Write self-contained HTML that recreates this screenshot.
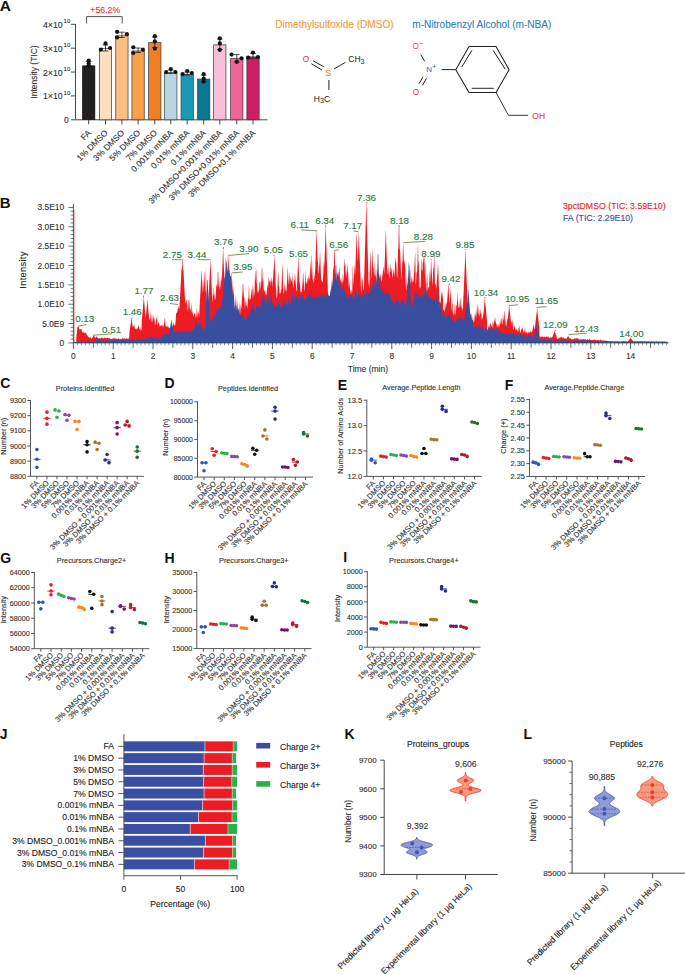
<!DOCTYPE html>
<html><head><meta charset="utf-8"><title>Figure</title>
<style>
html,body{margin:0;padding:0;background:#fff;}
svg{display:block;font-family:"Liberation Sans", sans-serif;}

</style></head><body>
<svg width="685" height="975" viewBox="0 0 685 975">
<rect x="0" y="0" width="685" height="975" fill="#fff"/>
<text x="-0.30" y="10.90" font-size="15.5" text-anchor="start" fill="#111" font-weight="bold">A</text>
<line x1="75.50" y1="24.00" x2="75.50" y2="119.80" stroke="#333" stroke-width="0.9"/>
<line x1="75.50" y1="119.80" x2="267.50" y2="119.80" stroke="#333" stroke-width="0.9"/>
<line x1="70.90" y1="119.80" x2="75.50" y2="119.80" stroke="#333" stroke-width="0.9"/>
<text x="68.90" y="122.90" font-size="8.6" text-anchor="end" fill="#333" stroke="#333" stroke-width="0.12">0</text>
<line x1="70.90" y1="95.92" x2="75.50" y2="95.92" stroke="#333" stroke-width="0.9"/>
<text x="70.3" y="99.42" font-size="8.8" text-anchor="end" fill="#333" stroke="#333" stroke-width="0.12">1×10<tspan font-size="6.0" dy="-4.9" dx="0.9">10</tspan></text>
<line x1="70.90" y1="72.05" x2="75.50" y2="72.05" stroke="#333" stroke-width="0.9"/>
<text x="70.3" y="75.55" font-size="8.8" text-anchor="end" fill="#333" stroke="#333" stroke-width="0.12">2×10<tspan font-size="6.0" dy="-4.9" dx="0.9">10</tspan></text>
<line x1="70.90" y1="48.17" x2="75.50" y2="48.17" stroke="#333" stroke-width="0.9"/>
<text x="70.3" y="51.67" font-size="8.8" text-anchor="end" fill="#333" stroke="#333" stroke-width="0.12">3×10<tspan font-size="6.0" dy="-4.9" dx="0.9">10</tspan></text>
<line x1="70.90" y1="24.30" x2="75.50" y2="24.30" stroke="#333" stroke-width="0.9"/>
<text x="70.3" y="27.80" font-size="8.8" text-anchor="end" fill="#333" stroke="#333" stroke-width="0.12">4×10<tspan font-size="6.0" dy="-4.9" dx="0.9">10</tspan></text>
<text x="37.40" y="72.00" font-size="8.5" text-anchor="middle" fill="#333" stroke="#333" stroke-width="0.12" transform="rotate(-90 37.40 72.00)">Intensity (TIC)</text>
<rect x="82.55" y="65.85" width="12.30" height="53.95" fill="#231f20"/>
<rect x="82.20" y="65.50" width="13.00" height="54.30" fill="#231f20"/>
<line x1="88.70" y1="61.50" x2="88.70" y2="65.50" stroke="#222" stroke-width="0.8"/>
<line x1="85.90" y1="61.50" x2="91.50" y2="61.50" stroke="#222" stroke-width="0.8"/>
<line x1="85.90" y1="65.50" x2="91.50" y2="65.50" stroke="#222" stroke-width="0.8"/>
<circle cx="88.70" cy="60.50" r="2.10" fill="#141414"/>
<circle cx="88.70" cy="63.50" r="2.10" fill="#141414"/>
<circle cx="88.70" cy="65.80" r="2.10" fill="#141414"/>
<line x1="88.70" y1="119.80" x2="88.70" y2="124.40" stroke="#333" stroke-width="0.9"/>
<text x="91.60" y="133.40" font-size="8.45" text-anchor="end" fill="#333" stroke="#333" stroke-width="0.12" transform="rotate(-45 91.60 133.40)">FA</text>
<rect x="99.35" y="48.55" width="12.30" height="71.25" fill="#fde0c2" stroke="#3a3a3a" stroke-width="0.7"/>
<line x1="105.50" y1="45.00" x2="105.50" y2="51.00" stroke="#222" stroke-width="0.8"/>
<line x1="102.70" y1="45.00" x2="108.30" y2="45.00" stroke="#222" stroke-width="0.8"/>
<line x1="102.70" y1="51.00" x2="108.30" y2="51.00" stroke="#222" stroke-width="0.8"/>
<circle cx="100.90" cy="49.70" r="2.10" fill="#141414"/>
<circle cx="105.50" cy="43.40" r="2.10" fill="#141414"/>
<circle cx="110.10" cy="48.00" r="2.10" fill="#141414"/>
<line x1="105.50" y1="119.80" x2="105.50" y2="124.40" stroke="#333" stroke-width="0.9"/>
<text x="108.40" y="133.40" font-size="8.45" text-anchor="end" fill="#333" stroke="#333" stroke-width="0.12" transform="rotate(-45 108.40 133.40)">1% DMSO</text>
<rect x="115.75" y="35.85" width="12.30" height="83.95" fill="#fdbe82" stroke="#3a3a3a" stroke-width="0.7"/>
<line x1="121.90" y1="32.20" x2="121.90" y2="37.50" stroke="#222" stroke-width="0.8"/>
<line x1="119.10" y1="32.20" x2="124.70" y2="32.20" stroke="#222" stroke-width="0.8"/>
<line x1="119.10" y1="37.50" x2="124.70" y2="37.50" stroke="#222" stroke-width="0.8"/>
<circle cx="117.10" cy="31.80" r="2.10" fill="#141414"/>
<circle cx="117.10" cy="37.50" r="2.10" fill="#141414"/>
<circle cx="126.90" cy="34.20" r="2.10" fill="#141414"/>
<line x1="121.90" y1="119.80" x2="121.90" y2="124.40" stroke="#333" stroke-width="0.9"/>
<text x="124.80" y="133.40" font-size="8.45" text-anchor="end" fill="#333" stroke="#333" stroke-width="0.12" transform="rotate(-45 124.80 133.40)">3% DMSO</text>
<rect x="131.95" y="50.95" width="12.30" height="68.85" fill="#f9a04a" stroke="#3a3a3a" stroke-width="0.7"/>
<line x1="138.10" y1="48.00" x2="138.10" y2="52.50" stroke="#222" stroke-width="0.8"/>
<line x1="135.30" y1="48.00" x2="140.90" y2="48.00" stroke="#222" stroke-width="0.8"/>
<line x1="135.30" y1="52.50" x2="140.90" y2="52.50" stroke="#222" stroke-width="0.8"/>
<circle cx="133.30" cy="47.30" r="2.10" fill="#141414"/>
<circle cx="133.30" cy="53.00" r="2.10" fill="#141414"/>
<circle cx="142.90" cy="49.70" r="2.10" fill="#141414"/>
<line x1="138.10" y1="119.80" x2="138.10" y2="124.40" stroke="#333" stroke-width="0.9"/>
<text x="141.00" y="133.40" font-size="8.45" text-anchor="end" fill="#333" stroke="#333" stroke-width="0.12" transform="rotate(-45 141.00 133.40)">5% DMSO</text>
<rect x="148.65" y="42.65" width="12.30" height="77.15" fill="#f07e22" stroke="#3a3a3a" stroke-width="0.7"/>
<line x1="154.80" y1="37.00" x2="154.80" y2="47.50" stroke="#222" stroke-width="0.8"/>
<line x1="152.00" y1="37.00" x2="157.60" y2="37.00" stroke="#222" stroke-width="0.8"/>
<line x1="152.00" y1="47.50" x2="157.60" y2="47.50" stroke="#222" stroke-width="0.8"/>
<circle cx="154.80" cy="36.20" r="2.10" fill="#141414"/>
<circle cx="154.80" cy="41.40" r="2.10" fill="#141414"/>
<circle cx="154.80" cy="48.60" r="2.10" fill="#141414"/>
<line x1="154.80" y1="119.80" x2="154.80" y2="124.40" stroke="#333" stroke-width="0.9"/>
<text x="157.70" y="133.40" font-size="8.45" text-anchor="end" fill="#333" stroke="#333" stroke-width="0.12" transform="rotate(-45 157.70 133.40)">7% DMSO</text>
<rect x="164.65" y="72.45" width="12.30" height="47.35" fill="#b9d5e0" stroke="#3a3a3a" stroke-width="0.7"/>
<line x1="170.80" y1="70.00" x2="170.80" y2="73.50" stroke="#222" stroke-width="0.8"/>
<line x1="168.00" y1="70.00" x2="173.60" y2="70.00" stroke="#222" stroke-width="0.8"/>
<line x1="168.00" y1="73.50" x2="173.60" y2="73.50" stroke="#222" stroke-width="0.8"/>
<circle cx="166.20" cy="72.20" r="2.10" fill="#141414"/>
<circle cx="170.80" cy="69.00" r="2.10" fill="#141414"/>
<circle cx="175.40" cy="72.10" r="2.10" fill="#141414"/>
<line x1="170.80" y1="119.80" x2="170.80" y2="124.40" stroke="#333" stroke-width="0.9"/>
<text x="173.70" y="133.40" font-size="8.45" text-anchor="end" fill="#333" stroke="#333" stroke-width="0.12" transform="rotate(-45 173.70 133.40)">0.001% mNBA</text>
<rect x="181.05" y="74.45" width="12.30" height="45.35" fill="#1b98b4" stroke="#3a3a3a" stroke-width="0.7"/>
<line x1="187.20" y1="72.00" x2="187.20" y2="75.00" stroke="#222" stroke-width="0.8"/>
<line x1="184.40" y1="72.00" x2="190.00" y2="72.00" stroke="#222" stroke-width="0.8"/>
<line x1="184.40" y1="75.00" x2="190.00" y2="75.00" stroke="#222" stroke-width="0.8"/>
<circle cx="182.60" cy="74.10" r="2.10" fill="#141414"/>
<circle cx="187.20" cy="71.00" r="2.10" fill="#141414"/>
<circle cx="191.80" cy="73.00" r="2.10" fill="#141414"/>
<line x1="187.20" y1="119.80" x2="187.20" y2="124.40" stroke="#333" stroke-width="0.9"/>
<text x="190.10" y="133.40" font-size="8.45" text-anchor="end" fill="#333" stroke="#333" stroke-width="0.12" transform="rotate(-45 190.10 133.40)">0.01% mNBA</text>
<rect x="197.55" y="79.05" width="12.30" height="40.75" fill="#0e7790" stroke="#3a3a3a" stroke-width="0.7"/>
<line x1="203.70" y1="75.00" x2="203.70" y2="81.50" stroke="#222" stroke-width="0.8"/>
<line x1="200.90" y1="75.00" x2="206.50" y2="75.00" stroke="#222" stroke-width="0.8"/>
<line x1="200.90" y1="81.50" x2="206.50" y2="81.50" stroke="#222" stroke-width="0.8"/>
<circle cx="203.70" cy="74.10" r="2.10" fill="#141414"/>
<circle cx="203.70" cy="78.70" r="2.10" fill="#141414"/>
<circle cx="203.70" cy="81.70" r="2.10" fill="#141414"/>
<line x1="203.70" y1="119.80" x2="203.70" y2="124.40" stroke="#333" stroke-width="0.9"/>
<text x="206.60" y="133.40" font-size="8.45" text-anchor="end" fill="#333" stroke="#333" stroke-width="0.12" transform="rotate(-45 206.60 133.40)">0.1% mNBA</text>
<rect x="213.65" y="44.85" width="12.30" height="74.95" fill="#f5bfd8" stroke="#3a3a3a" stroke-width="0.7"/>
<line x1="219.80" y1="39.00" x2="219.80" y2="49.50" stroke="#222" stroke-width="0.8"/>
<line x1="217.00" y1="39.00" x2="222.60" y2="39.00" stroke="#222" stroke-width="0.8"/>
<line x1="217.00" y1="49.50" x2="222.60" y2="49.50" stroke="#222" stroke-width="0.8"/>
<circle cx="219.80" cy="38.40" r="2.10" fill="#141414"/>
<circle cx="219.80" cy="43.40" r="2.10" fill="#141414"/>
<circle cx="219.80" cy="49.90" r="2.10" fill="#141414"/>
<line x1="219.80" y1="119.80" x2="219.80" y2="124.40" stroke="#333" stroke-width="0.9"/>
<text x="222.70" y="133.40" font-size="8.45" text-anchor="end" fill="#333" stroke="#333" stroke-width="0.12" transform="rotate(-45 222.70 133.40)">3% DMSO+0.001% mNBA</text>
<rect x="230.65" y="58.65" width="12.30" height="61.15" fill="#ee6497" stroke="#3a3a3a" stroke-width="0.7"/>
<line x1="236.80" y1="54.60" x2="236.80" y2="62.00" stroke="#222" stroke-width="0.8"/>
<line x1="234.00" y1="54.60" x2="239.60" y2="54.60" stroke="#222" stroke-width="0.8"/>
<line x1="234.00" y1="62.00" x2="239.60" y2="62.00" stroke="#222" stroke-width="0.8"/>
<circle cx="231.60" cy="54.60" r="2.10" fill="#141414"/>
<circle cx="241.50" cy="58.30" r="2.10" fill="#141414"/>
<circle cx="236.80" cy="61.80" r="2.10" fill="#141414"/>
<line x1="236.80" y1="119.80" x2="236.80" y2="124.40" stroke="#333" stroke-width="0.9"/>
<text x="239.70" y="133.40" font-size="8.45" text-anchor="end" fill="#333" stroke="#333" stroke-width="0.12" transform="rotate(-45 239.70 133.40)">3% DMSO+0.01% mNBA</text>
<rect x="246.85" y="56.85" width="12.30" height="62.95" fill="#cf1d63" stroke="#3a3a3a" stroke-width="0.7"/>
<line x1="253.00" y1="53.50" x2="253.00" y2="58.50" stroke="#222" stroke-width="0.8"/>
<line x1="250.20" y1="53.50" x2="255.80" y2="53.50" stroke="#222" stroke-width="0.8"/>
<line x1="250.20" y1="58.50" x2="255.80" y2="58.50" stroke="#222" stroke-width="0.8"/>
<circle cx="253.00" cy="52.60" r="2.10" fill="#141414"/>
<circle cx="248.10" cy="57.70" r="2.10" fill="#141414"/>
<circle cx="257.90" cy="57.20" r="2.10" fill="#141414"/>
<line x1="253.00" y1="119.80" x2="253.00" y2="124.40" stroke="#333" stroke-width="0.9"/>
<text x="255.90" y="133.40" font-size="8.45" text-anchor="end" fill="#333" stroke="#333" stroke-width="0.12" transform="rotate(-45 255.90 133.40)">3% DMSO+0.1% mNBA</text>
<path d="M86.6,23.5 L86.6,16.6 L122.2,16.6 L122.2,23.5" fill="none" stroke="#444" stroke-width="0.9"/>
<text x="105.30" y="13.10" font-size="8.8" text-anchor="middle" fill="#e8343c" stroke="#e8343c" stroke-width="0.12">+56.2%</text>
<text x="334.40" y="27.50" font-size="10.05" text-anchor="middle" fill="#f39a3c" stroke="#f39a3c" stroke-width="0.12">Dimethylsulfoxide (DMSO)</text>
<text x="481.80" y="27.70" font-size="10.05" text-anchor="middle" fill="#2f7fbf" stroke="#2f7fbf" stroke-width="0.12">m-Nitrobenzyl Alcohol (m-NBA)</text>
<text x="306.00" y="61.60" font-size="8.2" text-anchor="middle" fill="#ec3b43" stroke="#ec3b43" stroke-width="0.12">O</text>
<line x1="313.10" y1="60.80" x2="323.60" y2="66.60" stroke="#222" stroke-width="1.0"/>
<line x1="311.40" y1="63.70" x2="322.10" y2="70.10" stroke="#222" stroke-width="1.0"/>
<text x="328.30" y="75.60" font-size="9.0" text-anchor="middle" fill="#c9a227" stroke="#c9a227" stroke-width="0.12">S</text>
<line x1="334.10" y1="68.90" x2="345.50" y2="62.30" stroke="#222" stroke-width="1.0"/>
<text x="348.3" y="61.8" font-size="8.5" fill="#222">CH<tspan font-size="7.2" dy="1.9">3</tspan></text>
<line x1="328.90" y1="80.00" x2="328.90" y2="90.00" stroke="#222" stroke-width="1.0"/>
<text x="313.8" y="102.3" font-size="8.5" fill="#222">H<tspan font-size="7.2" dy="0.6">3</tspan><tspan dy="-0.6">C</tspan></text>
<text x="412.6" y="49.4" font-size="8.2" fill="#ec3b43">O<tspan font-size="8" dy="-3.4">−</tspan></text>
<line x1="420.80" y1="54.70" x2="424.70" y2="61.30" stroke="#222" stroke-width="1.0"/>
<text x="426.2" y="72.2" font-size="8.0" fill="#3f5fb8">N<tspan font-size="7.8" dy="-3.4">+</tspan></text>
<line x1="423.00" y1="76.90" x2="419.00" y2="83.60" stroke="#222" stroke-width="1.0"/>
<line x1="426.50" y1="78.30" x2="422.50" y2="85.30" stroke="#222" stroke-width="1.0"/>
<text x="416.00" y="95.40" font-size="8.2" text-anchor="middle" fill="#ec3b43" stroke="#ec3b43" stroke-width="0.12">O</text>
<line x1="441.80" y1="69.60" x2="455.80" y2="69.60" stroke="#222" stroke-width="1.0"/>
<polygon points="455.8,69.7 469.0,46.4 496.0,46.4 509.1,69.7 496.0,92.4 469.0,92.4" fill="none" stroke="#222" stroke-width="1.05" stroke-linejoin="miter"/>
<line x1="461.70" y1="67.10" x2="471.90" y2="50.30" stroke="#222" stroke-width="1.0"/>
<line x1="493.10" y1="50.30" x2="505.20" y2="69.20" stroke="#222" stroke-width="1.0"/>
<line x1="471.90" y1="88.30" x2="493.80" y2="88.30" stroke="#222" stroke-width="1.0"/>
<line x1="496.00" y1="92.40" x2="508.40" y2="115.30" stroke="#222" stroke-width="0.9"/>
<line x1="508.40" y1="115.30" x2="528.10" y2="115.30" stroke="#222" stroke-width="0.9"/>
<text x="532.30" y="118.90" font-size="8.5" text-anchor="start" fill="#ec3b43" stroke="#ec3b43" stroke-width="0.12">OH</text>
<text x="-0.20" y="207.60" font-size="15" text-anchor="start" fill="#111" font-weight="bold">B</text>
<path d="M74.0,342.9 L74.00,342.5 L74.25,342.5 L74.50,342.5 L74.75,342.5 L75.00,342.5 L75.25,342.5 L75.50,342.5 L75.75,342.5 L76.00,342.5 L76.25,342.2 L76.50,334.9 L76.75,333.8 L77.00,331.9 L77.25,327.6 L77.50,327.1 L77.75,327.1 L78.00,327.3 L78.25,326.7 L78.50,326.0 L78.75,326.0 L79.00,327.7 L79.25,328.7 L79.50,329.6 L79.75,329.5 L80.00,329.4 L80.25,329.3 L80.50,329.1 L80.75,329.0 L81.00,329.1 L81.25,329.0 L81.50,329.8 L81.75,330.4 L82.00,331.2 L82.25,331.7 L82.50,332.2 L82.75,332.6 L83.00,332.7 L83.25,332.8 L83.50,332.3 L83.75,331.8 L84.00,331.2 L84.25,332.3 L84.50,333.4 L84.75,333.4 L85.00,333.1 L85.25,333.0 L85.50,332.9 L85.75,332.5 L86.00,332.4 L86.25,333.5 L86.50,334.3 L86.75,335.2 L87.00,335.1 L87.25,335.1 L87.50,335.5 L87.75,336.2 L88.00,336.6 L88.25,336.9 L88.50,336.8 L88.75,337.3 L89.00,337.6 L89.25,337.9 L89.50,337.7 L89.75,337.5 L90.00,337.2 L90.25,337.0 L90.50,337.5 L90.75,338.0 L91.00,338.3 L91.25,338.5 L91.50,338.5 L91.75,338.4 L92.00,338.1 L92.25,337.7 L92.50,337.4 L92.75,336.9 L93.00,336.4 L93.25,335.9 L93.50,335.0 L93.75,335.0 L94.00,335.6 L94.25,336.1 L94.50,336.6 L94.75,337.1 L95.00,337.6 L95.25,337.7 L95.50,337.6 L95.75,338.1 L96.00,337.3 L96.25,336.5 L96.50,336.1 L96.75,336.8 L97.00,337.4 L97.25,337.9 L97.50,337.4 L97.75,338.0 L98.00,338.4 L98.25,338.6 L98.50,338.4 L98.75,338.2 L99.00,338.2 L99.25,338.1 L99.50,338.2 L99.75,338.4 L100.00,338.6 L100.25,338.3 L100.50,338.3 L100.75,338.4 L101.00,337.8 L101.25,337.4 L101.50,337.3 L101.75,337.9 L102.00,338.4 L102.25,338.3 L102.50,337.9 L102.75,337.6 L103.00,337.9 L103.25,338.4 L103.50,338.5 L103.75,338.1 L104.00,337.4 L104.25,337.2 L104.50,337.7 L104.75,338.0 L105.00,338.5 L105.25,338.1 L105.50,338.0 L105.75,337.8 L106.00,337.9 L106.25,338.1 L106.50,338.3 L106.75,338.3 L107.00,338.2 L107.25,338.0 L107.50,337.7 L107.75,337.8 L108.00,338.1 L108.25,338.4 L108.50,338.2 L108.75,337.8 L109.00,337.9 L109.25,338.3 L109.50,338.1 L109.75,338.3 L110.00,338.6 L110.25,338.8 L110.50,339.1 L110.75,339.0 L111.00,338.7 L111.25,338.9 L111.50,339.0 L111.75,338.9 L112.00,338.7 L112.25,338.4 L112.50,338.4 L112.75,338.6 L113.00,338.9 L113.25,339.1 L113.50,338.5 L113.75,337.8 L114.00,337.3 L114.25,337.6 L114.50,338.4 L114.75,338.7 L115.00,338.9 L115.25,338.7 L115.50,338.5 L115.75,338.5 L116.00,338.2 L116.25,338.4 L116.50,338.6 L116.75,339.0 L117.00,339.3 L117.25,339.2 L117.50,338.9 L117.75,338.7 L118.00,339.0 L118.25,338.6 L118.50,338.1 L118.75,338.3 L119.00,338.9 L119.25,339.2 L119.50,338.9 L119.75,339.4 L120.00,339.5 L120.25,339.2 L120.50,338.8 L120.75,338.7 L121.00,339.0 L121.25,339.2 L121.50,338.9 L121.75,338.9 L122.00,339.0 L122.25,338.5 L122.50,338.0 L122.75,338.0 L123.00,338.3 L123.25,338.7 L123.50,338.2 L123.75,338.6 L124.00,339.1 L124.25,338.8 L124.50,338.5 L124.75,338.1 L125.00,338.3 L125.25,338.7 L125.50,339.0 L125.75,338.5 L126.00,338.7 L126.25,338.9 L126.50,338.3 L126.75,337.9 L127.00,337.9 L127.25,338.4 L127.50,338.9 L127.75,339.2 L128.00,339.6 L128.25,339.1 L128.50,338.5 L128.75,338.2 L129.00,337.5 L129.25,336.9 L129.50,330.9 L129.75,329.5 L130.00,328.0 L130.25,326.5 L130.50,325.0 L130.75,323.5 L131.00,322.0 L131.25,319.0 L131.50,319.0 L131.75,319.0 L132.00,322.0 L132.25,323.5 L132.50,325.0 L132.75,326.5 L133.00,327.1 L133.25,326.3 L133.50,326.8 L133.75,325.4 L134.00,323.4 L134.25,325.0 L134.50,326.5 L134.75,327.9 L135.00,329.1 L135.25,328.7 L135.50,327.9 L135.75,328.8 L136.00,329.8 L136.25,329.2 L136.50,328.5 L136.75,328.6 L137.00,329.1 L137.25,329.3 L137.50,328.3 L137.75,327.5 L138.00,327.3 L138.25,325.8 L138.50,324.8 L138.75,326.5 L139.00,328.1 L139.25,329.7 L139.50,328.9 L139.75,328.2 L140.00,326.5 L140.25,327.5 L140.50,329.1 L140.75,330.4 L141.00,330.4 L141.25,329.9 L141.50,329.8 L141.75,320.8 L142.00,318.0 L142.25,315.2 L142.50,312.3 L142.75,309.5 L143.00,306.7 L143.25,303.8 L143.50,301.0 L143.75,297.6 L144.00,297.6 L144.25,302.7 L144.50,305.5 L144.75,308.4 L145.00,311.2 L145.25,314.0 L145.50,316.9 L145.75,317.8 L146.00,315.1 L146.25,312.4 L146.50,309.7 L146.75,307.1 L147.00,304.4 L147.25,300.1 L147.50,300.1 L147.75,303.8 L148.00,306.5 L148.25,309.2 L148.50,311.9 L148.75,314.5 L149.00,317.2 L149.25,319.9 L149.50,320.2 L149.75,318.6 L150.00,320.3 L150.25,318.0 L150.50,315.8 L150.75,311.5 L151.00,312.8 L151.25,316.3 L151.50,318.6 L151.75,320.9 L152.00,322.3 L152.25,321.6 L152.50,320.1 L152.75,317.0 L153.00,313.6 L153.25,315.6 L153.50,318.8 L153.75,318.7 L154.00,316.9 L154.25,317.9 L154.50,320.0 L154.75,321.6 L155.00,324.1 L155.25,325.7 L155.50,324.4 L155.75,322.6 L156.00,319.5 L156.25,318.0 L156.50,320.7 L156.75,317.4 L157.00,313.7 L157.25,319.1 L157.50,324.3 L157.75,325.7 L158.00,324.0 L158.25,322.0 L158.50,321.7 L158.75,323.6 L159.00,323.3 L159.25,324.1 L159.50,324.7 L159.75,326.5 L160.00,327.1 L160.25,325.5 L160.50,325.1 L160.75,326.0 L161.00,325.8 L161.25,325.3 L161.50,325.2 L161.75,325.3 L162.00,326.1 L162.25,326.9 L162.50,325.6 L162.75,324.4 L163.00,324.8 L163.25,325.8 L163.50,327.2 L163.75,326.0 L164.00,324.5 L164.25,323.1 L164.50,320.8 L164.75,318.0 L165.00,317.9 L165.25,321.0 L165.50,323.8 L165.75,325.8 L166.00,327.4 L166.25,326.6 L166.50,325.7 L166.75,326.0 L167.00,327.0 L167.25,327.6 L167.50,326.6 L167.75,325.2 L168.00,325.1 L168.25,326.3 L168.50,327.4 L168.75,327.4 L169.00,327.6 L169.25,328.1 L169.50,328.3 L169.75,328.2 L170.00,328.2 L170.25,328.4 L170.50,328.5 L170.75,328.7 L171.00,328.8 L171.25,328.9 L171.50,327.9 L171.75,326.5 L172.00,325.3 L172.25,326.2 L172.50,327.6 L172.75,326.2 L173.00,325.1 L173.25,323.7 L173.50,322.1 L173.75,323.1 L174.00,324.8 L174.25,326.4 L174.50,325.2 L174.75,324.4 L175.00,324.7 L175.25,324.8 L175.50,321.9 L175.75,319.4 L176.00,315.8 L176.25,312.6 L176.50,312.9 L176.75,312.6 L177.00,312.7 L177.25,311.6 L177.50,310.9 L177.75,308.6 L178.00,306.0 L178.25,306.0 L178.50,307.9 L178.75,308.5 L179.00,309.0 L179.25,308.5 L179.50,307.2 L179.75,302.6 L180.00,298.0 L180.25,293.3 L180.50,288.6 L180.75,283.9 L181.00,279.2 L181.25,274.6 L181.50,268.0 L181.75,268.0 L182.00,271.0 L182.25,260.7 L182.50,260.7 L182.75,260.7 L183.00,271.0 L183.25,270.0 L183.50,270.0 L183.75,276.4 L184.00,280.9 L184.25,285.5 L184.50,290.0 L184.75,294.6 L185.00,299.2 L185.25,303.7 L185.50,302.6 L185.75,302.0 L186.00,299.4 L186.25,299.2 L186.50,300.2 L186.75,302.0 L187.00,305.5 L187.25,307.4 L187.50,309.2 L187.75,309.8 L188.00,311.3 L188.25,306.7 L188.50,300.9 L188.75,299.3 L189.00,300.2 L189.25,298.4 L189.50,304.0 L189.75,307.9 L190.00,309.2 L190.25,310.7 L190.50,308.0 L190.75,308.8 L191.00,311.9 L191.25,312.7 L191.50,306.4 L191.75,301.2 L192.00,306.9 L192.25,314.5 L192.50,313.8 L192.75,311.3 L193.00,311.7 L193.25,315.8 L193.50,316.8 L193.75,316.0 L194.00,315.1 L194.25,312.7 L194.50,314.1 L194.75,314.0 L195.00,312.6 L195.25,315.7 L195.50,314.1 L195.75,317.3 L196.00,318.1 L196.25,316.2 L196.50,312.4 L196.75,309.4 L197.00,306.9 L197.25,311.6 L197.50,316.2 L197.75,317.7 L198.00,313.5 L198.25,313.1 L198.50,312.6 L198.75,311.1 L199.00,314.9 L199.25,316.0 L199.50,308.6 L199.75,304.1 L200.00,299.6 L200.25,295.1 L200.50,290.6 L200.75,286.0 L201.00,281.5 L201.25,277.0 L201.50,270.7 L201.75,270.7 L202.00,277.9 L202.25,282.4 L202.50,286.9 L202.75,291.5 L203.00,293.3 L203.25,288.8 L203.50,284.4 L203.75,280.0 L204.00,272.0 L204.25,272.0 L204.50,277.3 L204.75,281.7 L205.00,286.2 L205.25,290.6 L205.50,292.7 L205.75,276.4 L206.00,265.9 L206.25,282.1 L206.50,296.6 L206.75,310.1 L207.00,319.6 L207.25,322.1 L207.50,318.2 L207.75,314.7 L208.00,311.0 L208.25,305.0 L208.50,299.9 L208.75,294.8 L209.00,289.7 L209.25,284.5 L209.50,279.4 L209.75,274.3 L210.00,269.2 L210.25,261.0 L210.50,261.0 L210.75,268.2 L211.00,273.3 L211.25,278.4 L211.50,283.5 L211.75,288.6 L212.00,293.8 L212.25,298.9 L212.50,303.6 L212.75,296.3 L213.00,292.7 L213.25,296.3 L213.50,293.8 L213.75,287.7 L214.00,289.0 L214.25,293.6 L214.50,295.2 L214.75,299.2 L215.00,300.7 L215.25,299.1 L215.50,298.2 L215.75,294.4 L216.00,290.1 L216.25,286.4 L216.50,284.8 L216.75,283.7 L217.00,287.7 L217.25,285.3 L217.50,280.9 L217.75,272.0 L218.00,272.0 L218.25,272.0 L218.50,280.9 L218.75,285.3 L219.00,286.9 L219.25,289.8 L219.50,287.3 L219.75,282.2 L220.00,278.2 L220.25,281.5 L220.50,287.0 L220.75,288.9 L221.00,281.6 L221.25,273.4 L221.50,281.3 L221.75,281.0 L222.00,275.2 L222.25,269.3 L222.50,263.5 L222.75,257.7 L223.00,249.5 L223.25,249.5 L223.50,258.8 L223.75,264.7 L224.00,270.5 L224.25,276.4 L224.50,282.2 L224.75,282.6 L225.00,277.3 L225.25,272.0 L225.50,266.7 L225.75,258.2 L226.00,258.2 L226.25,265.6 L226.50,270.9 L226.75,267.2 L227.00,253.7 L227.25,267.5 L227.50,279.9 L227.75,274.5 L228.00,269.0 L228.25,263.6 L228.50,255.2 L228.75,256.0 L229.00,264.7 L229.25,270.1 L229.50,275.6 L229.75,278.8 L230.00,285.2 L230.25,289.2 L230.50,292.5 L230.75,289.6 L231.00,285.2 L231.25,280.9 L231.50,273.0 L231.75,273.0 L232.00,278.2 L232.25,282.6 L232.50,287.0 L232.75,291.3 L233.00,291.9 L233.25,285.8 L233.50,292.0 L233.75,299.2 L234.00,306.7 L234.25,314.3 L234.50,312.7 L234.75,309.4 L235.00,307.0 L235.25,305.0 L235.50,300.7 L235.75,294.9 L236.00,297.1 L236.25,301.4 L236.50,306.1 L236.75,310.6 L237.00,307.8 L237.25,310.6 L237.50,303.2 L237.75,299.2 L238.00,310.0 L238.25,319.0 L238.50,318.9 L238.75,319.2 L239.00,314.8 L239.25,308.0 L239.50,300.8 L239.75,308.6 L240.00,315.2 L240.25,311.4 L240.50,308.4 L240.75,303.1 L241.00,307.4 L241.25,309.1 L241.50,306.0 L241.75,302.3 L242.00,298.6 L242.25,295.0 L242.50,291.3 L242.75,283.9 L243.00,283.9 L243.25,283.9 L243.50,291.3 L243.75,295.0 L244.00,298.6 L244.25,295.7 L244.50,299.9 L244.75,304.5 L245.00,310.0 L245.25,303.9 L245.50,297.2 L245.75,300.9 L246.00,306.0 L246.25,305.9 L246.50,301.5 L246.75,304.3 L247.00,306.2 L247.25,309.2 L247.50,305.9 L247.75,301.4 L248.00,297.4 L248.25,299.0 L248.50,298.1 L248.75,288.7 L249.00,284.0 L249.25,292.9 L249.50,299.1 L249.75,300.7 L250.00,298.5 L250.25,297.9 L250.50,300.3 L250.75,298.4 L251.00,293.5 L251.25,288.2 L251.50,289.2 L251.75,295.4 L252.00,291.9 L252.25,282.4 L252.50,289.8 L252.75,295.8 L253.00,299.1 L253.25,295.9 L253.50,291.1 L253.75,285.6 L254.00,291.6 L254.25,295.7 L254.50,294.3 L254.75,285.2 L255.00,273.8 L255.25,267.1 L255.50,278.9 L255.75,281.2 L256.00,272.1 L256.25,267.8 L256.50,276.8 L256.75,283.8 L257.00,284.5 L257.25,293.5 L257.50,292.2 L257.75,291.0 L258.00,287.4 L258.25,290.2 L258.50,291.4 L258.75,293.9 L259.00,291.1 L259.25,286.7 L259.50,281.4 L259.75,282.0 L260.00,284.2 L260.25,280.3 L260.50,285.5 L260.75,291.1 L261.00,286.8 L261.25,282.1 L261.50,277.5 L261.75,268.1 L262.00,268.1 L262.25,268.1 L262.50,277.5 L262.75,282.1 L263.00,280.8 L263.25,278.8 L263.50,283.7 L263.75,289.0 L264.00,291.4 L264.25,291.7 L264.50,291.1 L264.75,289.7 L265.00,289.2 L265.25,291.6 L265.50,293.7 L265.75,294.5 L266.00,294.2 L266.25,294.8 L266.50,295.4 L266.75,292.4 L267.00,288.3 L267.25,283.5 L267.50,285.6 L267.75,288.1 L268.00,289.8 L268.25,284.9 L268.50,280.3 L268.75,277.0 L269.00,278.5 L269.25,280.9 L269.50,283.1 L269.75,280.7 L270.00,280.2 L270.25,279.4 L270.50,283.4 L270.75,286.0 L271.00,278.3 L271.25,277.2 L271.50,282.3 L271.75,281.9 L272.00,277.4 L272.25,281.9 L272.50,288.0 L272.75,282.9 L273.00,279.3 L273.25,275.6 L273.50,271.0 L273.75,270.1 L274.00,264.7 L274.25,256.0 L274.50,256.0 L274.75,263.6 L275.00,269.0 L275.25,274.5 L275.50,279.9 L275.75,285.3 L276.00,289.2 L276.25,291.8 L276.50,295.6 L276.75,298.8 L277.00,297.7 L277.25,295.0 L277.50,288.9 L277.75,281.5 L278.00,273.0 L278.25,271.8 L278.50,277.3 L278.75,285.2 L279.00,286.3 L279.25,289.5 L279.50,292.7 L279.75,293.4 L280.00,293.7 L280.25,293.3 L280.50,292.9 L280.75,292.0 L281.00,287.9 L281.25,291.4 L281.50,287.4 L281.75,281.9 L282.00,274.1 L282.25,266.4 L282.50,264.3 L282.75,273.1 L283.00,281.9 L283.25,289.2 L283.50,294.0 L283.75,293.8 L284.00,292.2 L284.25,289.1 L284.50,286.0 L284.75,283.2 L285.00,286.1 L285.25,288.0 L285.50,291.1 L285.75,291.7 L286.00,288.8 L286.25,290.8 L286.50,291.4 L286.75,286.5 L287.00,281.1 L287.25,277.5 L287.50,271.2 L287.75,266.0 L288.00,271.3 L288.25,276.9 L288.50,282.5 L288.75,285.8 L289.00,276.9 L289.25,270.7 L289.50,274.2 L289.75,280.2 L290.00,284.8 L290.25,281.0 L290.50,277.2 L290.75,275.3 L291.00,280.5 L291.25,281.5 L291.50,279.3 L291.75,278.9 L292.00,282.4 L292.25,285.0 L292.50,277.9 L292.75,271.1 L293.00,279.0 L293.25,287.4 L293.50,288.2 L293.75,286.2 L294.00,282.6 L294.25,280.1 L294.50,280.1 L294.75,275.6 L295.00,271.9 L295.25,276.5 L295.50,280.3 L295.75,283.3 L296.00,286.2 L296.25,290.8 L296.50,291.3 L296.75,291.2 L297.00,285.9 L297.25,280.7 L297.50,275.4 L297.75,270.1 L298.00,264.8 L298.25,258.5 L298.50,258.5 L298.75,268.0 L299.00,273.3 L299.25,278.5 L299.50,283.8 L299.75,281.2 L300.00,284.2 L300.25,287.2 L300.50,291.4 L300.75,292.1 L301.00,291.8 L301.25,292.0 L301.50,292.0 L301.75,292.9 L302.00,289.8 L302.25,286.3 L302.50,283.5 L302.75,278.3 L303.00,273.4 L303.25,272.3 L303.50,278.3 L303.75,282.2 L304.00,285.2 L304.25,289.8 L304.50,291.8 L304.75,288.7 L305.00,279.4 L305.25,270.6 L305.50,272.8 L305.75,281.2 L306.00,284.2 L306.25,280.9 L306.50,281.8 L306.75,284.1 L307.00,284.3 L307.25,282.9 L307.50,278.3 L307.75,276.7 L308.00,281.0 L308.25,278.5 L308.50,274.6 L308.75,277.4 L309.00,282.2 L309.25,277.5 L309.50,279.4 L309.75,276.7 L310.00,269.8 L310.25,260.4 L310.50,264.0 L310.75,270.1 L311.00,275.9 L311.25,270.0 L311.50,262.7 L311.75,253.4 L312.00,258.2 L312.25,268.2 L312.50,273.9 L312.75,279.7 L313.00,280.7 L313.25,283.8 L313.50,279.1 L313.75,278.9 L314.00,282.7 L314.25,278.6 L314.50,276.8 L314.75,273.4 L315.00,272.3 L315.25,268.8 L315.50,261.8 L315.75,254.8 L316.00,247.8 L316.25,240.8 L316.50,231.0 L316.75,231.0 L317.00,242.2 L317.25,249.2 L317.50,256.2 L317.75,261.0 L318.00,263.3 L318.25,267.5 L318.50,272.4 L318.75,274.2 L319.00,270.1 L319.25,264.8 L319.50,264.5 L319.75,257.4 L320.00,251.6 L320.25,256.0 L320.50,263.6 L320.75,270.0 L321.00,276.8 L321.25,280.6 L321.50,281.6 L321.75,279.9 L322.00,279.2 L322.25,282.0 L322.50,282.2 L322.75,282.8 L323.00,279.2 L323.25,273.4 L323.50,268.9 L323.75,263.9 L324.00,259.4 L324.25,268.1 L324.50,262.1 L324.75,254.9 L325.00,247.7 L325.25,240.5 L325.50,227.5 L325.75,227.5 L326.00,236.2 L326.25,243.4 L326.50,250.6 L326.75,257.8 L327.00,265.0 L327.25,272.2 L327.50,279.4 L327.75,286.6 L328.00,296.3 L328.25,299.2 L328.50,300.8 L328.75,302.5 L329.00,301.7 L329.25,305.0 L329.50,303.0 L329.75,299.4 L330.00,294.0 L330.25,288.4 L330.50,290.0 L330.75,293.7 L331.00,294.3 L331.25,294.6 L331.50,291.7 L331.75,287.5 L332.00,285.9 L332.25,288.4 L332.50,286.7 L332.75,280.0 L333.00,270.3 L333.25,265.4 L333.50,270.9 L333.75,267.8 L334.00,262.1 L334.25,250.5 L334.50,250.5 L334.75,250.5 L335.00,262.1 L335.25,267.8 L335.50,273.6 L335.75,273.0 L336.00,284.0 L336.25,282.3 L336.50,278.0 L336.75,273.6 L337.00,271.0 L337.25,274.3 L337.50,273.7 L337.75,277.0 L338.00,272.0 L338.25,271.5 L338.50,277.2 L338.75,274.7 L339.00,270.1 L339.25,266.4 L339.50,268.8 L339.75,273.4 L340.00,278.8 L340.25,281.8 L340.50,280.1 L340.75,279.2 L341.00,277.5 L341.25,278.5 L341.50,282.3 L341.75,282.2 L342.00,283.9 L342.25,283.0 L342.50,280.8 L342.75,275.1 L343.00,273.2 L343.25,280.6 L343.50,281.8 L343.75,278.3 L344.00,270.2 L344.25,260.2 L344.50,258.0 L344.75,264.3 L345.00,266.1 L345.25,261.9 L345.50,269.8 L345.75,275.6 L346.00,269.5 L346.25,270.5 L346.50,275.3 L346.75,278.0 L347.00,274.0 L347.25,271.4 L347.50,265.9 L347.75,262.9 L348.00,269.1 L348.25,274.0 L348.50,279.8 L348.75,285.8 L349.00,288.1 L349.25,284.8 L349.50,281.7 L349.75,284.5 L350.00,290.1 L350.25,290.3 L350.50,290.6 L350.75,293.1 L351.00,294.3 L351.25,292.2 L351.50,288.7 L351.75,290.8 L352.00,293.0 L352.25,290.5 L352.50,279.1 L352.75,267.0 L353.00,265.3 L353.25,275.9 L353.50,285.7 L353.75,281.5 L354.00,275.8 L354.25,269.2 L354.50,263.1 L354.75,269.0 L355.00,275.6 L355.25,270.8 L355.50,263.9 L355.75,257.1 L356.00,250.3 L356.25,243.5 L356.50,234.0 L356.75,234.0 L357.00,244.9 L357.25,251.7 L357.50,258.5 L357.75,261.8 L358.00,255.0 L358.25,248.1 L358.50,241.2 L358.75,233.0 L359.00,233.0 L359.25,245.4 L359.50,252.2 L359.75,259.1 L360.00,266.0 L360.25,272.8 L360.50,274.5 L360.75,282.3 L361.00,291.4 L361.25,294.0 L361.50,287.0 L361.75,276.9 L362.00,280.4 L362.25,278.6 L362.50,278.3 L362.75,282.8 L363.00,288.4 L363.25,291.2 L363.50,290.7 L363.75,289.1 L364.00,285.6 L364.25,274.9 L364.50,266.2 L364.75,257.5 L365.00,248.8 L365.25,240.1 L365.50,231.4 L365.75,222.7 L366.00,214.0 L366.25,203.5 L366.50,203.5 L366.75,219.2 L367.00,227.9 L367.25,236.6 L367.50,245.3 L367.75,254.0 L368.00,262.7 L368.25,271.5 L368.50,280.2 L368.75,283.7 L369.00,285.8 L369.25,288.6 L369.50,280.8 L369.75,272.9 L370.00,262.5 L370.25,251.3 L370.50,253.1 L370.75,262.8 L371.00,273.1 L371.25,279.7 L371.50,273.3 L371.75,264.7 L372.00,255.4 L372.25,248.3 L372.50,255.4 L372.75,261.8 L373.00,267.7 L373.25,268.8 L373.50,265.5 L373.75,271.0 L374.00,273.4 L374.25,276.3 L374.50,274.5 L374.75,261.8 L375.00,263.9 L375.25,276.0 L375.50,277.2 L375.75,272.9 L376.00,267.9 L376.25,271.4 L376.50,277.4 L376.75,280.8 L377.00,283.6 L377.25,285.0 L377.50,282.6 L377.75,280.1 L378.00,277.7 L378.25,273.8 L378.50,270.7 L378.75,273.6 L379.00,273.7 L379.25,276.2 L379.50,278.8 L379.75,277.1 L380.00,273.3 L380.25,273.5 L380.50,275.9 L380.75,276.4 L381.00,280.5 L381.25,281.8 L381.50,279.6 L381.75,281.4 L382.00,278.5 L382.25,276.0 L382.50,274.9 L382.75,272.7 L383.00,269.4 L383.25,266.0 L383.50,267.8 L383.75,270.4 L384.00,271.6 L384.25,274.4 L384.50,267.4 L384.75,260.4 L385.00,253.4 L385.25,246.4 L385.50,239.4 L385.75,231.0 L386.00,231.0 L386.25,243.6 L386.50,250.6 L386.75,257.6 L387.00,264.6 L387.25,271.6 L387.50,275.4 L387.75,271.0 L388.00,267.9 L388.25,267.0 L388.50,269.3 L388.75,273.1 L389.00,276.1 L389.25,279.2 L389.50,276.0 L389.75,271.2 L390.00,266.7 L390.25,262.4 L390.50,267.0 L390.75,272.1 L391.00,272.1 L391.25,268.2 L391.50,268.0 L391.75,270.0 L392.00,273.6 L392.25,277.6 L392.50,276.9 L392.75,275.4 L393.00,267.7 L393.25,269.6 L393.50,274.2 L393.75,271.9 L394.00,269.7 L394.25,274.3 L394.50,277.7 L394.75,272.1 L395.00,265.1 L395.25,258.7 L395.50,257.3 L395.75,261.2 L396.00,264.1 L396.25,260.1 L396.50,267.1 L396.75,272.5 L397.00,277.2 L397.25,278.0 L397.50,270.8 L397.75,263.6 L398.00,248.8 L398.25,249.1 L398.50,241.9 L398.75,227.5 L399.00,227.5 L399.25,227.5 L399.50,241.9 L399.75,249.1 L400.00,250.7 L400.25,252.4 L400.50,260.2 L400.75,265.4 L401.00,273.1 L401.25,278.5 L401.50,280.0 L401.75,274.3 L402.00,267.6 L402.25,262.3 L402.50,261.3 L402.75,255.1 L403.00,244.0 L403.25,244.0 L403.50,251.4 L403.75,257.6 L404.00,263.8 L404.25,263.8 L404.50,259.4 L404.75,260.4 L405.00,266.0 L405.25,269.8 L405.50,277.0 L405.75,285.1 L406.00,288.9 L406.25,291.1 L406.50,285.2 L406.75,278.4 L407.00,273.0 L407.25,280.0 L407.50,285.7 L407.75,283.2 L408.00,287.0 L408.25,282.3 L408.50,279.2 L408.75,274.9 L409.00,278.8 L409.25,279.3 L409.50,266.0 L409.75,264.1 L410.00,272.0 L410.25,268.5 L410.50,280.0 L410.75,284.1 L411.00,280.7 L411.25,276.8 L411.50,276.4 L411.75,280.9 L412.00,283.5 L412.25,282.4 L412.50,281.3 L412.75,278.4 L413.00,279.5 L413.25,281.4 L413.50,282.1 L413.75,278.9 L414.00,267.3 L414.25,254.5 L414.50,270.3 L414.75,273.4 L415.00,254.5 L415.25,251.7 L415.50,268.5 L415.75,284.6 L416.00,284.0 L416.25,277.6 L416.50,272.4 L416.75,271.7 L417.00,273.2 L417.25,268.0 L417.50,261.0 L417.75,250.7 L418.00,243.6 L418.25,253.8 L418.50,264.0 L418.75,261.0 L419.00,271.4 L419.25,278.9 L419.50,286.7 L419.75,288.7 L420.00,286.4 L420.25,287.8 L420.50,288.8 L420.75,283.5 L421.00,272.4 L421.25,259.7 L421.50,259.0 L421.75,269.6 L422.00,269.9 L422.25,270.9 L422.50,270.5 L422.75,262.1 L423.00,261.5 L423.25,256.0 L423.50,256.4 L423.75,263.1 L424.00,260.1 L424.25,251.8 L424.50,260.8 L424.75,268.2 L425.00,277.2 L425.25,284.1 L425.50,274.4 L425.75,259.3 L426.00,267.4 L426.25,282.5 L426.50,296.0 L426.75,286.7 L427.00,278.9 L427.25,272.0 L427.50,282.0 L427.75,292.1 L428.00,289.0 L428.25,287.6 L428.50,286.4 L428.75,287.2 L429.00,289.4 L429.25,280.3 L429.50,270.6 L429.75,272.0 L430.00,282.7 L430.25,280.1 L430.50,274.9 L430.75,269.8 L431.00,260.5 L431.25,260.5 L431.50,266.7 L431.75,271.8 L432.00,275.2 L432.25,281.5 L432.50,285.8 L432.75,280.3 L433.00,274.4 L433.25,268.2 L433.50,267.5 L433.75,267.9 L434.00,255.9 L434.25,253.5 L434.50,264.7 L434.75,275.5 L435.00,285.0 L435.25,285.5 L435.50,283.3 L435.75,283.2 L436.00,286.1 L436.25,289.2 L436.50,286.0 L436.75,283.4 L437.00,280.4 L437.25,274.5 L437.50,273.3 L437.75,268.8 L438.00,263.1 L438.25,266.6 L438.50,274.4 L438.75,282.8 L439.00,288.4 L439.25,296.2 L439.50,300.9 L439.75,302.2 L440.00,301.9 L440.25,302.8 L440.50,304.3 L440.75,301.0 L441.00,298.2 L441.25,293.8 L441.50,289.3 L441.75,296.0 L442.00,291.9 L442.25,298.2 L442.50,295.1 L442.75,291.0 L443.00,299.8 L443.25,310.8 L443.50,309.5 L443.75,309.1 L444.00,310.8 L444.25,312.4 L444.50,311.6 L444.75,306.5 L445.00,301.9 L445.25,302.9 L445.50,307.6 L445.75,309.6 L446.00,307.7 L446.25,304.7 L446.50,301.8 L446.75,304.1 L447.00,303.5 L447.25,299.9 L447.50,296.3 L447.75,292.6 L448.00,289.0 L448.25,284.6 L448.50,284.6 L448.75,291.2 L449.00,294.8 L449.25,298.4 L449.50,302.1 L449.75,303.4 L450.00,297.7 L450.25,291.4 L450.50,286.9 L450.75,293.2 L451.00,299.3 L451.25,304.6 L451.50,309.6 L451.75,311.2 L452.00,305.6 L452.25,299.0 L452.50,303.6 L452.75,310.4 L453.00,315.7 L453.25,312.9 L453.50,311.2 L453.75,313.6 L454.00,315.9 L454.25,314.1 L454.50,309.4 L454.75,305.2 L455.00,302.8 L455.25,307.3 L455.50,314.5 L455.75,314.4 L456.00,310.9 L456.25,306.0 L456.50,304.2 L456.75,307.3 L457.00,300.2 L457.25,291.6 L457.50,295.1 L457.75,301.4 L458.00,300.4 L458.25,305.0 L458.50,308.6 L458.75,306.8 L459.00,307.0 L459.25,308.0 L459.50,306.0 L459.75,301.7 L460.00,297.9 L460.25,297.7 L460.50,300.9 L460.75,304.3 L461.00,307.4 L461.25,303.7 L461.50,306.0 L461.75,308.5 L462.00,311.4 L462.25,309.0 L462.50,307.5 L462.75,308.9 L463.00,307.3 L463.25,300.6 L463.50,294.9 L463.75,289.2 L464.00,283.5 L464.25,277.8 L464.50,272.1 L464.75,266.4 L465.00,260.6 L465.25,251.5 L465.50,251.5 L465.75,259.5 L466.00,265.2 L466.25,270.9 L466.50,276.6 L466.75,282.3 L467.00,288.1 L467.25,293.8 L467.50,299.5 L467.75,324.7 L468.00,324.9 L468.25,322.7 L468.50,321.6 L468.75,323.3 L469.00,325.8 L469.25,326.6 L469.50,324.8 L469.75,325.0 L470.00,324.5 L470.25,322.2 L470.50,320.4 L470.75,317.4 L471.00,316.3 L471.25,319.6 L471.50,321.2 L471.75,319.1 L472.00,315.9 L472.25,317.4 L472.50,320.3 L472.75,319.9 L473.00,319.3 L473.25,322.5 L473.50,322.2 L473.75,319.2 L474.00,316.6 L474.25,313.6 L474.50,319.0 L474.75,322.6 L475.00,318.0 L475.25,311.1 L475.50,314.0 L475.75,317.6 L476.00,315.0 L476.25,307.4 L476.50,313.4 L476.75,318.2 L477.00,314.9 L477.25,310.7 L477.50,307.3 L477.75,304.1 L478.00,305.3 L478.25,307.9 L478.50,310.9 L478.75,314.7 L479.00,314.0 L479.25,317.0 L479.50,314.8 L479.75,311.9 L480.00,309.3 L480.25,308.5 L480.50,312.4 L480.75,314.5 L481.00,312.1 L481.25,312.2 L481.50,315.4 L481.75,319.9 L482.00,320.3 L482.25,314.0 L482.50,318.5 L482.75,319.2 L483.00,317.0 L483.25,315.1 L483.50,312.6 L483.75,310.7 L484.00,307.9 L484.25,305.0 L484.50,302.2 L484.75,297.7 L485.00,297.7 L485.25,301.7 L485.50,304.5 L485.75,307.3 L486.00,310.1 L486.25,313.0 L486.50,315.8 L486.75,318.6 L487.00,321.4 L487.25,332.2 L487.50,332.2 L487.75,331.9 L488.00,327.5 L488.25,324.7 L488.50,327.1 L488.75,330.9 L489.00,328.3 L489.25,322.8 L489.50,327.4 L489.75,327.4 L490.00,324.5 L490.25,323.1 L490.50,322.5 L490.75,325.1 L491.00,326.8 L491.25,326.5 L491.50,324.3 L491.75,326.2 L492.00,325.1 L492.25,320.7 L492.50,324.5 L492.75,327.7 L493.00,328.2 L493.25,324.2 L493.50,319.8 L493.75,324.2 L494.00,323.6 L494.25,320.0 L494.50,321.6 L494.75,318.7 L495.00,315.9 L495.25,318.4 L495.50,320.9 L495.75,322.0 L496.00,323.5 L496.25,323.3 L496.50,324.1 L496.75,326.2 L497.00,326.0 L497.25,324.5 L497.50,325.8 L497.75,327.3 L498.00,328.1 L498.25,326.0 L498.50,322.8 L498.75,325.2 L499.00,326.9 L499.25,326.4 L499.50,325.5 L499.75,322.4 L500.00,321.2 L500.25,324.4 L500.50,323.2 L500.75,320.4 L501.00,318.1 L501.25,317.9 L501.50,319.3 L501.75,322.2 L502.00,323.8 L502.25,324.7 L502.50,323.6 L502.75,317.6 L503.00,313.2 L503.25,319.7 L503.50,320.8 L503.75,319.1 L504.00,315.0 L504.25,310.2 L504.50,311.9 L504.75,317.1 L505.00,322.5 L505.25,326.2 L505.50,323.3 L505.75,320.1 L506.00,318.6 L506.25,322.1 L506.50,325.4 L506.75,327.1 L507.00,322.7 L507.25,319.2 L507.50,318.5 L507.75,319.2 L508.00,316.9 L508.25,314.5 L508.50,312.2 L508.75,309.9 L509.00,305.7 L509.25,305.7 L509.50,308.5 L509.75,310.8 L510.00,313.1 L510.25,315.5 L510.50,317.8 L510.75,320.1 L511.00,322.4 L511.25,320.9 L511.50,321.7 L511.75,323.1 L512.00,325.9 L512.25,321.7 L512.50,318.4 L512.75,322.9 L513.00,325.9 L513.25,329.3 L513.50,330.2 L513.75,328.7 L514.00,326.3 L514.25,327.0 L514.50,326.7 L514.75,324.3 L515.00,329.2 L515.25,325.9 L515.50,328.3 L515.75,330.1 L516.00,330.7 L516.25,329.7 L516.50,328.4 L516.75,328.3 L517.00,329.5 L517.25,331.2 L517.50,332.0 L517.75,330.1 L518.00,327.8 L518.25,327.2 L518.50,329.6 L518.75,331.8 L519.00,331.3 L519.25,327.9 L519.50,324.6 L519.75,327.6 L520.00,331.0 L520.25,333.0 L520.50,332.6 L520.75,331.9 L521.00,330.1 L521.25,329.6 L521.50,327.9 L521.75,328.6 L522.00,330.2 L522.25,328.4 L522.50,326.5 L522.75,328.2 L523.00,330.7 L523.25,333.1 L523.50,332.3 L523.75,330.5 L524.00,330.2 L524.25,332.3 L524.50,331.5 L524.75,329.7 L525.00,327.5 L525.25,329.2 L525.50,331.5 L525.75,333.5 L526.00,333.1 L526.25,332.4 L526.50,332.4 L526.75,330.5 L527.00,332.3 L527.25,333.7 L527.50,333.5 L527.75,332.4 L528.00,331.5 L528.25,332.8 L528.50,333.2 L528.75,331.8 L529.00,331.1 L529.25,331.4 L529.50,332.6 L529.75,333.2 L530.00,332.4 L530.25,331.8 L530.50,330.3 L530.75,331.4 L531.00,332.1 L531.25,331.7 L531.50,331.8 L531.75,332.9 L532.00,332.5 L532.25,331.2 L532.50,330.2 L532.75,328.7 L533.00,326.6 L533.25,324.6 L533.50,325.3 L533.75,326.9 L534.00,328.5 L534.25,329.6 L534.50,328.1 L534.75,326.5 L535.00,326.7 L535.25,324.6 L535.50,322.4 L535.75,320.3 L536.00,318.2 L536.25,316.0 L536.50,313.9 L536.75,311.8 L537.00,308.8 L537.25,308.8 L537.50,312.2 L537.75,314.3 L538.00,316.5 L538.25,318.6 L538.50,320.7 L538.75,322.9 L539.00,325.0 L539.25,327.1 L539.50,336.1 L539.75,336.8 L540.00,337.0 L540.25,336.8 L540.50,336.5 L540.75,336.4 L541.00,336.7 L541.25,337.0 L541.50,336.8 L541.75,336.4 L542.00,336.0 L542.25,336.2 L542.50,336.7 L542.75,336.9 L543.00,337.3 L543.25,337.5 L543.50,337.1 L543.75,336.8 L544.00,336.4 L544.25,336.7 L544.50,336.9 L544.75,336.6 L545.00,336.9 L545.25,337.0 L545.50,336.8 L545.75,337.1 L546.00,337.0 L546.25,336.7 L546.50,336.6 L546.75,336.2 L547.00,336.5 L547.25,336.9 L547.50,337.2 L547.75,336.7 L548.00,336.1 L548.25,336.2 L548.50,336.9 L548.75,337.5 L549.00,337.9 L549.25,337.5 L549.50,337.5 L549.75,337.8 L550.00,337.8 L550.25,337.1 L550.50,336.9 L550.75,337.7 L551.00,337.4 L551.25,336.9 L551.50,337.5 L551.75,338.0 L552.00,337.8 L552.25,337.3 L552.50,336.5 L552.75,335.9 L553.00,335.6 L553.25,334.9 L553.50,334.1 L553.75,333.4 L554.00,332.6 L554.25,331.9 L554.50,330.8 L554.75,330.8 L555.00,332.0 L555.25,332.8 L555.50,333.5 L555.75,334.3 L556.00,335.0 L556.25,335.8 L556.50,336.5 L556.75,337.3 L557.00,338.4 L557.25,338.7 L557.50,339.0 L557.75,338.8 L558.00,338.9 L558.25,338.8 L558.50,338.5 L558.75,338.3 L559.00,338.0 L559.25,338.1 L559.50,338.1 L559.75,337.5 L560.00,336.7 L560.25,336.7 L560.50,337.6 L560.75,337.8 L561.00,337.4 L561.25,337.2 L561.50,337.2 L561.75,336.3 L562.00,336.7 L562.25,337.6 L562.50,338.1 L562.75,337.8 L563.00,337.4 L563.25,337.4 L563.50,337.7 L563.75,337.8 L564.00,337.7 L564.25,338.2 L564.50,338.6 L564.75,338.9 L565.00,338.7 L565.25,338.6 L565.50,338.2 L565.75,338.3 L566.00,338.7 L566.25,339.2 L566.50,338.8 L566.75,338.3 L567.00,337.9 L567.25,337.5 L567.50,337.0 L567.75,336.6 L568.00,336.0 L568.25,336.0 L568.50,336.7 L568.75,337.1 L569.00,337.6 L569.25,338.0 L569.50,338.4 L569.75,338.3 L570.00,338.0 L570.25,337.9 L570.50,338.4 L570.75,338.7 L571.00,338.9 L571.25,339.1 L571.50,339.4 L571.75,339.3 L572.00,339.4 L572.25,339.4 L572.50,339.2 L572.75,338.9 L573.00,338.7 L573.25,338.9 L573.50,339.2 L573.75,339.2 L574.00,339.0 L574.25,338.6 L574.50,338.3 L574.75,338.2 L575.00,338.5 L575.25,338.7 L575.50,338.9 L575.75,338.3 L576.00,337.8 L576.25,337.7 L576.50,338.2 L576.75,338.6 L577.00,338.3 L577.25,338.0 L577.50,338.6 L577.75,339.0 L578.00,338.5 L578.25,337.9 L578.50,338.7 L578.75,339.3 L579.00,339.5 L579.25,339.4 L579.50,339.2 L579.75,339.5 L580.00,339.7 L580.25,339.7 L580.50,339.5 L580.75,339.3 L581.00,338.8 L581.25,339.0 L581.50,339.4 L581.75,339.6 L582.00,339.5 L582.25,339.3 L582.50,339.3 L582.75,339.4 L583.00,339.6 L583.25,339.5 L583.50,339.0 L583.75,338.5 L584.00,338.7 L584.25,339.2 L584.50,339.8 L584.75,339.4 L585.00,339.1 L585.25,339.1 L585.50,339.4 L585.75,339.6 L586.00,339.9 L586.25,339.7 L586.50,339.4 L586.75,339.8 L587.00,339.7 L587.25,339.2 L587.50,338.7 L587.75,339.3 L588.00,339.8 L588.25,340.0 L588.50,339.9 L588.75,339.8 L589.00,339.6 L589.25,339.3 L589.50,338.9 L589.75,339.0 L590.00,339.3 L590.25,339.7 L590.50,339.9 L590.75,340.1 L591.00,340.2 L591.25,340.1 L591.50,340.0 L591.75,340.0 L592.00,339.9 L592.25,340.0 L592.50,340.1 L592.75,340.1 L593.00,340.2 L593.25,340.2 L593.50,339.9 L593.75,339.7 L594.00,339.5 L594.25,339.3 L594.50,339.5 L594.75,339.7 L595.00,339.9 L595.25,339.8 L595.50,339.9 L595.75,340.1 L596.00,340.3 L596.25,340.3 L596.50,340.2 L596.75,340.3 L597.00,340.3 L597.25,340.3 L597.50,340.1 L597.75,340.0 L598.00,340.0 L598.25,340.1 L598.50,340.4 L598.75,340.3 L599.00,340.3 L599.25,340.5 L599.50,340.6 L599.75,340.3 L600.00,340.0 L600.25,339.8 L600.50,339.6 L600.75,339.8 L601.00,340.1 L601.25,340.2 L601.50,340.3 L601.75,340.5 L602.00,340.5 L602.25,340.4 L602.50,340.4 L602.75,340.6 L603.00,340.8 L603.25,340.6 L603.50,340.4 L603.75,340.5 L604.00,340.3 L604.25,340.2 L604.50,340.5 L604.75,340.8 L605.00,340.9 L605.25,340.8 L605.50,340.6 L605.75,340.5 L606.00,340.6 L606.25,340.8 L606.50,341.0 L606.75,341.2 L607.00,341.1 L607.25,341.1 L607.50,341.1 L607.75,341.1 L608.00,341.2 L608.25,341.3 L608.50,341.4 L608.75,341.3 L609.00,341.1 L609.25,341.0 L609.50,341.3 L609.75,341.3 L610.00,341.4 L610.25,341.6 L610.50,341.7 L610.75,341.4 L611.00,341.5 L611.25,341.5 L611.50,341.1 L611.75,341.3 L612.00,341.6 L612.25,341.5 L612.50,341.2 L612.75,341.0 L613.00,341.3 L613.25,341.6 L613.50,341.8 L613.75,341.8 L614.00,341.8 L614.25,341.7 L614.50,341.8 L614.75,341.7 L615.00,341.8 L615.25,341.6 L615.50,341.4 L615.75,341.6 L616.00,341.7 L616.25,341.9 L616.50,341.8 L616.75,341.7 L617.00,341.6 L617.25,341.7 L617.50,341.8 L617.75,341.8 L618.00,341.7 L618.25,341.7 L618.50,341.8 L618.75,341.9 L619.00,341.9 L619.25,342.1 L619.50,342.1 L619.75,342.2 L620.00,342.1 L620.25,342.0 L620.50,342.0 L620.75,342.1 L621.00,342.1 L621.25,341.8 L621.50,341.6 L621.75,341.6 L622.00,341.9 L622.25,341.8 L622.50,341.5 L622.75,341.6 L623.00,341.8 L623.25,341.5 L623.50,341.2 L623.75,341.4 L624.00,341.3 L624.25,341.4 L624.50,341.4 L624.75,341.0 L625.00,341.2 L625.25,341.4 L625.50,341.7 L625.75,341.8 L626.00,341.8 L626.25,341.8 L626.50,341.8 L626.75,341.8 L627.00,341.7 L627.25,341.7 L627.50,341.7 L627.75,341.7 L628.00,341.7 L628.25,341.7 L628.50,340.6 L628.75,340.3 L629.00,340.0 L629.25,339.7 L629.50,339.3 L629.75,339.0 L630.00,338.7 L630.25,338.4 L630.50,338.0 L630.75,338.0 L631.00,338.5 L631.25,338.8 L631.50,339.1 L631.75,339.4 L632.00,339.7 L632.25,340.0 L632.50,340.3 L632.75,340.6 L633.00,341.5 L633.25,341.6 L633.50,341.4 L633.75,341.4 L634.00,341.6 L634.25,341.6 L634.50,341.6 L634.75,341.8 L635.00,341.7 L635.25,341.4 L635.50,341.5 L635.75,341.7 L636.00,341.9 L636.25,341.7 L636.50,341.5 L636.75,341.6 L637.00,341.5 L637.25,341.4 L637.50,341.3 L637.75,341.3 L638.00,341.1 L638.25,341.3 L638.50,341.4 L638.75,341.6 L639.00,341.7 L639.25,341.7 L639.50,341.8 L639.75,341.6 L640.00,341.3 L640.25,341.2 L640.50,341.4 L640.75,341.2 L641.00,340.9 L641.25,340.9 L641.50,341.1 L641.75,341.3 L642.00,341.5 L642.25,341.7 L642.50,341.8 L642.75,341.8 L643.00,341.7 L643.25,341.7 L643.50,341.7 L643.75,341.6 L644.00,341.5 L644.25,341.6 L644.50,341.7 L644.75,341.8 L645.00,341.7 L645.25,341.7 L645.50,341.8 L645.75,341.7 L646.00,341.5 L646.25,341.4 L646.50,341.6 L646.75,341.7 L647.00,341.8 L647.25,341.8 L647.50,341.6 L647.75,341.3 L648.00,341.4 L648.25,341.6 L648.50,341.6 L648.75,341.6 L649.00,341.6 L649.25,341.5 L649.50,341.6 L649.75,341.6 L650.00,341.7 L650.25,341.7 L650.50,341.6 L650.75,341.6 L651.00,341.6 L651.25,341.5 L651.50,341.4 L651.75,341.3 L652.00,341.4 L652.25,341.6 L652.50,341.4 L652.75,341.3 L653.00,341.5 L653.25,341.7 L653.50,341.9 L653.75,342.0 L654.00,342.0 L654.25,342.0 L654.50,342.1 L654.75,342.1 L655.00,342.0 L655.25,342.0 L655.50,342.1 L655.75,341.9 L656.00,341.7 L656.25,341.6 L656.50,341.4 L656.75,341.6 L657.00,341.6 L657.25,341.6 L657.50,341.8 L657.75,341.9 L658.00,342.0 L658.25,341.8 L658.50,341.9 L658.75,341.9 L659.00,341.9 L659.25,341.8 L659.50,341.7 L659.75,341.9 L660.00,342.1 L660.25,342.1 L660.50,342.1 L660.75,342.0 L661.00,342.0 L661.25,342.1 L661.50,342.1 L661.75,342.0 L662.00,342.0 L662.25,342.0 L662.50,342.0 L662.75,341.8 L663.00,341.9 L663.25,342.1 L663.50,342.0 L663.75,341.9 L664.00,342.0 L664.25,341.7 L664.50,341.4 L664.75,341.7 L665.00,341.9 L665.25,341.9 L665.50,342.1 L665.75,342.2 L666.00,342.1 L666.25,342.0 L666.50,342.1 L666.75,342.2 L667.00,342.2 L667.25,342.1 L667.50,342.1 L667.75,342.0 L668.00,342.2 L668.0,342.9 Z" fill="#ed1c24" stroke="none"/>
<path d="M74.0,342.9 L74.00,341.6 L74.25,341.7 L74.50,341.8 L74.75,341.9 L75.00,341.9 L75.25,341.9 L75.50,341.9 L75.75,341.8 L76.00,341.9 L76.25,341.9 L76.50,341.8 L76.75,341.7 L77.00,341.6 L77.25,341.5 L77.50,341.6 L77.75,341.6 L78.00,341.6 L78.25,341.5 L78.50,341.6 L78.75,341.7 L79.00,341.8 L79.25,341.9 L79.50,341.8 L79.75,341.8 L80.00,341.8 L80.25,341.9 L80.50,341.8 L80.75,341.7 L81.00,341.6 L81.25,341.5 L81.50,341.5 L81.75,341.6 L82.00,341.7 L82.25,341.6 L82.50,341.4 L82.75,341.6 L83.00,341.7 L83.25,341.8 L83.50,341.9 L83.75,341.9 L84.00,341.9 L84.25,341.9 L84.50,341.8 L84.75,341.8 L85.00,341.7 L85.25,341.6 L85.50,341.8 L85.75,341.9 L86.00,342.0 L86.25,341.9 L86.50,341.7 L86.75,341.5 L87.00,341.5 L87.25,341.7 L87.50,341.6 L87.75,341.4 L88.00,341.4 L88.25,341.5 L88.50,341.3 L88.75,341.4 L89.00,341.7 L89.25,341.6 L89.50,341.6 L89.75,341.7 L90.00,341.7 L90.25,341.7 L90.50,341.7 L90.75,341.7 L91.00,341.5 L91.25,341.4 L91.50,341.5 L91.75,341.7 L92.00,341.7 L92.25,341.7 L92.50,341.7 L92.75,341.6 L93.00,341.7 L93.25,341.8 L93.50,341.9 L93.75,341.9 L94.00,341.8 L94.25,341.6 L94.50,341.5 L94.75,341.6 L95.00,341.4 L95.25,340.8 L95.50,340.5 L95.75,340.2 L96.00,340.0 L96.25,339.7 L96.50,339.1 L96.75,338.1 L97.00,337.3 L97.25,337.9 L97.50,338.4 L97.75,338.6 L98.00,338.7 L98.25,338.7 L98.50,338.8 L98.75,338.8 L99.00,338.8 L99.25,338.7 L99.50,338.8 L99.75,339.3 L100.00,339.6 L100.25,339.8 L100.50,339.8 L100.75,340.0 L101.00,340.3 L101.25,340.6 L101.50,340.8 L101.75,340.8 L102.00,340.8 L102.25,340.8 L102.50,340.9 L102.75,340.8 L103.00,340.7 L103.25,340.4 L103.50,340.1 L103.75,340.2 L104.00,340.5 L104.25,340.7 L104.50,340.6 L104.75,340.5 L105.00,340.5 L105.25,340.6 L105.50,340.6 L105.75,340.7 L106.00,340.6 L106.25,340.4 L106.50,340.2 L106.75,340.3 L107.00,340.4 L107.25,340.4 L107.50,340.3 L107.75,340.3 L108.00,340.3 L108.25,340.2 L108.50,340.1 L108.75,340.3 L109.00,340.5 L109.25,340.5 L109.50,340.5 L109.75,340.5 L110.00,340.6 L110.25,340.5 L110.50,340.3 L110.75,340.1 L111.00,340.0 L111.25,340.2 L111.50,340.3 L111.75,340.3 L112.00,340.2 L112.25,340.1 L112.50,340.2 L112.75,340.2 L113.00,339.9 L113.25,339.8 L113.50,340.1 L113.75,340.3 L114.00,340.3 L114.25,340.3 L114.50,340.2 L114.75,339.9 L115.00,339.6 L115.25,339.9 L115.50,340.1 L115.75,340.2 L116.00,340.0 L116.25,339.8 L116.50,339.9 L116.75,340.0 L117.00,340.2 L117.25,340.2 L117.50,340.1 L117.75,340.2 L118.00,340.2 L118.25,340.3 L118.50,340.1 L118.75,339.9 L119.00,339.6 L119.25,339.8 L119.50,340.0 L119.75,340.2 L120.00,340.3 L120.25,340.2 L120.50,340.1 L120.75,340.0 L121.00,340.0 L121.25,339.9 L121.50,339.9 L121.75,339.9 L122.00,339.9 L122.25,339.7 L122.50,339.5 L122.75,339.7 L123.00,339.5 L123.25,339.0 L123.50,339.3 L123.75,339.4 L124.00,339.2 L124.25,339.3 L124.50,339.4 L124.75,339.5 L125.00,339.7 L125.25,339.8 L125.50,339.8 L125.75,339.9 L126.00,339.9 L126.25,339.9 L126.50,339.9 L126.75,339.8 L127.00,339.6 L127.25,339.4 L127.50,339.5 L127.75,339.7 L128.00,339.9 L128.25,340.0 L128.50,340.1 L128.75,340.0 L129.00,340.0 L129.25,340.1 L129.50,340.0 L129.75,340.1 L130.00,340.2 L130.25,340.4 L130.50,340.3 L130.75,340.1 L131.00,340.0 L131.25,340.0 L131.50,339.8 L131.75,339.6 L132.00,339.4 L132.25,339.7 L132.50,339.7 L132.75,339.8 L133.00,339.7 L133.25,339.4 L133.50,339.1 L133.75,338.8 L134.00,339.2 L134.25,339.6 L134.50,339.9 L134.75,339.7 L135.00,339.4 L135.25,339.2 L135.50,339.2 L135.75,339.4 L136.00,339.7 L136.25,339.7 L136.50,339.9 L136.75,339.9 L137.00,339.7 L137.25,339.7 L137.50,339.7 L137.75,339.6 L138.00,339.8 L138.25,339.9 L138.50,340.1 L138.75,340.0 L139.00,339.1 L139.25,338.2 L139.50,337.9 L139.75,338.7 L140.00,339.5 L140.25,340.1 L140.50,340.0 L140.75,339.4 L141.00,338.6 L141.25,338.4 L141.50,338.8 L141.75,339.1 L142.00,339.1 L142.25,339.2 L142.50,339.0 L142.75,338.7 L143.00,339.0 L143.25,339.2 L143.50,339.5 L143.75,339.6 L144.00,339.5 L144.25,339.2 L144.50,338.7 L144.75,338.2 L145.00,337.9 L145.25,338.1 L145.50,338.5 L145.75,338.7 L146.00,338.7 L146.25,338.5 L146.50,338.2 L146.75,338.6 L147.00,338.5 L147.25,337.6 L147.50,336.9 L147.75,336.2 L148.00,337.0 L148.25,337.6 L148.50,338.1 L148.75,338.6 L149.00,338.1 L149.25,337.5 L149.50,336.8 L149.75,337.5 L150.00,337.0 L150.25,336.2 L150.50,337.1 L150.75,338.2 L151.00,338.7 L151.25,338.3 L151.50,337.5 L151.75,337.2 L152.00,337.2 L152.25,337.5 L152.50,337.8 L152.75,338.1 L153.00,338.3 L153.25,338.6 L153.50,338.3 L153.75,338.4 L154.00,338.3 L154.25,337.9 L154.50,337.8 L154.75,337.5 L155.00,337.5 L155.25,338.1 L155.50,338.4 L155.75,338.5 L156.00,338.4 L156.25,338.5 L156.50,338.6 L156.75,338.7 L157.00,338.6 L157.25,338.5 L157.50,338.5 L157.75,338.3 L158.00,338.1 L158.25,337.8 L158.50,337.4 L158.75,337.9 L159.00,338.2 L159.25,338.5 L159.50,337.9 L159.75,337.7 L160.00,338.1 L160.25,337.8 L160.50,337.3 L160.75,337.4 L161.00,337.8 L161.25,337.5 L161.50,337.3 L161.75,336.6 L162.00,335.8 L162.25,335.2 L162.50,335.5 L162.75,335.8 L163.00,335.9 L163.25,335.3 L163.50,334.0 L163.75,333.0 L164.00,332.6 L164.25,333.4 L164.50,334.6 L164.75,335.4 L165.00,335.2 L165.25,334.6 L165.50,334.2 L165.75,334.7 L166.00,334.7 L166.25,334.2 L166.50,333.9 L166.75,333.7 L167.00,333.9 L167.25,333.4 L167.50,332.5 L167.75,333.2 L168.00,333.9 L168.25,334.7 L168.50,334.3 L168.75,334.2 L169.00,333.9 L169.25,332.3 L169.50,330.9 L169.75,329.4 L170.00,328.0 L170.25,326.6 L170.50,325.2 L170.75,323.7 L171.00,322.3 L171.25,320.0 L171.50,320.0 L171.75,322.0 L172.00,323.4 L172.25,324.9 L172.50,326.3 L172.75,327.7 L173.00,329.2 L173.25,330.6 L173.50,332.0 L173.75,332.8 L174.00,332.5 L174.25,331.9 L174.50,331.6 L174.75,332.2 L175.00,332.6 L175.25,332.8 L175.50,332.8 L175.75,332.6 L176.00,332.3 L176.25,332.4 L176.50,332.0 L176.75,331.6 L177.00,330.9 L177.25,330.8 L177.50,331.6 L177.75,332.0 L178.00,332.5 L178.25,332.5 L178.50,332.4 L178.75,332.0 L179.00,331.6 L179.25,331.1 L179.50,331.2 L179.75,331.5 L180.00,331.5 L180.25,331.4 L180.50,331.1 L180.75,330.8 L181.00,330.8 L181.25,331.3 L181.50,331.8 L181.75,331.8 L182.00,331.7 L182.25,332.0 L182.50,332.2 L182.75,332.2 L183.00,331.8 L183.25,331.0 L183.50,330.7 L183.75,330.6 L184.00,331.3 L184.25,332.0 L184.50,331.8 L184.75,332.3 L185.00,332.8 L185.25,332.9 L185.50,333.2 L185.75,332.7 L186.00,331.9 L186.25,330.9 L186.50,331.1 L186.75,331.0 L187.00,330.3 L187.25,330.8 L187.50,331.5 L187.75,331.9 L188.00,331.6 L188.25,332.0 L188.50,332.2 L188.75,332.3 L189.00,332.1 L189.25,331.9 L189.50,332.1 L189.75,332.3 L190.00,332.2 L190.25,331.9 L190.50,331.2 L190.75,330.6 L191.00,330.8 L191.25,331.2 L191.50,331.2 L191.75,331.6 L192.00,331.0 L192.25,330.5 L192.50,330.1 L192.75,330.4 L193.00,330.0 L193.25,329.6 L193.50,328.9 L193.75,328.5 L194.00,327.7 L194.25,327.3 L194.50,327.6 L194.75,327.5 L195.00,326.2 L195.25,324.8 L195.50,323.5 L195.75,321.6 L196.00,321.0 L196.25,321.7 L196.50,320.6 L196.75,321.6 L197.00,322.6 L197.25,323.7 L197.50,324.1 L197.75,323.7 L198.00,323.3 L198.25,324.2 L198.50,325.3 L198.75,324.4 L199.00,324.1 L199.25,325.7 L199.50,325.2 L199.75,323.9 L200.00,321.4 L200.25,322.6 L200.50,324.4 L200.75,326.5 L201.00,324.3 L201.25,323.5 L201.50,325.9 L201.75,328.8 L202.00,329.2 L202.25,328.9 L202.50,327.3 L202.75,326.4 L203.00,326.0 L203.25,327.7 L203.50,330.0 L203.75,331.2 L204.00,330.5 L204.25,329.3 L204.50,327.7 L204.75,328.1 L205.00,329.5 L205.25,331.2 L205.50,311.4 L205.75,307.5 L206.00,303.6 L206.25,299.7 L206.50,295.7 L206.75,291.8 L207.00,287.9 L207.25,280.0 L207.50,280.0 L207.75,280.0 L208.00,287.9 L208.25,291.8 L208.50,295.7 L208.75,299.7 L209.00,303.6 L209.25,307.5 L209.50,311.4 L209.75,322.5 L210.00,323.4 L210.25,322.9 L210.50,319.2 L210.75,319.7 L211.00,320.8 L211.25,320.4 L211.50,319.3 L211.75,318.9 L212.00,319.6 L212.25,320.4 L212.50,320.2 L212.75,319.2 L213.00,318.2 L213.25,317.7 L213.50,316.6 L213.75,315.6 L214.00,314.8 L214.25,315.1 L214.50,315.9 L214.75,316.6 L215.00,316.3 L215.25,314.3 L215.50,312.3 L215.75,310.7 L216.00,311.8 L216.25,311.8 L216.50,309.8 L216.75,307.7 L217.00,307.9 L217.25,310.0 L217.50,311.6 L217.75,312.7 L218.00,313.2 L218.25,310.1 L218.50,308.2 L218.75,309.9 L219.00,309.7 L219.25,308.0 L219.50,307.2 L219.75,308.0 L220.00,308.7 L220.25,307.5 L220.50,306.9 L220.75,307.2 L221.00,306.6 L221.25,305.4 L221.50,303.3 L221.75,301.5 L222.00,300.5 L222.25,300.6 L222.50,299.3 L222.75,297.0 L223.00,295.9 L223.25,294.1 L223.50,291.9 L223.75,288.3 L224.00,282.9 L224.25,278.0 L224.50,277.0 L224.75,278.5 L225.00,271.7 L225.25,275.4 L225.50,278.0 L225.75,275.8 L226.00,271.7 L226.25,261.5 L226.50,261.5 L226.75,261.5 L227.00,265.6 L227.25,268.1 L227.50,270.7 L227.75,271.8 L228.00,271.4 L228.25,269.7 L228.50,270.4 L228.75,272.8 L229.00,271.8 L229.25,270.1 L229.50,270.5 L229.75,274.1 L230.00,275.9 L230.25,276.3 L230.50,275.9 L230.75,275.4 L231.00,277.6 L231.25,280.7 L231.50,284.1 L231.75,285.3 L232.00,286.3 L232.25,290.0 L232.50,293.5 L232.75,294.4 L233.00,294.1 L233.25,293.8 L233.50,294.0 L233.75,294.6 L234.00,297.7 L234.25,301.2 L234.50,304.3 L234.75,307.4 L235.00,309.3 L235.25,312.3 L235.50,313.9 L235.75,312.6 L236.00,311.5 L236.25,308.8 L236.50,306.8 L236.75,305.0 L237.00,306.1 L237.25,308.8 L237.50,309.6 L237.75,312.0 L238.00,311.0 L238.25,308.9 L238.50,307.4 L238.75,309.3 L239.00,311.4 L239.25,313.1 L239.50,314.4 L239.75,314.2 L240.00,314.9 L240.25,314.9 L240.50,316.0 L240.75,316.2 L241.00,315.3 L241.25,314.5 L241.50,313.0 L241.75,312.3 L242.00,313.2 L242.25,315.1 L242.50,316.6 L242.75,316.6 L243.00,315.8 L243.25,314.2 L243.50,314.7 L243.75,316.5 L244.00,318.1 L244.25,318.8 L244.50,318.2 L244.75,318.6 L245.00,318.4 L245.25,319.0 L245.50,319.5 L245.75,318.9 L246.00,318.4 L246.25,317.5 L246.50,316.3 L246.75,317.4 L247.00,316.8 L247.25,314.9 L247.50,314.4 L247.75,315.6 L248.00,316.7 L248.25,318.0 L248.50,317.1 L248.75,314.6 L249.00,312.2 L249.25,312.4 L249.50,312.5 L249.75,310.8 L250.00,310.8 L250.25,312.2 L250.50,313.0 L250.75,310.8 L251.00,310.0 L251.25,311.6 L251.50,310.4 L251.75,309.7 L252.00,308.8 L252.25,305.8 L252.50,303.1 L252.75,304.2 L253.00,306.4 L253.25,308.8 L253.50,310.2 L253.75,308.1 L254.00,307.3 L254.25,309.4 L254.50,311.4 L254.75,313.2 L255.00,313.0 L255.25,312.9 L255.50,313.3 L255.75,311.2 L256.00,309.3 L256.25,307.3 L256.50,304.9 L256.75,305.8 L257.00,306.4 L257.25,307.2 L257.50,306.5 L257.75,304.8 L258.00,303.5 L258.25,304.6 L258.50,307.5 L258.75,307.5 L259.00,308.1 L259.25,307.8 L259.50,306.8 L259.75,307.5 L260.00,307.6 L260.25,307.0 L260.50,306.4 L260.75,304.4 L261.00,304.0 L261.25,303.0 L261.50,299.8 L261.75,296.3 L262.00,298.5 L262.25,300.7 L262.50,299.0 L262.75,295.8 L263.00,293.1 L263.25,295.5 L263.50,297.3 L263.75,299.6 L264.00,298.3 L264.25,295.1 L264.50,295.4 L264.75,299.3 L265.00,302.0 L265.25,302.9 L265.50,300.9 L265.75,299.2 L266.00,301.7 L266.25,302.1 L266.50,301.0 L266.75,302.1 L267.00,303.3 L267.25,301.6 L267.50,299.3 L267.75,297.1 L268.00,294.3 L268.25,294.0 L268.50,296.8 L268.75,298.5 L269.00,301.8 L269.25,301.2 L269.50,299.9 L269.75,301.5 L270.00,303.2 L270.25,300.4 L270.50,298.0 L270.75,295.6 L271.00,292.7 L271.25,293.8 L271.50,296.7 L271.75,298.2 L272.00,300.2 L272.25,302.8 L272.50,303.4 L272.75,303.0 L273.00,303.2 L273.25,303.0 L273.50,303.0 L273.75,303.4 L274.00,304.5 L274.25,305.8 L274.50,306.8 L274.75,306.8 L275.00,306.6 L275.25,306.4 L275.50,306.0 L275.75,306.4 L276.00,306.4 L276.25,307.3 L276.50,306.7 L276.75,305.0 L277.00,304.4 L277.25,305.0 L277.50,305.2 L277.75,303.6 L278.00,302.4 L278.25,302.6 L278.50,301.0 L278.75,300.5 L279.00,302.8 L279.25,304.6 L279.50,305.2 L279.75,304.8 L280.00,304.1 L280.25,304.4 L280.50,305.6 L280.75,306.0 L281.00,306.9 L281.25,307.6 L281.50,306.9 L281.75,307.1 L282.00,307.3 L282.25,306.5 L282.50,305.7 L282.75,303.9 L283.00,303.0 L283.25,304.1 L283.50,303.5 L283.75,302.2 L284.00,303.1 L284.25,303.0 L284.50,301.4 L284.75,298.5 L285.00,300.0 L285.25,302.4 L285.50,305.5 L285.75,306.4 L286.00,306.2 L286.25,305.5 L286.50,303.4 L286.75,303.7 L287.00,304.2 L287.25,306.0 L287.50,304.7 L287.75,302.8 L288.00,300.4 L288.25,301.4 L288.50,297.7 L288.75,296.6 L289.00,299.3 L289.25,302.5 L289.50,305.0 L289.75,303.8 L290.00,303.8 L290.25,303.3 L290.50,303.4 L290.75,302.9 L291.00,302.0 L291.25,300.5 L291.50,299.1 L291.75,298.3 L292.00,299.6 L292.25,296.7 L292.50,293.5 L292.75,292.3 L293.00,295.5 L293.25,298.8 L293.50,301.6 L293.75,300.9 L294.00,298.5 L294.25,295.9 L294.50,297.9 L294.75,296.1 L295.00,294.8 L295.25,296.4 L295.50,298.2 L295.75,300.1 L296.00,300.2 L296.25,296.9 L296.50,296.5 L296.75,296.0 L297.00,294.3 L297.25,294.9 L297.50,296.6 L297.75,293.4 L298.00,295.4 L298.25,297.7 L298.50,298.9 L298.75,300.1 L299.00,299.7 L299.25,299.8 L299.50,299.1 L299.75,298.3 L300.00,296.8 L300.25,295.6 L300.50,294.4 L300.75,294.8 L301.00,296.2 L301.25,298.6 L301.50,298.4 L301.75,297.0 L302.00,296.3 L302.25,297.3 L302.50,296.1 L302.75,294.3 L303.00,296.1 L303.25,297.3 L303.50,297.4 L303.75,298.6 L304.00,299.4 L304.25,300.5 L304.50,300.5 L304.75,299.7 L305.00,299.6 L305.25,300.1 L305.50,300.7 L305.75,299.1 L306.00,297.8 L306.25,296.8 L306.50,296.9 L306.75,297.2 L307.00,297.7 L307.25,297.3 L307.50,296.4 L307.75,297.0 L308.00,297.6 L308.25,297.5 L308.50,295.1 L308.75,293.3 L309.00,292.1 L309.25,294.7 L309.50,291.1 L309.75,293.0 L310.00,295.8 L310.25,295.4 L310.50,297.1 L310.75,296.9 L311.00,294.8 L311.25,293.0 L311.50,293.3 L311.75,295.4 L312.00,296.4 L312.25,297.4 L312.50,297.1 L312.75,297.9 L313.00,297.7 L313.25,296.9 L313.50,295.6 L313.75,294.1 L314.00,295.6 L314.25,296.6 L314.50,297.6 L314.75,297.2 L315.00,296.0 L315.25,296.3 L315.50,297.7 L315.75,298.3 L316.00,298.4 L316.25,299.2 L316.50,299.5 L316.75,298.9 L317.00,296.7 L317.25,294.0 L317.50,292.4 L317.75,294.9 L318.00,296.5 L318.25,296.7 L318.50,295.8 L318.75,294.8 L319.00,294.9 L319.25,296.9 L319.50,299.0 L319.75,297.4 L320.00,295.7 L320.25,293.6 L320.50,294.8 L320.75,297.0 L321.00,298.2 L321.25,296.4 L321.50,294.9 L321.75,292.9 L322.00,292.0 L322.25,293.2 L322.50,295.1 L322.75,297.2 L323.00,297.9 L323.25,297.7 L323.50,296.7 L323.75,295.9 L324.00,297.6 L324.25,297.8 L324.50,297.2 L324.75,296.8 L325.00,295.4 L325.25,294.5 L325.50,294.3 L325.75,296.6 L326.00,297.1 L326.25,295.9 L326.50,294.5 L326.75,292.0 L327.00,294.0 L327.25,295.5 L327.50,293.5 L327.75,291.7 L328.00,292.6 L328.25,293.7 L328.50,295.0 L328.75,295.6 L329.00,296.1 L329.25,295.2 L329.50,295.7 L329.75,295.4 L330.00,296.5 L330.25,294.3 L330.50,291.8 L330.75,290.4 L331.00,290.8 L331.25,288.5 L331.50,284.7 L331.75,281.0 L332.00,279.7 L332.25,283.8 L332.50,286.8 L332.75,283.4 L333.00,278.9 L333.25,275.6 L333.50,277.3 L333.75,281.5 L334.00,282.8 L334.25,279.0 L334.50,275.9 L334.75,275.1 L335.00,278.3 L335.25,279.6 L335.50,274.7 L335.75,265.0 L336.00,265.0 L336.25,265.0 L336.50,274.7 L336.75,279.6 L337.00,282.0 L337.25,280.4 L337.50,277.4 L337.75,274.1 L338.00,271.7 L338.25,276.2 L338.50,280.7 L338.75,284.0 L339.00,283.4 L339.25,281.4 L339.50,280.4 L339.75,280.7 L340.00,283.2 L340.25,284.6 L340.50,287.2 L340.75,286.9 L341.00,286.0 L341.25,286.9 L341.50,287.9 L341.75,289.1 L342.00,289.3 L342.25,289.1 L342.50,289.1 L342.75,288.0 L343.00,286.3 L343.25,284.1 L343.50,283.4 L343.75,286.4 L344.00,290.1 L344.25,291.8 L344.50,292.4 L344.75,289.9 L345.00,287.2 L345.25,288.4 L345.50,292.2 L345.75,295.5 L346.00,294.6 L346.25,294.0 L346.50,295.8 L346.75,296.9 L347.00,297.7 L347.25,297.6 L347.50,297.7 L347.75,297.3 L348.00,297.6 L348.25,298.5 L348.50,298.7 L348.75,296.5 L349.00,294.7 L349.25,294.7 L349.50,297.0 L349.75,296.4 L350.00,297.1 L350.25,296.5 L350.50,294.9 L350.75,293.6 L351.00,295.1 L351.25,296.1 L351.50,297.8 L351.75,296.4 L352.00,294.6 L352.25,295.2 L352.50,296.5 L352.75,297.7 L353.00,299.3 L353.25,299.5 L353.50,297.4 L353.75,297.7 L354.00,299.7 L354.25,296.6 L354.50,292.1 L354.75,294.9 L355.00,296.8 L355.25,295.0 L355.50,292.7 L355.75,291.2 L356.00,288.7 L356.25,290.9 L356.50,293.0 L356.75,295.9 L357.00,296.5 L357.25,295.8 L357.50,294.9 L357.75,297.9 L358.00,297.6 L358.25,295.2 L358.50,292.3 L358.75,288.7 L359.00,290.0 L359.25,292.5 L359.50,294.9 L359.75,295.1 L360.00,295.3 L360.25,295.8 L360.50,294.4 L360.75,296.9 L361.00,294.6 L361.25,293.3 L361.50,294.0 L361.75,296.0 L362.00,295.7 L362.25,293.1 L362.50,296.3 L362.75,299.1 L363.00,298.4 L363.25,295.3 L363.50,292.5 L363.75,289.3 L364.00,287.5 L364.25,291.7 L364.50,293.5 L364.75,296.7 L365.00,298.5 L365.25,295.7 L365.50,293.6 L365.75,290.7 L366.00,289.9 L366.25,291.6 L366.50,293.1 L366.75,294.5 L367.00,294.0 L367.25,292.6 L367.50,292.9 L367.75,294.8 L368.00,294.0 L368.25,293.7 L368.50,294.0 L368.75,293.9 L369.00,294.3 L369.25,293.9 L369.50,290.4 L369.75,291.2 L370.00,293.4 L370.25,293.8 L370.50,291.6 L370.75,288.4 L371.00,287.3 L371.25,290.1 L371.50,290.0 L371.75,288.5 L372.00,289.0 L372.25,287.0 L372.50,282.4 L372.75,285.2 L373.00,289.1 L373.25,289.6 L373.50,286.4 L373.75,282.4 L374.00,278.1 L374.25,279.0 L374.50,282.5 L374.75,285.6 L375.00,288.3 L375.25,288.7 L375.50,287.6 L375.75,287.6 L376.00,285.7 L376.25,284.6 L376.50,283.0 L376.75,281.0 L377.00,276.2 L377.25,270.7 L377.50,265.1 L377.75,254.0 L378.00,254.0 L378.25,254.0 L378.50,265.1 L378.75,270.7 L379.00,276.2 L379.25,281.8 L379.50,280.9 L379.75,283.0 L380.00,284.1 L380.25,286.3 L380.50,288.2 L380.75,290.2 L381.00,290.2 L381.25,289.9 L381.50,288.5 L381.75,286.9 L382.00,288.7 L382.25,290.4 L382.50,292.8 L382.75,292.4 L383.00,291.0 L383.25,290.1 L383.50,286.8 L383.75,289.6 L384.00,292.2 L384.25,294.3 L384.50,294.8 L384.75,292.8 L385.00,290.0 L385.25,288.5 L385.50,290.4 L385.75,292.1 L386.00,292.6 L386.25,293.1 L386.50,293.8 L386.75,295.2 L387.00,294.5 L387.25,294.0 L387.50,292.0 L387.75,291.0 L388.00,291.8 L388.25,293.0 L388.50,291.4 L388.75,293.3 L389.00,295.8 L389.25,294.1 L389.50,296.3 L389.75,298.4 L390.00,296.6 L390.25,294.3 L390.50,295.0 L390.75,297.6 L391.00,300.5 L391.25,301.7 L391.50,301.0 L391.75,300.6 L392.00,301.0 L392.25,301.3 L392.50,301.9 L392.75,299.4 L393.00,299.6 L393.25,300.3 L393.50,301.9 L393.75,302.2 L394.00,302.0 L394.25,303.5 L394.50,304.5 L394.75,305.7 L395.00,304.7 L395.25,301.6 L395.50,298.4 L395.75,299.3 L396.00,300.8 L396.25,301.5 L396.50,300.7 L396.75,299.2 L397.00,301.4 L397.25,303.3 L397.50,300.9 L397.75,298.2 L398.00,297.5 L398.25,299.6 L398.50,300.1 L398.75,302.1 L399.00,302.2 L399.25,303.6 L399.50,303.8 L399.75,303.0 L400.00,303.2 L400.25,302.4 L400.50,302.7 L400.75,302.7 L401.00,301.6 L401.25,299.8 L401.50,299.1 L401.75,301.0 L402.00,301.2 L402.25,300.1 L402.50,300.2 L402.75,300.6 L403.00,301.6 L403.25,301.4 L403.50,298.0 L403.75,296.6 L404.00,300.9 L404.25,303.6 L404.50,305.7 L404.75,305.0 L405.00,303.9 L405.25,305.1 L405.50,305.3 L405.75,306.2 L406.00,304.2 L406.25,302.9 L406.50,301.0 L406.75,298.2 L407.00,300.5 L407.25,295.7 L407.50,290.6 L407.75,285.6 L408.00,280.6 L408.25,275.6 L408.50,270.5 L408.75,262.5 L409.00,262.5 L409.25,269.5 L409.50,274.6 L409.75,279.6 L410.00,284.6 L410.25,289.6 L410.50,294.7 L410.75,299.7 L411.00,304.7 L411.25,303.5 L411.50,302.4 L411.75,301.6 L412.00,303.8 L412.25,305.8 L412.50,307.6 L412.75,306.5 L413.00,303.0 L413.25,300.3 L413.50,297.9 L413.75,299.9 L414.00,300.5 L414.25,298.7 L414.50,297.4 L414.75,293.8 L415.00,292.1 L415.25,293.8 L415.50,295.6 L415.75,292.8 L416.00,291.2 L416.25,291.7 L416.50,293.5 L416.75,296.2 L417.00,292.9 L417.25,291.0 L417.50,290.3 L417.75,292.2 L418.00,294.5 L418.25,294.8 L418.50,295.9 L418.75,296.4 L419.00,297.6 L419.25,298.3 L419.50,297.9 L419.75,296.9 L420.00,297.5 L420.25,296.5 L420.50,296.0 L420.75,293.1 L421.00,292.9 L421.25,294.3 L421.50,295.6 L421.75,296.0 L422.00,297.1 L422.25,296.0 L422.50,295.5 L422.75,297.1 L423.00,297.1 L423.25,295.1 L423.50,295.1 L423.75,295.4 L424.00,297.1 L424.25,293.9 L424.50,291.5 L424.75,288.3 L425.00,284.4 L425.25,287.9 L425.50,291.8 L425.75,294.0 L426.00,294.4 L426.25,292.8 L426.50,290.3 L426.75,291.1 L427.00,293.1 L427.25,295.2 L427.50,293.2 L427.75,290.6 L428.00,292.9 L428.25,295.5 L428.50,295.9 L428.75,297.3 L429.00,298.0 L429.25,297.5 L429.50,297.1 L429.75,298.4 L430.00,299.1 L430.25,298.2 L430.50,298.4 L430.75,297.5 L431.00,297.7 L431.25,297.2 L431.50,299.0 L431.75,300.0 L432.00,299.2 L432.25,298.6 L432.50,299.6 L432.75,299.2 L433.00,300.6 L433.25,301.2 L433.50,300.9 L433.75,300.1 L434.00,298.7 L434.25,298.2 L434.50,299.5 L434.75,301.0 L435.00,302.9 L435.25,303.4 L435.50,300.8 L435.75,297.1 L436.00,295.0 L436.25,298.3 L436.50,301.2 L436.75,298.8 L437.00,296.8 L437.25,293.1 L437.50,295.3 L437.75,297.8 L438.00,300.3 L438.25,302.1 L438.50,302.3 L438.75,303.1 L439.00,305.1 L439.25,306.8 L439.50,307.5 L439.75,307.8 L440.00,307.3 L440.25,305.9 L440.50,304.4 L440.75,302.7 L441.00,300.7 L441.25,304.9 L441.50,308.2 L441.75,311.0 L442.00,313.8 L442.25,315.7 L442.50,315.4 L442.75,315.6 L443.00,317.4 L443.25,315.7 L443.50,314.0 L443.75,312.1 L444.00,309.8 L444.25,311.5 L444.50,313.4 L444.75,315.2 L445.00,316.4 L445.25,317.9 L445.50,318.1 L445.75,317.1 L446.00,316.9 L446.25,317.7 L446.50,317.2 L446.75,316.2 L447.00,314.9 L447.25,315.6 L447.50,315.0 L447.75,314.6 L448.00,313.7 L448.25,315.2 L448.50,317.6 L448.75,317.5 L449.00,315.5 L449.25,312.9 L449.50,313.2 L449.75,314.9 L450.00,317.1 L450.25,317.4 L450.50,315.4 L450.75,313.9 L451.00,312.4 L451.25,313.7 L451.50,316.1 L451.75,318.0 L452.00,317.9 L452.25,319.8 L452.50,320.5 L452.75,320.7 L453.00,321.3 L453.25,320.2 L453.50,320.1 L453.75,319.5 L454.00,320.8 L454.25,321.7 L454.50,321.3 L454.75,320.4 L455.00,322.0 L455.25,323.1 L455.50,323.1 L455.75,322.1 L456.00,321.5 L456.25,320.2 L456.50,319.2 L456.75,319.6 L457.00,320.3 L457.25,319.3 L457.50,318.4 L457.75,318.3 L458.00,319.0 L458.25,319.4 L458.50,320.9 L458.75,319.5 L459.00,318.6 L459.25,318.3 L459.50,318.5 L459.75,318.0 L460.00,316.0 L460.25,315.6 L460.50,315.8 L460.75,316.9 L461.00,318.1 L461.25,317.5 L461.50,318.0 L461.75,319.4 L462.00,320.7 L462.25,319.6 L462.50,319.2 L462.75,318.7 L463.00,318.2 L463.25,319.3 L463.50,319.2 L463.75,318.2 L464.00,318.9 L464.25,319.4 L464.50,320.5 L464.75,318.7 L465.00,317.0 L465.25,313.5 L465.50,310.7 L465.75,308.7 L466.00,310.2 L466.25,308.0 L466.50,307.5 L466.75,306.9 L467.00,303.5 L467.25,302.6 L467.50,301.6 L467.75,298.3 L468.00,294.9 L468.25,289.6 L468.50,289.6 L468.75,294.3 L469.00,297.6 L469.25,300.9 L469.50,304.3 L469.75,307.6 L470.00,310.9 L470.25,313.5 L470.50,315.4 L470.75,314.1 L471.00,314.6 L471.25,313.6 L471.50,315.9 L471.75,317.9 L472.00,320.0 L472.25,320.2 L472.50,320.6 L472.75,322.7 L473.00,325.0 L473.25,325.9 L473.50,326.8 L473.75,328.2 L474.00,328.6 L474.25,327.5 L474.50,326.6 L474.75,325.1 L475.00,323.5 L475.25,324.2 L475.50,325.4 L475.75,326.4 L476.00,327.7 L476.25,327.8 L476.50,328.5 L476.75,327.7 L477.00,326.5 L477.25,324.9 L477.50,325.0 L477.75,326.4 L478.00,327.6 L478.25,327.3 L478.50,325.6 L478.75,323.9 L479.00,322.3 L479.25,324.5 L479.50,326.3 L479.75,328.0 L480.00,327.7 L480.25,327.7 L480.50,327.3 L480.75,326.6 L481.00,327.8 L481.25,329.0 L481.50,329.1 L481.75,327.6 L482.00,326.7 L482.25,325.2 L482.50,326.6 L482.75,328.3 L483.00,330.4 L483.25,329.8 L483.50,328.7 L483.75,327.6 L484.00,327.6 L484.25,328.8 L484.50,330.0 L484.75,330.4 L485.00,329.9 L485.25,328.5 L485.50,327.3 L485.75,328.4 L486.00,329.6 L486.25,328.8 L486.50,328.1 L486.75,328.6 L487.00,329.5 L487.25,330.8 L487.50,329.7 L487.75,328.7 L488.00,329.1 L488.25,328.3 L488.50,326.9 L488.75,327.5 L489.00,328.7 L489.25,329.3 L489.50,329.2 L489.75,329.8 L490.00,329.9 L490.25,330.7 L490.50,330.7 L490.75,328.8 L491.00,327.0 L491.25,328.3 L491.50,329.4 L491.75,328.9 L492.00,327.9 L492.25,327.2 L492.50,328.1 L492.75,328.8 L493.00,329.2 L493.25,329.5 L493.50,328.7 L493.75,327.5 L494.00,328.3 L494.25,329.7 L494.50,330.6 L494.75,330.3 L495.00,329.6 L495.25,328.7 L495.50,327.9 L495.75,328.9 L496.00,329.9 L496.25,329.4 L496.50,328.4 L496.75,327.8 L497.00,328.1 L497.25,329.3 L497.50,330.0 L497.75,329.9 L498.00,330.7 L498.25,331.1 L498.50,330.8 L498.75,330.4 L499.00,330.0 L499.25,329.6 L499.50,329.5 L499.75,330.1 L500.00,330.8 L500.25,332.1 L500.50,331.8 L500.75,331.1 L501.00,331.7 L501.25,332.0 L501.50,332.0 L501.75,332.9 L502.00,333.2 L502.25,333.7 L502.50,333.8 L502.75,333.6 L503.00,333.1 L503.25,333.2 L503.50,333.2 L503.75,332.7 L504.00,332.0 L504.25,332.6 L504.50,333.3 L504.75,333.9 L505.00,334.2 L505.25,333.6 L505.50,333.3 L505.75,332.7 L506.00,333.3 L506.25,334.0 L506.50,334.7 L506.75,334.4 L507.00,334.4 L507.25,334.0 L507.50,333.9 L507.75,334.1 L508.00,334.1 L508.25,333.6 L508.50,333.2 L508.75,333.7 L509.00,333.9 L509.25,334.0 L509.50,333.8 L509.75,333.5 L510.00,333.1 L510.25,332.6 L510.50,333.0 L510.75,333.7 L511.00,334.1 L511.25,333.7 L511.50,333.3 L511.75,333.4 L512.00,334.0 L512.25,334.2 L512.50,333.5 L512.75,333.1 L513.00,332.3 L513.25,332.2 L513.50,332.9 L513.75,333.5 L514.00,334.1 L514.25,333.7 L514.50,333.3 L514.75,332.9 L515.00,333.3 L515.25,333.9 L515.50,334.1 L515.75,333.9 L516.00,334.4 L516.25,335.0 L516.50,334.8 L516.75,334.7 L517.00,334.9 L517.25,334.7 L517.50,334.5 L517.75,334.4 L518.00,334.0 L518.25,333.6 L518.50,333.9 L518.75,334.6 L519.00,335.0 L519.25,334.8 L519.50,335.1 L519.75,335.0 L520.00,334.9 L520.25,334.4 L520.50,334.0 L520.75,334.7 L521.00,335.2 L521.25,335.7 L521.50,335.0 L521.75,334.2 L522.00,335.0 L522.25,335.6 L522.50,335.6 L522.75,335.5 L523.00,335.8 L523.25,336.0 L523.50,335.7 L523.75,335.3 L524.00,334.8 L524.25,334.5 L524.50,335.2 L524.75,335.8 L525.00,335.5 L525.25,335.0 L525.50,335.6 L525.75,336.3 L526.00,336.9 L526.25,336.9 L526.50,336.5 L526.75,336.4 L527.00,336.5 L527.25,336.6 L527.50,335.8 L527.75,335.2 L528.00,334.4 L528.25,335.2 L528.50,335.4 L528.75,334.8 L529.00,335.0 L529.25,335.4 L529.50,336.0 L529.75,335.8 L530.00,335.6 L530.25,335.5 L530.50,336.0 L530.75,336.4 L531.00,336.2 L531.25,336.0 L531.50,336.2 L531.75,336.7 L532.00,336.2 L532.25,335.7 L532.50,335.5 L532.75,336.6 L533.00,337.4 L533.25,338.0 L533.50,338.1 L533.75,338.4 L534.00,338.7 L534.25,338.3 L534.50,334.4 L534.75,333.4 L535.00,332.3 L535.25,331.3 L535.50,330.2 L535.75,329.2 L536.00,328.1 L536.25,326.0 L536.50,326.0 L536.75,326.0 L537.00,328.1 L537.25,329.2 L537.50,330.2 L537.75,331.3 L538.00,332.3 L538.25,333.4 L538.50,334.4 L538.75,339.3 L539.00,339.6 L539.25,339.6 L539.50,339.4 L539.75,339.1 L540.00,339.2 L540.25,339.4 L540.50,339.5 L540.75,339.7 L541.00,339.7 L541.25,339.4 L541.50,339.0 L541.75,339.2 L542.00,339.5 L542.25,339.8 L542.50,339.7 L542.75,339.6 L543.00,339.4 L543.25,339.6 L543.50,339.8 L543.75,339.8 L544.00,339.8 L544.25,339.7 L544.50,339.7 L544.75,339.6 L545.00,339.7 L545.25,339.7 L545.50,339.7 L545.75,339.8 L546.00,339.9 L546.25,339.9 L546.50,340.1 L546.75,340.0 L547.00,340.0 L547.25,340.2 L547.50,340.2 L547.75,340.2 L548.00,340.3 L548.25,340.2 L548.50,340.2 L548.75,340.1 L549.00,340.0 L549.25,340.1 L549.50,340.4 L549.75,340.5 L550.00,340.2 L550.25,339.9 L550.50,340.0 L550.75,340.3 L551.00,340.3 L551.25,339.9 L551.50,339.4 L551.75,339.2 L552.00,339.8 L552.25,340.1 L552.50,340.0 L552.75,339.8 L553.00,339.9 L553.25,340.1 L553.50,340.4 L553.75,340.5 L554.00,340.5 L554.25,340.5 L554.50,340.6 L554.75,340.6 L555.00,340.4 L555.25,340.4 L555.50,340.4 L555.75,340.6 L556.00,340.8 L556.25,340.9 L556.50,340.8 L556.75,340.8 L557.00,340.7 L557.25,340.5 L557.50,340.2 L557.75,340.2 L558.00,340.3 L558.25,340.1 L558.50,340.2 L558.75,340.4 L559.00,340.5 L559.25,340.4 L559.50,340.3 L559.75,340.3 L560.00,340.5 L560.25,340.7 L560.50,340.8 L560.75,340.6 L561.00,340.3 L561.25,340.5 L561.50,340.3 L561.75,340.0 L562.00,340.5 L562.25,340.4 L562.50,340.1 L562.75,339.9 L563.00,340.2 L563.25,340.2 L563.50,340.0 L563.75,340.2 L564.00,340.3 L564.25,340.5 L564.50,340.5 L564.75,340.3 L565.00,340.4 L565.25,340.5 L565.50,340.6 L565.75,340.7 L566.00,340.6 L566.25,340.4 L566.50,340.3 L566.75,340.4 L567.00,340.7 L567.25,340.9 L567.50,340.9 L567.75,340.9 L568.00,340.8 L568.25,340.6 L568.50,340.6 L568.75,340.8 L569.00,341.1 L569.25,341.1 L569.50,341.1 L569.75,341.0 L570.00,341.0 L570.25,341.2 L570.50,341.1 L570.75,341.0 L571.00,341.1 L571.25,341.2 L571.50,341.1 L571.75,341.0 L572.00,340.9 L572.25,340.7 L572.50,340.8 L572.75,340.9 L573.00,340.8 L573.25,340.9 L573.50,341.0 L573.75,340.8 L574.00,340.6 L574.25,340.4 L574.50,340.4 L574.75,340.6 L575.00,340.7 L575.25,340.8 L575.50,340.7 L575.75,340.7 L576.00,340.6 L576.25,340.6 L576.50,340.7 L576.75,340.5 L577.00,340.5 L577.25,340.5 L577.50,340.6 L577.75,340.7 L578.00,340.8 L578.25,340.7 L578.50,340.6 L578.75,340.6 L579.00,340.4 L579.25,340.2 L579.50,340.0 L579.75,340.1 L580.00,340.2 L580.25,340.3 L580.50,340.4 L580.75,340.4 L581.00,340.3 L581.25,340.4 L581.50,340.6 L581.75,340.7 L582.00,340.7 L582.25,340.7 L582.50,340.6 L582.75,340.7 L583.00,340.6 L583.25,340.5 L583.50,340.6 L583.75,340.6 L584.00,340.4 L584.25,340.1 L584.50,340.3 L584.75,340.6 L585.00,340.6 L585.25,340.5 L585.50,340.7 L585.75,340.8 L586.00,340.7 L586.25,340.5 L586.50,340.4 L586.75,340.6 L587.00,340.8 L587.25,340.9 L587.50,340.7 L587.75,340.6 L588.00,340.5 L588.25,340.6 L588.50,340.8 L588.75,341.0 L589.00,341.0 L589.25,340.8 L589.50,340.7 L589.75,340.6 L590.00,340.7 L590.25,340.8 L590.50,340.9 L590.75,341.0 L591.00,340.9 L591.25,340.9 L591.50,340.8 L591.75,340.8 L592.00,340.9 L592.25,341.0 L592.50,341.0 L592.75,341.0 L593.00,341.0 L593.25,341.1 L593.50,341.1 L593.75,341.1 L594.00,341.0 L594.25,341.1 L594.50,341.2 L594.75,341.1 L595.00,341.1 L595.25,341.0 L595.50,340.9 L595.75,341.0 L596.00,341.1 L596.25,341.2 L596.50,341.1 L596.75,341.0 L597.00,340.9 L597.25,340.9 L597.50,341.1 L597.75,340.9 L598.00,341.0 L598.25,341.1 L598.50,341.0 L598.75,341.1 L599.00,341.2 L599.25,341.3 L599.50,341.4 L599.75,341.4 L600.00,341.4 L600.25,341.3 L600.50,341.4 L600.75,341.4 L601.00,341.3 L601.25,341.2 L601.50,341.1 L601.75,341.0 L602.00,341.2 L602.25,341.3 L602.50,341.3 L602.75,341.3 L603.00,341.3 L603.25,341.3 L603.50,341.3 L603.75,341.2 L604.00,341.1 L604.25,341.1 L604.50,341.2 L604.75,341.1 L605.00,340.9 L605.25,341.0 L605.50,341.2 L605.75,341.4 L606.00,341.4 L606.25,341.3 L606.50,341.2 L606.75,341.2 L607.00,341.2 L607.25,341.3 L607.50,341.2 L607.75,341.1 L608.00,341.1 L608.25,341.3 L608.50,341.3 L608.75,341.3 L609.00,341.3 L609.25,341.4 L609.50,341.4 L609.75,341.3 L610.00,341.2 L610.25,341.2 L610.50,341.2 L610.75,341.3 L611.00,341.2 L611.25,341.4 L611.50,341.5 L611.75,341.4 L612.00,341.4 L612.25,341.5 L612.50,341.6 L612.75,341.6 L613.00,341.5 L613.25,341.5 L613.50,341.5 L613.75,341.4 L614.00,341.4 L614.25,341.3 L614.50,341.4 L614.75,341.5 L615.00,341.5 L615.25,341.5 L615.50,341.5 L615.75,341.4 L616.00,341.3 L616.25,341.4 L616.50,341.4 L616.75,341.3 L617.00,341.1 L617.25,341.2 L617.50,341.3 L617.75,341.4 L618.00,341.3 L618.25,341.3 L618.50,341.3 L618.75,341.4 L619.00,341.4 L619.25,341.3 L619.50,341.3 L619.75,341.5 L620.00,341.6 L620.25,341.6 L620.50,341.6 L620.75,341.6 L621.00,341.6 L621.25,341.5 L621.50,341.4 L621.75,341.3 L622.00,341.5 L622.25,341.5 L622.50,341.5 L622.75,341.5 L623.00,341.4 L623.25,341.3 L623.50,341.2 L623.75,341.3 L624.00,341.5 L624.25,341.5 L624.50,341.5 L624.75,341.5 L625.00,341.4 L625.25,341.4 L625.50,341.5 L625.75,341.6 L626.00,341.5 L626.25,341.5 L626.50,341.6 L626.75,341.6 L627.00,341.7 L627.25,341.7 L627.50,341.7 L627.75,341.6 L628.00,341.6 L628.25,341.6 L628.50,341.5 L628.75,341.5 L629.00,341.6 L629.25,341.7 L629.50,341.8 L629.75,341.8 L630.00,341.7 L630.25,341.7 L630.50,341.6 L630.75,341.6 L631.00,341.5 L631.25,341.6 L631.50,341.7 L631.75,341.7 L632.00,341.7 L632.25,341.7 L632.50,341.6 L632.75,341.7 L633.00,341.7 L633.25,341.6 L633.50,341.5 L633.75,341.3 L634.00,341.3 L634.25,341.4 L634.50,341.3 L634.75,341.3 L635.00,341.4 L635.25,341.5 L635.50,341.5 L635.75,341.5 L636.00,341.6 L636.25,341.6 L636.50,341.6 L636.75,341.7 L637.00,341.7 L637.25,341.6 L637.50,341.7 L637.75,341.6 L638.00,341.6 L638.25,341.6 L638.50,341.6 L638.75,341.6 L639.00,341.6 L639.25,341.4 L639.50,341.3 L639.75,341.2 L640.00,341.3 L640.25,341.5 L640.50,341.5 L640.75,341.4 L641.00,341.3 L641.25,341.4 L641.50,341.5 L641.75,341.5 L642.00,341.4 L642.25,341.3 L642.50,341.5 L642.75,341.6 L643.00,341.7 L643.25,341.6 L643.50,341.6 L643.75,341.5 L644.00,341.4 L644.25,341.3 L644.50,341.2 L644.75,341.2 L645.00,341.4 L645.25,341.5 L645.50,341.5 L645.75,341.4 L646.00,341.4 L646.25,341.4 L646.50,341.5 L646.75,341.6 L647.00,341.7 L647.25,341.6 L647.50,341.6 L647.75,341.6 L648.00,341.7 L648.25,341.6 L648.50,341.5 L648.75,341.3 L649.00,341.5 L649.25,341.6 L649.50,341.8 L649.75,341.7 L650.00,341.7 L650.25,341.8 L650.50,341.7 L650.75,341.7 L651.00,341.6 L651.25,341.5 L651.50,341.4 L651.75,341.5 L652.00,341.6 L652.25,341.7 L652.50,341.7 L652.75,341.7 L653.00,341.6 L653.25,341.6 L653.50,341.6 L653.75,341.6 L654.00,341.4 L654.25,341.3 L654.50,341.4 L654.75,341.6 L655.00,341.7 L655.25,341.6 L655.50,341.6 L655.75,341.5 L656.00,341.5 L656.25,341.6 L656.50,341.6 L656.75,341.7 L657.00,341.7 L657.25,341.7 L657.50,341.8 L657.75,341.7 L658.00,341.7 L658.25,341.6 L658.50,341.5 L658.75,341.6 L659.00,341.7 L659.25,341.6 L659.50,341.6 L659.75,341.7 L660.00,341.8 L660.25,341.7 L660.50,341.6 L660.75,341.6 L661.00,341.5 L661.25,341.4 L661.50,341.5 L661.75,341.6 L662.00,341.6 L662.25,341.5 L662.50,341.4 L662.75,341.3 L663.00,341.5 L663.25,341.6 L663.50,341.5 L663.75,341.6 L664.00,341.8 L664.25,341.8 L664.50,341.8 L664.75,341.7 L665.00,341.6 L665.25,341.6 L665.50,341.8 L665.75,341.8 L666.00,341.7 L666.25,341.6 L666.50,341.7 L666.75,341.8 L667.00,341.8 L667.25,341.8 L667.50,341.9 L667.75,341.9 L668.00,342.0 L668.0,342.9 Z" fill="#3a4ea0" stroke="none"/>
<line x1="73.40" y1="204.00" x2="73.40" y2="342.90" stroke="#2f4f4f" stroke-width="0.9"/>
<line x1="73.40" y1="342.90" x2="668.50" y2="342.90" stroke="#2f4f4f" stroke-width="0.9"/>
<line x1="73.80" y1="209.60" x2="73.80" y2="342.40" stroke="#ed1c24" stroke-width="1.0"/>
<line x1="68.40" y1="342.90" x2="73.40" y2="342.90" stroke="#2f4f4f" stroke-width="0.8"/>
<text x="64.10" y="345.90" font-size="8.4" text-anchor="end" fill="#333" stroke="#333" stroke-width="0.12">0</text>
<line x1="70.60" y1="339.03" x2="73.40" y2="339.03" stroke="#2f4f4f" stroke-width="0.7"/>
<line x1="70.60" y1="335.16" x2="73.40" y2="335.16" stroke="#2f4f4f" stroke-width="0.7"/>
<line x1="70.60" y1="331.29" x2="73.40" y2="331.29" stroke="#2f4f4f" stroke-width="0.7"/>
<line x1="70.60" y1="327.42" x2="73.40" y2="327.42" stroke="#2f4f4f" stroke-width="0.7"/>
<line x1="68.40" y1="323.55" x2="73.40" y2="323.55" stroke="#2f4f4f" stroke-width="0.8"/>
<text x="64.10" y="326.55" font-size="8.4" text-anchor="end" fill="#333" stroke="#333" stroke-width="0.12">5.0E9</text>
<line x1="70.60" y1="319.68" x2="73.40" y2="319.68" stroke="#2f4f4f" stroke-width="0.7"/>
<line x1="70.60" y1="315.81" x2="73.40" y2="315.81" stroke="#2f4f4f" stroke-width="0.7"/>
<line x1="70.60" y1="311.94" x2="73.40" y2="311.94" stroke="#2f4f4f" stroke-width="0.7"/>
<line x1="70.60" y1="308.07" x2="73.40" y2="308.07" stroke="#2f4f4f" stroke-width="0.7"/>
<line x1="68.40" y1="304.20" x2="73.40" y2="304.20" stroke="#2f4f4f" stroke-width="0.8"/>
<text x="64.10" y="307.20" font-size="8.4" text-anchor="end" fill="#333" stroke="#333" stroke-width="0.12">1.0E10</text>
<line x1="70.60" y1="300.33" x2="73.40" y2="300.33" stroke="#2f4f4f" stroke-width="0.7"/>
<line x1="70.60" y1="296.46" x2="73.40" y2="296.46" stroke="#2f4f4f" stroke-width="0.7"/>
<line x1="70.60" y1="292.59" x2="73.40" y2="292.59" stroke="#2f4f4f" stroke-width="0.7"/>
<line x1="70.60" y1="288.72" x2="73.40" y2="288.72" stroke="#2f4f4f" stroke-width="0.7"/>
<line x1="68.40" y1="284.85" x2="73.40" y2="284.85" stroke="#2f4f4f" stroke-width="0.8"/>
<text x="64.10" y="287.85" font-size="8.4" text-anchor="end" fill="#333" stroke="#333" stroke-width="0.12">1.5E10</text>
<line x1="70.60" y1="280.98" x2="73.40" y2="280.98" stroke="#2f4f4f" stroke-width="0.7"/>
<line x1="70.60" y1="277.11" x2="73.40" y2="277.11" stroke="#2f4f4f" stroke-width="0.7"/>
<line x1="70.60" y1="273.24" x2="73.40" y2="273.24" stroke="#2f4f4f" stroke-width="0.7"/>
<line x1="70.60" y1="269.37" x2="73.40" y2="269.37" stroke="#2f4f4f" stroke-width="0.7"/>
<line x1="68.40" y1="265.50" x2="73.40" y2="265.50" stroke="#2f4f4f" stroke-width="0.8"/>
<text x="64.10" y="268.50" font-size="8.4" text-anchor="end" fill="#333" stroke="#333" stroke-width="0.12">2.0E10</text>
<line x1="70.60" y1="261.63" x2="73.40" y2="261.63" stroke="#2f4f4f" stroke-width="0.7"/>
<line x1="70.60" y1="257.76" x2="73.40" y2="257.76" stroke="#2f4f4f" stroke-width="0.7"/>
<line x1="70.60" y1="253.89" x2="73.40" y2="253.89" stroke="#2f4f4f" stroke-width="0.7"/>
<line x1="70.60" y1="250.02" x2="73.40" y2="250.02" stroke="#2f4f4f" stroke-width="0.7"/>
<line x1="68.40" y1="246.15" x2="73.40" y2="246.15" stroke="#2f4f4f" stroke-width="0.8"/>
<text x="64.10" y="249.15" font-size="8.4" text-anchor="end" fill="#333" stroke="#333" stroke-width="0.12">2.5E10</text>
<line x1="70.60" y1="242.28" x2="73.40" y2="242.28" stroke="#2f4f4f" stroke-width="0.7"/>
<line x1="70.60" y1="238.41" x2="73.40" y2="238.41" stroke="#2f4f4f" stroke-width="0.7"/>
<line x1="70.60" y1="234.54" x2="73.40" y2="234.54" stroke="#2f4f4f" stroke-width="0.7"/>
<line x1="70.60" y1="230.67" x2="73.40" y2="230.67" stroke="#2f4f4f" stroke-width="0.7"/>
<line x1="68.40" y1="226.80" x2="73.40" y2="226.80" stroke="#2f4f4f" stroke-width="0.8"/>
<text x="64.10" y="229.80" font-size="8.4" text-anchor="end" fill="#333" stroke="#333" stroke-width="0.12">3.0E10</text>
<line x1="70.60" y1="222.93" x2="73.40" y2="222.93" stroke="#2f4f4f" stroke-width="0.7"/>
<line x1="70.60" y1="219.06" x2="73.40" y2="219.06" stroke="#2f4f4f" stroke-width="0.7"/>
<line x1="70.60" y1="215.19" x2="73.40" y2="215.19" stroke="#2f4f4f" stroke-width="0.7"/>
<line x1="70.60" y1="211.32" x2="73.40" y2="211.32" stroke="#2f4f4f" stroke-width="0.7"/>
<line x1="68.40" y1="207.45" x2="73.40" y2="207.45" stroke="#2f4f4f" stroke-width="0.8"/>
<text x="64.10" y="210.45" font-size="8.4" text-anchor="end" fill="#333" stroke="#333" stroke-width="0.12">3.5E10</text>
<text x="25.90" y="270.00" font-size="9.2" text-anchor="middle" fill="#222" stroke="#222" stroke-width="0.12" transform="rotate(-90 25.90 270.00)" letter-spacing="0.35">Intensity</text>
<line x1="73.40" y1="342.90" x2="73.40" y2="349.10" stroke="#2f4f4f" stroke-width="0.9"/>
<text x="73.40" y="358.50" font-size="8.3" text-anchor="middle" fill="#333" stroke="#333" stroke-width="0.12">0</text>
<line x1="77.38" y1="342.90" x2="77.38" y2="345.30" stroke="#2f4f4f" stroke-width="0.6"/>
<line x1="81.36" y1="342.90" x2="81.36" y2="345.30" stroke="#2f4f4f" stroke-width="0.6"/>
<line x1="85.34" y1="342.90" x2="85.34" y2="345.30" stroke="#2f4f4f" stroke-width="0.6"/>
<line x1="89.32" y1="342.90" x2="89.32" y2="345.30" stroke="#2f4f4f" stroke-width="0.6"/>
<line x1="93.30" y1="342.90" x2="93.30" y2="347.90" stroke="#2f4f4f" stroke-width="0.8"/>
<line x1="97.28" y1="342.90" x2="97.28" y2="345.30" stroke="#2f4f4f" stroke-width="0.6"/>
<line x1="101.26" y1="342.90" x2="101.26" y2="345.30" stroke="#2f4f4f" stroke-width="0.6"/>
<line x1="105.24" y1="342.90" x2="105.24" y2="345.30" stroke="#2f4f4f" stroke-width="0.6"/>
<line x1="109.22" y1="342.90" x2="109.22" y2="345.30" stroke="#2f4f4f" stroke-width="0.6"/>
<line x1="113.20" y1="342.90" x2="113.20" y2="349.10" stroke="#2f4f4f" stroke-width="0.9"/>
<text x="113.20" y="358.50" font-size="8.3" text-anchor="middle" fill="#333" stroke="#333" stroke-width="0.12">1</text>
<line x1="117.18" y1="342.90" x2="117.18" y2="345.30" stroke="#2f4f4f" stroke-width="0.6"/>
<line x1="121.16" y1="342.90" x2="121.16" y2="345.30" stroke="#2f4f4f" stroke-width="0.6"/>
<line x1="125.14" y1="342.90" x2="125.14" y2="345.30" stroke="#2f4f4f" stroke-width="0.6"/>
<line x1="129.12" y1="342.90" x2="129.12" y2="345.30" stroke="#2f4f4f" stroke-width="0.6"/>
<line x1="133.10" y1="342.90" x2="133.10" y2="347.90" stroke="#2f4f4f" stroke-width="0.8"/>
<line x1="137.08" y1="342.90" x2="137.08" y2="345.30" stroke="#2f4f4f" stroke-width="0.6"/>
<line x1="141.06" y1="342.90" x2="141.06" y2="345.30" stroke="#2f4f4f" stroke-width="0.6"/>
<line x1="145.04" y1="342.90" x2="145.04" y2="345.30" stroke="#2f4f4f" stroke-width="0.6"/>
<line x1="149.02" y1="342.90" x2="149.02" y2="345.30" stroke="#2f4f4f" stroke-width="0.6"/>
<line x1="153.00" y1="342.90" x2="153.00" y2="349.10" stroke="#2f4f4f" stroke-width="0.9"/>
<text x="153.00" y="358.50" font-size="8.3" text-anchor="middle" fill="#333" stroke="#333" stroke-width="0.12">2</text>
<line x1="156.98" y1="342.90" x2="156.98" y2="345.30" stroke="#2f4f4f" stroke-width="0.6"/>
<line x1="160.96" y1="342.90" x2="160.96" y2="345.30" stroke="#2f4f4f" stroke-width="0.6"/>
<line x1="164.94" y1="342.90" x2="164.94" y2="345.30" stroke="#2f4f4f" stroke-width="0.6"/>
<line x1="168.92" y1="342.90" x2="168.92" y2="345.30" stroke="#2f4f4f" stroke-width="0.6"/>
<line x1="172.90" y1="342.90" x2="172.90" y2="347.90" stroke="#2f4f4f" stroke-width="0.8"/>
<line x1="176.88" y1="342.90" x2="176.88" y2="345.30" stroke="#2f4f4f" stroke-width="0.6"/>
<line x1="180.86" y1="342.90" x2="180.86" y2="345.30" stroke="#2f4f4f" stroke-width="0.6"/>
<line x1="184.84" y1="342.90" x2="184.84" y2="345.30" stroke="#2f4f4f" stroke-width="0.6"/>
<line x1="188.82" y1="342.90" x2="188.82" y2="345.30" stroke="#2f4f4f" stroke-width="0.6"/>
<line x1="192.80" y1="342.90" x2="192.80" y2="349.10" stroke="#2f4f4f" stroke-width="0.9"/>
<text x="192.80" y="358.50" font-size="8.3" text-anchor="middle" fill="#333" stroke="#333" stroke-width="0.12">3</text>
<line x1="196.78" y1="342.90" x2="196.78" y2="345.30" stroke="#2f4f4f" stroke-width="0.6"/>
<line x1="200.76" y1="342.90" x2="200.76" y2="345.30" stroke="#2f4f4f" stroke-width="0.6"/>
<line x1="204.74" y1="342.90" x2="204.74" y2="345.30" stroke="#2f4f4f" stroke-width="0.6"/>
<line x1="208.72" y1="342.90" x2="208.72" y2="345.30" stroke="#2f4f4f" stroke-width="0.6"/>
<line x1="212.70" y1="342.90" x2="212.70" y2="347.90" stroke="#2f4f4f" stroke-width="0.8"/>
<line x1="216.68" y1="342.90" x2="216.68" y2="345.30" stroke="#2f4f4f" stroke-width="0.6"/>
<line x1="220.66" y1="342.90" x2="220.66" y2="345.30" stroke="#2f4f4f" stroke-width="0.6"/>
<line x1="224.64" y1="342.90" x2="224.64" y2="345.30" stroke="#2f4f4f" stroke-width="0.6"/>
<line x1="228.62" y1="342.90" x2="228.62" y2="345.30" stroke="#2f4f4f" stroke-width="0.6"/>
<line x1="232.60" y1="342.90" x2="232.60" y2="349.10" stroke="#2f4f4f" stroke-width="0.9"/>
<text x="232.60" y="358.50" font-size="8.3" text-anchor="middle" fill="#333" stroke="#333" stroke-width="0.12">4</text>
<line x1="236.58" y1="342.90" x2="236.58" y2="345.30" stroke="#2f4f4f" stroke-width="0.6"/>
<line x1="240.56" y1="342.90" x2="240.56" y2="345.30" stroke="#2f4f4f" stroke-width="0.6"/>
<line x1="244.54" y1="342.90" x2="244.54" y2="345.30" stroke="#2f4f4f" stroke-width="0.6"/>
<line x1="248.52" y1="342.90" x2="248.52" y2="345.30" stroke="#2f4f4f" stroke-width="0.6"/>
<line x1="252.50" y1="342.90" x2="252.50" y2="347.90" stroke="#2f4f4f" stroke-width="0.8"/>
<line x1="256.48" y1="342.90" x2="256.48" y2="345.30" stroke="#2f4f4f" stroke-width="0.6"/>
<line x1="260.46" y1="342.90" x2="260.46" y2="345.30" stroke="#2f4f4f" stroke-width="0.6"/>
<line x1="264.44" y1="342.90" x2="264.44" y2="345.30" stroke="#2f4f4f" stroke-width="0.6"/>
<line x1="268.42" y1="342.90" x2="268.42" y2="345.30" stroke="#2f4f4f" stroke-width="0.6"/>
<line x1="272.40" y1="342.90" x2="272.40" y2="349.10" stroke="#2f4f4f" stroke-width="0.9"/>
<text x="272.40" y="358.50" font-size="8.3" text-anchor="middle" fill="#333" stroke="#333" stroke-width="0.12">5</text>
<line x1="276.38" y1="342.90" x2="276.38" y2="345.30" stroke="#2f4f4f" stroke-width="0.6"/>
<line x1="280.36" y1="342.90" x2="280.36" y2="345.30" stroke="#2f4f4f" stroke-width="0.6"/>
<line x1="284.34" y1="342.90" x2="284.34" y2="345.30" stroke="#2f4f4f" stroke-width="0.6"/>
<line x1="288.32" y1="342.90" x2="288.32" y2="345.30" stroke="#2f4f4f" stroke-width="0.6"/>
<line x1="292.30" y1="342.90" x2="292.30" y2="347.90" stroke="#2f4f4f" stroke-width="0.8"/>
<line x1="296.28" y1="342.90" x2="296.28" y2="345.30" stroke="#2f4f4f" stroke-width="0.6"/>
<line x1="300.26" y1="342.90" x2="300.26" y2="345.30" stroke="#2f4f4f" stroke-width="0.6"/>
<line x1="304.24" y1="342.90" x2="304.24" y2="345.30" stroke="#2f4f4f" stroke-width="0.6"/>
<line x1="308.22" y1="342.90" x2="308.22" y2="345.30" stroke="#2f4f4f" stroke-width="0.6"/>
<line x1="312.20" y1="342.90" x2="312.20" y2="349.10" stroke="#2f4f4f" stroke-width="0.9"/>
<text x="312.20" y="358.50" font-size="8.3" text-anchor="middle" fill="#333" stroke="#333" stroke-width="0.12">6</text>
<line x1="316.18" y1="342.90" x2="316.18" y2="345.30" stroke="#2f4f4f" stroke-width="0.6"/>
<line x1="320.16" y1="342.90" x2="320.16" y2="345.30" stroke="#2f4f4f" stroke-width="0.6"/>
<line x1="324.14" y1="342.90" x2="324.14" y2="345.30" stroke="#2f4f4f" stroke-width="0.6"/>
<line x1="328.12" y1="342.90" x2="328.12" y2="345.30" stroke="#2f4f4f" stroke-width="0.6"/>
<line x1="332.10" y1="342.90" x2="332.10" y2="347.90" stroke="#2f4f4f" stroke-width="0.8"/>
<line x1="336.08" y1="342.90" x2="336.08" y2="345.30" stroke="#2f4f4f" stroke-width="0.6"/>
<line x1="340.06" y1="342.90" x2="340.06" y2="345.30" stroke="#2f4f4f" stroke-width="0.6"/>
<line x1="344.04" y1="342.90" x2="344.04" y2="345.30" stroke="#2f4f4f" stroke-width="0.6"/>
<line x1="348.02" y1="342.90" x2="348.02" y2="345.30" stroke="#2f4f4f" stroke-width="0.6"/>
<line x1="352.00" y1="342.90" x2="352.00" y2="349.10" stroke="#2f4f4f" stroke-width="0.9"/>
<text x="352.00" y="358.50" font-size="8.3" text-anchor="middle" fill="#333" stroke="#333" stroke-width="0.12">7</text>
<line x1="355.98" y1="342.90" x2="355.98" y2="345.30" stroke="#2f4f4f" stroke-width="0.6"/>
<line x1="359.96" y1="342.90" x2="359.96" y2="345.30" stroke="#2f4f4f" stroke-width="0.6"/>
<line x1="363.94" y1="342.90" x2="363.94" y2="345.30" stroke="#2f4f4f" stroke-width="0.6"/>
<line x1="367.92" y1="342.90" x2="367.92" y2="345.30" stroke="#2f4f4f" stroke-width="0.6"/>
<line x1="371.90" y1="342.90" x2="371.90" y2="347.90" stroke="#2f4f4f" stroke-width="0.8"/>
<line x1="375.88" y1="342.90" x2="375.88" y2="345.30" stroke="#2f4f4f" stroke-width="0.6"/>
<line x1="379.86" y1="342.90" x2="379.86" y2="345.30" stroke="#2f4f4f" stroke-width="0.6"/>
<line x1="383.84" y1="342.90" x2="383.84" y2="345.30" stroke="#2f4f4f" stroke-width="0.6"/>
<line x1="387.82" y1="342.90" x2="387.82" y2="345.30" stroke="#2f4f4f" stroke-width="0.6"/>
<line x1="391.80" y1="342.90" x2="391.80" y2="349.10" stroke="#2f4f4f" stroke-width="0.9"/>
<text x="391.80" y="358.50" font-size="8.3" text-anchor="middle" fill="#333" stroke="#333" stroke-width="0.12">8</text>
<line x1="395.78" y1="342.90" x2="395.78" y2="345.30" stroke="#2f4f4f" stroke-width="0.6"/>
<line x1="399.76" y1="342.90" x2="399.76" y2="345.30" stroke="#2f4f4f" stroke-width="0.6"/>
<line x1="403.74" y1="342.90" x2="403.74" y2="345.30" stroke="#2f4f4f" stroke-width="0.6"/>
<line x1="407.72" y1="342.90" x2="407.72" y2="345.30" stroke="#2f4f4f" stroke-width="0.6"/>
<line x1="411.70" y1="342.90" x2="411.70" y2="347.90" stroke="#2f4f4f" stroke-width="0.8"/>
<line x1="415.68" y1="342.90" x2="415.68" y2="345.30" stroke="#2f4f4f" stroke-width="0.6"/>
<line x1="419.66" y1="342.90" x2="419.66" y2="345.30" stroke="#2f4f4f" stroke-width="0.6"/>
<line x1="423.64" y1="342.90" x2="423.64" y2="345.30" stroke="#2f4f4f" stroke-width="0.6"/>
<line x1="427.62" y1="342.90" x2="427.62" y2="345.30" stroke="#2f4f4f" stroke-width="0.6"/>
<line x1="431.60" y1="342.90" x2="431.60" y2="349.10" stroke="#2f4f4f" stroke-width="0.9"/>
<text x="431.60" y="358.50" font-size="8.3" text-anchor="middle" fill="#333" stroke="#333" stroke-width="0.12">9</text>
<line x1="435.58" y1="342.90" x2="435.58" y2="345.30" stroke="#2f4f4f" stroke-width="0.6"/>
<line x1="439.56" y1="342.90" x2="439.56" y2="345.30" stroke="#2f4f4f" stroke-width="0.6"/>
<line x1="443.54" y1="342.90" x2="443.54" y2="345.30" stroke="#2f4f4f" stroke-width="0.6"/>
<line x1="447.52" y1="342.90" x2="447.52" y2="345.30" stroke="#2f4f4f" stroke-width="0.6"/>
<line x1="451.50" y1="342.90" x2="451.50" y2="347.90" stroke="#2f4f4f" stroke-width="0.8"/>
<line x1="455.48" y1="342.90" x2="455.48" y2="345.30" stroke="#2f4f4f" stroke-width="0.6"/>
<line x1="459.46" y1="342.90" x2="459.46" y2="345.30" stroke="#2f4f4f" stroke-width="0.6"/>
<line x1="463.44" y1="342.90" x2="463.44" y2="345.30" stroke="#2f4f4f" stroke-width="0.6"/>
<line x1="467.42" y1="342.90" x2="467.42" y2="345.30" stroke="#2f4f4f" stroke-width="0.6"/>
<line x1="471.40" y1="342.90" x2="471.40" y2="349.10" stroke="#2f4f4f" stroke-width="0.9"/>
<text x="471.40" y="358.50" font-size="8.3" text-anchor="middle" fill="#333" stroke="#333" stroke-width="0.12">10</text>
<line x1="475.38" y1="342.90" x2="475.38" y2="345.30" stroke="#2f4f4f" stroke-width="0.6"/>
<line x1="479.36" y1="342.90" x2="479.36" y2="345.30" stroke="#2f4f4f" stroke-width="0.6"/>
<line x1="483.34" y1="342.90" x2="483.34" y2="345.30" stroke="#2f4f4f" stroke-width="0.6"/>
<line x1="487.32" y1="342.90" x2="487.32" y2="345.30" stroke="#2f4f4f" stroke-width="0.6"/>
<line x1="491.30" y1="342.90" x2="491.30" y2="347.90" stroke="#2f4f4f" stroke-width="0.8"/>
<line x1="495.28" y1="342.90" x2="495.28" y2="345.30" stroke="#2f4f4f" stroke-width="0.6"/>
<line x1="499.26" y1="342.90" x2="499.26" y2="345.30" stroke="#2f4f4f" stroke-width="0.6"/>
<line x1="503.24" y1="342.90" x2="503.24" y2="345.30" stroke="#2f4f4f" stroke-width="0.6"/>
<line x1="507.22" y1="342.90" x2="507.22" y2="345.30" stroke="#2f4f4f" stroke-width="0.6"/>
<line x1="511.20" y1="342.90" x2="511.20" y2="349.10" stroke="#2f4f4f" stroke-width="0.9"/>
<text x="511.20" y="358.50" font-size="8.3" text-anchor="middle" fill="#333" stroke="#333" stroke-width="0.12">11</text>
<line x1="515.18" y1="342.90" x2="515.18" y2="345.30" stroke="#2f4f4f" stroke-width="0.6"/>
<line x1="519.16" y1="342.90" x2="519.16" y2="345.30" stroke="#2f4f4f" stroke-width="0.6"/>
<line x1="523.14" y1="342.90" x2="523.14" y2="345.30" stroke="#2f4f4f" stroke-width="0.6"/>
<line x1="527.12" y1="342.90" x2="527.12" y2="345.30" stroke="#2f4f4f" stroke-width="0.6"/>
<line x1="531.10" y1="342.90" x2="531.10" y2="347.90" stroke="#2f4f4f" stroke-width="0.8"/>
<line x1="535.08" y1="342.90" x2="535.08" y2="345.30" stroke="#2f4f4f" stroke-width="0.6"/>
<line x1="539.06" y1="342.90" x2="539.06" y2="345.30" stroke="#2f4f4f" stroke-width="0.6"/>
<line x1="543.04" y1="342.90" x2="543.04" y2="345.30" stroke="#2f4f4f" stroke-width="0.6"/>
<line x1="547.02" y1="342.90" x2="547.02" y2="345.30" stroke="#2f4f4f" stroke-width="0.6"/>
<line x1="551.00" y1="342.90" x2="551.00" y2="349.10" stroke="#2f4f4f" stroke-width="0.9"/>
<text x="551.00" y="358.50" font-size="8.3" text-anchor="middle" fill="#333" stroke="#333" stroke-width="0.12">12</text>
<line x1="554.98" y1="342.90" x2="554.98" y2="345.30" stroke="#2f4f4f" stroke-width="0.6"/>
<line x1="558.96" y1="342.90" x2="558.96" y2="345.30" stroke="#2f4f4f" stroke-width="0.6"/>
<line x1="562.94" y1="342.90" x2="562.94" y2="345.30" stroke="#2f4f4f" stroke-width="0.6"/>
<line x1="566.92" y1="342.90" x2="566.92" y2="345.30" stroke="#2f4f4f" stroke-width="0.6"/>
<line x1="570.90" y1="342.90" x2="570.90" y2="347.90" stroke="#2f4f4f" stroke-width="0.8"/>
<line x1="574.88" y1="342.90" x2="574.88" y2="345.30" stroke="#2f4f4f" stroke-width="0.6"/>
<line x1="578.86" y1="342.90" x2="578.86" y2="345.30" stroke="#2f4f4f" stroke-width="0.6"/>
<line x1="582.84" y1="342.90" x2="582.84" y2="345.30" stroke="#2f4f4f" stroke-width="0.6"/>
<line x1="586.82" y1="342.90" x2="586.82" y2="345.30" stroke="#2f4f4f" stroke-width="0.6"/>
<line x1="590.80" y1="342.90" x2="590.80" y2="349.10" stroke="#2f4f4f" stroke-width="0.9"/>
<text x="590.80" y="358.50" font-size="8.3" text-anchor="middle" fill="#333" stroke="#333" stroke-width="0.12">13</text>
<line x1="594.78" y1="342.90" x2="594.78" y2="345.30" stroke="#2f4f4f" stroke-width="0.6"/>
<line x1="598.76" y1="342.90" x2="598.76" y2="345.30" stroke="#2f4f4f" stroke-width="0.6"/>
<line x1="602.74" y1="342.90" x2="602.74" y2="345.30" stroke="#2f4f4f" stroke-width="0.6"/>
<line x1="606.72" y1="342.90" x2="606.72" y2="345.30" stroke="#2f4f4f" stroke-width="0.6"/>
<line x1="610.70" y1="342.90" x2="610.70" y2="347.90" stroke="#2f4f4f" stroke-width="0.8"/>
<line x1="614.68" y1="342.90" x2="614.68" y2="345.30" stroke="#2f4f4f" stroke-width="0.6"/>
<line x1="618.66" y1="342.90" x2="618.66" y2="345.30" stroke="#2f4f4f" stroke-width="0.6"/>
<line x1="622.64" y1="342.90" x2="622.64" y2="345.30" stroke="#2f4f4f" stroke-width="0.6"/>
<line x1="626.62" y1="342.90" x2="626.62" y2="345.30" stroke="#2f4f4f" stroke-width="0.6"/>
<line x1="630.60" y1="342.90" x2="630.60" y2="349.10" stroke="#2f4f4f" stroke-width="0.9"/>
<text x="630.60" y="358.50" font-size="8.3" text-anchor="middle" fill="#333" stroke="#333" stroke-width="0.12">14</text>
<line x1="634.58" y1="342.90" x2="634.58" y2="345.30" stroke="#2f4f4f" stroke-width="0.6"/>
<line x1="638.56" y1="342.90" x2="638.56" y2="345.30" stroke="#2f4f4f" stroke-width="0.6"/>
<line x1="642.54" y1="342.90" x2="642.54" y2="345.30" stroke="#2f4f4f" stroke-width="0.6"/>
<line x1="646.52" y1="342.90" x2="646.52" y2="345.30" stroke="#2f4f4f" stroke-width="0.6"/>
<line x1="650.50" y1="342.90" x2="650.50" y2="347.90" stroke="#2f4f4f" stroke-width="0.8"/>
<line x1="654.48" y1="342.90" x2="654.48" y2="345.30" stroke="#2f4f4f" stroke-width="0.6"/>
<line x1="658.46" y1="342.90" x2="658.46" y2="345.30" stroke="#2f4f4f" stroke-width="0.6"/>
<line x1="662.44" y1="342.90" x2="662.44" y2="345.30" stroke="#2f4f4f" stroke-width="0.6"/>
<line x1="666.42" y1="342.90" x2="666.42" y2="345.30" stroke="#2f4f4f" stroke-width="0.6"/>
<text x="367.90" y="371.60" font-size="8.5" text-anchor="middle" fill="#333" stroke="#333" stroke-width="0.12">Time (min)</text>
<text x="563.00" y="208.60" font-size="8.75" text-anchor="start" fill="#ed1c24" stroke="#ed1c24" stroke-width="0.12">3pctDMSO (TIC: 3.59E10)</text>
<text x="563.00" y="220.90" font-size="8.75" text-anchor="start" fill="#3a4ea0" stroke="#3a4ea0" stroke-width="0.12">FA (TIC: 2.29E10)</text>
<text x="75.20" y="321.90" font-size="9.8" text-anchor="start" fill="#257a3a" stroke="#257a3a" stroke-width="0.12">0.13</text>
<line x1="78.20" y1="326.10" x2="86.40" y2="324.50" stroke="#5d7a35" stroke-width="0.8"/>
<text x="102.10" y="332.50" font-size="9.8" text-anchor="start" fill="#257a3a" stroke="#257a3a" stroke-width="0.12">0.51</text>
<line x1="93.40" y1="335.20" x2="112.00" y2="333.80" stroke="#5d7a35" stroke-width="0.8"/>
<text x="122.70" y="315.20" font-size="9.8" text-anchor="start" fill="#257a3a" stroke="#257a3a" stroke-width="0.12">1.46</text>
<line x1="131.90" y1="317.50" x2="131.90" y2="319.00" stroke="#5d7a35" stroke-width="0.8"/>
<text x="134.40" y="293.50" font-size="9.8" text-anchor="start" fill="#257a3a" stroke="#257a3a" stroke-width="0.12">1.77</text>
<line x1="143.50" y1="295.50" x2="143.50" y2="297.60" stroke="#5d7a35" stroke-width="0.8"/>
<text x="160.00" y="301.20" font-size="9.8" text-anchor="start" fill="#257a3a" stroke="#257a3a" stroke-width="0.12">2.63</text>
<line x1="170.00" y1="303.50" x2="178.00" y2="304.50" stroke="#5d7a35" stroke-width="0.8"/>
<text x="162.80" y="257.80" font-size="9.8" text-anchor="start" fill="#257a3a" stroke="#257a3a" stroke-width="0.12">2.75</text>
<line x1="172.00" y1="259.60" x2="183.30" y2="259.90" stroke="#5d7a35" stroke-width="0.8"/>
<text x="187.40" y="257.80" font-size="9.8" text-anchor="start" fill="#257a3a" stroke="#257a3a" stroke-width="0.12">3.44</text>
<line x1="197.50" y1="259.60" x2="210.50" y2="259.80" stroke="#5d7a35" stroke-width="0.8"/>
<text x="213.90" y="245.10" font-size="9.8" text-anchor="start" fill="#257a3a" stroke="#257a3a" stroke-width="0.12">3.76</text>
<line x1="223.50" y1="247.00" x2="223.50" y2="249.00" stroke="#5d7a35" stroke-width="0.8"/>
<text x="239.30" y="252.20" font-size="9.8" text-anchor="start" fill="#257a3a" stroke="#257a3a" stroke-width="0.12">3.90</text>
<line x1="228.20" y1="255.40" x2="249.20" y2="253.70" stroke="#5d7a35" stroke-width="0.8"/>
<text x="233.40" y="270.10" font-size="9.8" text-anchor="start" fill="#257a3a" stroke="#257a3a" stroke-width="0.12">3.95</text>
<line x1="231.70" y1="272.90" x2="242.90" y2="272.00" stroke="#5d7a35" stroke-width="0.8"/>
<text x="263.80" y="253.30" font-size="9.8" text-anchor="start" fill="#257a3a" stroke="#257a3a" stroke-width="0.12">5.05</text>
<line x1="274.00" y1="255.00" x2="274.00" y2="256.00" stroke="#5d7a35" stroke-width="0.8"/>
<text x="289.00" y="256.90" font-size="9.8" text-anchor="start" fill="#257a3a" stroke="#257a3a" stroke-width="0.12">5.65</text>
<line x1="299.00" y1="258.50" x2="299.00" y2="259.60" stroke="#5d7a35" stroke-width="0.8"/>
<text x="290.60" y="228.10" font-size="9.8" text-anchor="start" fill="#257a3a" stroke="#257a3a" stroke-width="0.12">6.11</text>
<line x1="300.60" y1="229.90" x2="317.40" y2="230.80" stroke="#5d7a35" stroke-width="0.8"/>
<text x="315.20" y="223.90" font-size="9.8" text-anchor="start" fill="#257a3a" stroke="#257a3a" stroke-width="0.12">6.34</text>
<line x1="325.60" y1="225.50" x2="325.60" y2="227.00" stroke="#5d7a35" stroke-width="0.8"/>
<text x="329.20" y="247.50" font-size="9.8" text-anchor="start" fill="#257a3a" stroke="#257a3a" stroke-width="0.12">6.56</text>
<line x1="334.50" y1="250.50" x2="339.00" y2="249.80" stroke="#5d7a35" stroke-width="0.8"/>
<text x="343.20" y="228.60" font-size="9.8" text-anchor="start" fill="#257a3a" stroke="#257a3a" stroke-width="0.12">7.17</text>
<line x1="353.50" y1="231.00" x2="358.50" y2="231.80" stroke="#5d7a35" stroke-width="0.8"/>
<text x="357.00" y="200.50" font-size="9.8" text-anchor="start" fill="#257a3a" stroke="#257a3a" stroke-width="0.12">7.36</text>
<line x1="367.00" y1="202.00" x2="367.00" y2="203.50" stroke="#5d7a35" stroke-width="0.8"/>
<text x="390.00" y="223.50" font-size="9.8" text-anchor="start" fill="#257a3a" stroke="#257a3a" stroke-width="0.12">8.18</text>
<line x1="399.20" y1="225.20" x2="399.20" y2="227.40" stroke="#5d7a35" stroke-width="0.8"/>
<text x="413.80" y="240.30" font-size="9.8" text-anchor="start" fill="#257a3a" stroke="#257a3a" stroke-width="0.12">8.28</text>
<line x1="403.40" y1="242.60" x2="424.90" y2="241.40" stroke="#5d7a35" stroke-width="0.8"/>
<text x="421.30" y="257.30" font-size="9.8" text-anchor="start" fill="#257a3a" stroke="#257a3a" stroke-width="0.12">8.99</text>
<line x1="431.20" y1="259.00" x2="431.20" y2="260.00" stroke="#5d7a35" stroke-width="0.8"/>
<text x="441.40" y="281.90" font-size="9.8" text-anchor="start" fill="#257a3a" stroke="#257a3a" stroke-width="0.12">9.42</text>
<line x1="449.40" y1="283.50" x2="449.40" y2="285.00" stroke="#5d7a35" stroke-width="0.8"/>
<text x="455.40" y="247.80" font-size="9.8" text-anchor="start" fill="#257a3a" stroke="#257a3a" stroke-width="0.12">9.85</text>
<line x1="465.30" y1="249.00" x2="465.30" y2="250.00" stroke="#5d7a35" stroke-width="0.8"/>
<text x="473.80" y="295.60" font-size="9.8" text-anchor="start" fill="#257a3a" stroke="#257a3a" stroke-width="0.12">10.34</text>
<line x1="485.00" y1="297.00" x2="485.00" y2="298.00" stroke="#5d7a35" stroke-width="0.8"/>
<text x="504.90" y="302.20" font-size="9.8" text-anchor="start" fill="#257a3a" stroke="#257a3a" stroke-width="0.12">10.95</text>
<line x1="509.00" y1="305.50" x2="518.00" y2="304.80" stroke="#5d7a35" stroke-width="0.8"/>
<text x="534.40" y="304.40" font-size="9.8" text-anchor="start" fill="#257a3a" stroke="#257a3a" stroke-width="0.12">11.65</text>
<line x1="536.70" y1="307.40" x2="546.70" y2="306.70" stroke="#5d7a35" stroke-width="0.8"/>
<text x="543.10" y="328.30" font-size="9.8" text-anchor="start" fill="#257a3a" stroke="#257a3a" stroke-width="0.12">12.09</text>
<line x1="555.40" y1="330.00" x2="555.40" y2="331.00" stroke="#5d7a35" stroke-width="0.8"/>
<text x="574.10" y="331.80" font-size="9.8" text-anchor="start" fill="#257a3a" stroke="#257a3a" stroke-width="0.12">12.43</text>
<line x1="568.40" y1="334.70" x2="586.90" y2="333.10" stroke="#5d7a35" stroke-width="0.8"/>
<text x="619.20" y="336.70" font-size="9.8" text-anchor="start" fill="#257a3a" stroke="#257a3a" stroke-width="0.12">14.00</text>
<line x1="630.80" y1="337.50" x2="630.80" y2="338.50" stroke="#5d7a35" stroke-width="0.8"/>
<text x="0.30" y="387.80" font-size="14" text-anchor="start" fill="#111" font-weight="bold">C</text>
<text x="85.00" y="391.00" font-size="7.3" text-anchor="middle" fill="#333" stroke="#333" stroke-width="0.12">Proteins.Identified</text>
<line x1="30.50" y1="400.00" x2="30.50" y2="476.30" stroke="#444" stroke-width="0.9"/>
<line x1="30.50" y1="476.30" x2="144.00" y2="476.30" stroke="#444" stroke-width="0.9"/>
<line x1="27.30" y1="476.30" x2="30.50" y2="476.30" stroke="#444" stroke-width="0.9"/>
<text x="25.90" y="478.90" font-size="7.2" text-anchor="end" fill="#333" stroke="#333" stroke-width="0.12">8800</text>
<line x1="27.30" y1="461.14" x2="30.50" y2="461.14" stroke="#444" stroke-width="0.9"/>
<text x="25.90" y="463.74" font-size="7.2" text-anchor="end" fill="#333" stroke="#333" stroke-width="0.12">8900</text>
<line x1="27.30" y1="445.98" x2="30.50" y2="445.98" stroke="#444" stroke-width="0.9"/>
<text x="25.90" y="448.58" font-size="7.2" text-anchor="end" fill="#333" stroke="#333" stroke-width="0.12">9000</text>
<line x1="27.30" y1="430.82" x2="30.50" y2="430.82" stroke="#444" stroke-width="0.9"/>
<text x="25.90" y="433.42" font-size="7.2" text-anchor="end" fill="#333" stroke="#333" stroke-width="0.12">9100</text>
<line x1="27.30" y1="415.66" x2="30.50" y2="415.66" stroke="#444" stroke-width="0.9"/>
<text x="25.90" y="418.26" font-size="7.2" text-anchor="end" fill="#333" stroke="#333" stroke-width="0.12">9200</text>
<line x1="27.30" y1="400.50" x2="30.50" y2="400.50" stroke="#444" stroke-width="0.9"/>
<text x="25.90" y="403.10" font-size="7.2" text-anchor="end" fill="#333" stroke="#333" stroke-width="0.12">9300</text>
<text x="6.40" y="436.20" font-size="7.3" text-anchor="middle" fill="#333" stroke="#333" stroke-width="0.12" transform="rotate(-90 6.40 436.20)">Number (n)</text>
<line x1="36.90" y1="476.30" x2="36.90" y2="479.30" stroke="#444" stroke-width="0.9"/>
<text x="39.50" y="483.50" font-size="7.6" text-anchor="end" fill="#333" stroke="#333" stroke-width="0.12" transform="rotate(-45 39.50 483.50)">FA</text>
<line x1="33.30" y1="459.32" x2="40.50" y2="459.32" stroke="#2f55b4" stroke-width="0.9"/>
<circle cx="36.90" cy="449.47" r="1.80" fill="#2f55b4"/>
<circle cx="36.90" cy="459.32" r="1.80" fill="#2f55b4"/>
<circle cx="36.90" cy="467.36" r="1.80" fill="#2f55b4"/>
<line x1="46.93" y1="476.30" x2="46.93" y2="479.30" stroke="#444" stroke-width="0.9"/>
<text x="49.53" y="483.50" font-size="7.6" text-anchor="end" fill="#333" stroke="#333" stroke-width="0.12" transform="rotate(-45 49.53 483.50)">1% DMSO</text>
<line x1="43.33" y1="418.39" x2="50.53" y2="418.39" stroke="#ee1c25" stroke-width="0.9"/>
<circle cx="46.93" cy="412.17" r="1.80" fill="#ee1c25"/>
<circle cx="46.93" cy="418.39" r="1.80" fill="#ee1c25"/>
<circle cx="46.93" cy="424.15" r="1.80" fill="#ee1c25"/>
<line x1="56.96" y1="476.30" x2="56.96" y2="479.30" stroke="#444" stroke-width="0.9"/>
<text x="59.56" y="483.50" font-size="7.6" text-anchor="end" fill="#333" stroke="#333" stroke-width="0.12" transform="rotate(-45 59.56 483.50)">3% DMSO</text>
<line x1="53.36" y1="410.96" x2="60.56" y2="410.96" stroke="#2bb34b" stroke-width="0.9"/>
<circle cx="55.06" cy="409.75" r="1.80" fill="#2bb34b"/>
<circle cx="58.86" cy="410.96" r="1.80" fill="#2bb34b"/>
<circle cx="56.96" cy="417.18" r="1.80" fill="#2bb34b"/>
<line x1="66.99" y1="476.30" x2="66.99" y2="479.30" stroke="#444" stroke-width="0.9"/>
<text x="69.59" y="483.50" font-size="7.6" text-anchor="end" fill="#333" stroke="#333" stroke-width="0.12" transform="rotate(-45 69.59 483.50)">5% DMSO</text>
<line x1="63.39" y1="415.36" x2="70.59" y2="415.36" stroke="#8e44ad" stroke-width="0.9"/>
<circle cx="65.09" cy="414.60" r="1.80" fill="#8e44ad"/>
<circle cx="68.89" cy="415.36" r="1.80" fill="#8e44ad"/>
<circle cx="66.99" cy="420.21" r="1.80" fill="#8e44ad"/>
<line x1="77.02" y1="476.30" x2="77.02" y2="479.30" stroke="#444" stroke-width="0.9"/>
<text x="79.62" y="483.50" font-size="7.6" text-anchor="end" fill="#333" stroke="#333" stroke-width="0.12" transform="rotate(-45 79.62 483.50)">7% DMSO</text>
<line x1="73.42" y1="421.42" x2="80.62" y2="421.42" stroke="#f7871f" stroke-width="0.9"/>
<circle cx="75.12" cy="421.42" r="1.80" fill="#f7871f"/>
<circle cx="78.92" cy="421.42" r="1.80" fill="#f7871f"/>
<circle cx="77.02" cy="429.61" r="1.80" fill="#f7871f"/>
<line x1="87.05" y1="476.30" x2="87.05" y2="479.30" stroke="#444" stroke-width="0.9"/>
<text x="89.65" y="483.50" font-size="7.6" text-anchor="end" fill="#333" stroke="#333" stroke-width="0.12" transform="rotate(-45 89.65 483.50)">0.001% mNBA</text>
<line x1="83.45" y1="444.77" x2="90.65" y2="444.77" stroke="#111111" stroke-width="0.9"/>
<circle cx="87.05" cy="441.43" r="1.80" fill="#111111"/>
<circle cx="87.05" cy="444.77" r="1.80" fill="#111111"/>
<circle cx="87.05" cy="451.89" r="1.80" fill="#111111"/>
<line x1="97.08" y1="476.30" x2="97.08" y2="479.30" stroke="#444" stroke-width="0.9"/>
<text x="99.68" y="483.50" font-size="7.6" text-anchor="end" fill="#333" stroke="#333" stroke-width="0.12" transform="rotate(-45 99.68 483.50)">0.01% mNBA</text>
<line x1="93.48" y1="443.25" x2="100.68" y2="443.25" stroke="#a8742a" stroke-width="0.9"/>
<circle cx="95.18" cy="442.04" r="1.80" fill="#a8742a"/>
<circle cx="98.98" cy="443.25" r="1.80" fill="#a8742a"/>
<circle cx="97.08" cy="449.47" r="1.80" fill="#a8742a"/>
<line x1="107.11" y1="476.30" x2="107.11" y2="479.30" stroke="#444" stroke-width="0.9"/>
<text x="109.71" y="483.50" font-size="7.6" text-anchor="end" fill="#333" stroke="#333" stroke-width="0.12" transform="rotate(-45 109.71 483.50)">0.1% mNBA</text>
<line x1="103.51" y1="459.93" x2="110.71" y2="459.93" stroke="#262c8c" stroke-width="0.9"/>
<circle cx="107.11" cy="454.47" r="1.80" fill="#262c8c"/>
<circle cx="105.21" cy="459.93" r="1.80" fill="#262c8c"/>
<circle cx="109.01" cy="462.66" r="1.80" fill="#262c8c"/>
<line x1="117.14" y1="476.30" x2="117.14" y2="479.30" stroke="#444" stroke-width="0.9"/>
<text x="119.74" y="483.50" font-size="7.6" text-anchor="end" fill="#333" stroke="#333" stroke-width="0.12" transform="rotate(-45 119.74 483.50)">3% DMSO + 0.001% mNBA</text>
<line x1="113.54" y1="427.64" x2="120.74" y2="427.64" stroke="#6e1a62" stroke-width="0.9"/>
<circle cx="117.14" cy="422.63" r="1.80" fill="#6e1a62"/>
<circle cx="117.14" cy="427.64" r="1.80" fill="#6e1a62"/>
<circle cx="117.14" cy="434.00" r="1.80" fill="#6e1a62"/>
<line x1="127.17" y1="476.30" x2="127.17" y2="479.30" stroke="#444" stroke-width="0.9"/>
<text x="129.77" y="483.50" font-size="7.6" text-anchor="end" fill="#333" stroke="#333" stroke-width="0.12" transform="rotate(-45 129.77 483.50)">3% DMSO + 0.01% mNBA</text>
<line x1="123.57" y1="425.06" x2="130.77" y2="425.06" stroke="#b01c2e" stroke-width="0.9"/>
<circle cx="127.17" cy="421.42" r="1.80" fill="#b01c2e"/>
<circle cx="125.27" cy="425.06" r="1.80" fill="#b01c2e"/>
<circle cx="129.07" cy="426.12" r="1.80" fill="#b01c2e"/>
<line x1="137.20" y1="476.30" x2="137.20" y2="479.30" stroke="#444" stroke-width="0.9"/>
<text x="139.80" y="483.50" font-size="7.6" text-anchor="end" fill="#333" stroke="#333" stroke-width="0.12" transform="rotate(-45 139.80 483.50)">3% DMSO + 0.1% mNBA</text>
<line x1="133.60" y1="451.13" x2="140.80" y2="451.13" stroke="#1e6e35" stroke-width="0.9"/>
<circle cx="137.20" cy="447.04" r="1.80" fill="#1e6e35"/>
<circle cx="137.20" cy="451.13" r="1.80" fill="#1e6e35"/>
<circle cx="137.20" cy="457.35" r="1.80" fill="#1e6e35"/>
<text x="164.60" y="388.40" font-size="14" text-anchor="start" fill="#111" font-weight="bold">D</text>
<text x="248.00" y="391.00" font-size="7.3" text-anchor="middle" fill="#333" stroke="#333" stroke-width="0.12">Peptides.Identified</text>
<line x1="197.50" y1="401.30" x2="197.50" y2="477.10" stroke="#444" stroke-width="0.9"/>
<line x1="197.50" y1="477.10" x2="313.00" y2="477.10" stroke="#444" stroke-width="0.9"/>
<line x1="194.30" y1="477.10" x2="197.50" y2="477.10" stroke="#444" stroke-width="0.9"/>
<text x="192.90" y="479.70" font-size="6.9" text-anchor="end" fill="#333" stroke="#333" stroke-width="0.12">80000</text>
<line x1="194.30" y1="458.28" x2="197.50" y2="458.28" stroke="#444" stroke-width="0.9"/>
<text x="192.90" y="460.88" font-size="6.9" text-anchor="end" fill="#333" stroke="#333" stroke-width="0.12">85000</text>
<line x1="194.30" y1="439.45" x2="197.50" y2="439.45" stroke="#444" stroke-width="0.9"/>
<text x="192.90" y="442.05" font-size="6.9" text-anchor="end" fill="#333" stroke="#333" stroke-width="0.12">90000</text>
<line x1="194.30" y1="420.62" x2="197.50" y2="420.62" stroke="#444" stroke-width="0.9"/>
<text x="192.90" y="423.23" font-size="6.9" text-anchor="end" fill="#333" stroke="#333" stroke-width="0.12">95000</text>
<line x1="194.30" y1="401.80" x2="197.50" y2="401.80" stroke="#444" stroke-width="0.9"/>
<text x="192.90" y="404.40" font-size="6.9" text-anchor="end" fill="#333" stroke="#333" stroke-width="0.12">100000</text>
<text x="168.00" y="437.20" font-size="7.3" text-anchor="middle" fill="#333" stroke="#333" stroke-width="0.12" transform="rotate(-90 168.00 437.20)">Number (n)</text>
<line x1="204.00" y1="477.10" x2="204.00" y2="480.10" stroke="#444" stroke-width="0.9"/>
<text x="206.60" y="484.30" font-size="7.6" text-anchor="end" fill="#333" stroke="#333" stroke-width="0.12" transform="rotate(-45 206.60 484.30)">FA</text>
<line x1="200.40" y1="462.79" x2="207.60" y2="462.79" stroke="#2f55b4" stroke-width="0.9"/>
<circle cx="202.10" cy="462.79" r="1.80" fill="#2f55b4"/>
<circle cx="205.90" cy="462.79" r="1.80" fill="#2f55b4"/>
<circle cx="204.00" cy="470.82" r="1.80" fill="#2f55b4"/>
<line x1="214.15" y1="477.10" x2="214.15" y2="480.10" stroke="#444" stroke-width="0.9"/>
<text x="216.75" y="484.30" font-size="7.6" text-anchor="end" fill="#333" stroke="#333" stroke-width="0.12" transform="rotate(-45 216.75 484.30)">1% DMSO</text>
<line x1="210.55" y1="451.50" x2="217.75" y2="451.50" stroke="#ee1c25" stroke-width="0.9"/>
<circle cx="212.25" cy="448.74" r="1.80" fill="#ee1c25"/>
<circle cx="216.05" cy="451.50" r="1.80" fill="#ee1c25"/>
<circle cx="214.15" cy="455.26" r="1.80" fill="#ee1c25"/>
<line x1="224.30" y1="477.10" x2="224.30" y2="480.10" stroke="#444" stroke-width="0.9"/>
<text x="226.90" y="484.30" font-size="7.6" text-anchor="end" fill="#333" stroke="#333" stroke-width="0.12" transform="rotate(-45 226.90 484.30)">3% DMSO</text>
<line x1="220.70" y1="453.26" x2="227.90" y2="453.26" stroke="#2bb34b" stroke-width="0.9"/>
<circle cx="221.60" cy="453.00" r="1.80" fill="#2bb34b"/>
<circle cx="224.30" cy="453.26" r="1.80" fill="#2bb34b"/>
<circle cx="227.00" cy="453.57" r="1.80" fill="#2bb34b"/>
<line x1="234.45" y1="477.10" x2="234.45" y2="480.10" stroke="#444" stroke-width="0.9"/>
<text x="237.05" y="484.30" font-size="7.6" text-anchor="end" fill="#333" stroke="#333" stroke-width="0.12" transform="rotate(-45 237.05 484.30)">5% DMSO</text>
<line x1="230.85" y1="456.52" x2="238.05" y2="456.52" stroke="#8e44ad" stroke-width="0.9"/>
<circle cx="231.75" cy="456.39" r="1.80" fill="#8e44ad"/>
<circle cx="234.45" cy="456.52" r="1.80" fill="#8e44ad"/>
<circle cx="237.15" cy="456.77" r="1.80" fill="#8e44ad"/>
<line x1="244.60" y1="477.10" x2="244.60" y2="480.10" stroke="#444" stroke-width="0.9"/>
<text x="247.20" y="484.30" font-size="7.6" text-anchor="end" fill="#333" stroke="#333" stroke-width="0.12" transform="rotate(-45 247.20 484.30)">7% DMSO</text>
<line x1="241.00" y1="464.55" x2="248.20" y2="464.55" stroke="#f7871f" stroke-width="0.9"/>
<circle cx="241.90" cy="463.80" r="1.80" fill="#f7871f"/>
<circle cx="244.60" cy="464.55" r="1.80" fill="#f7871f"/>
<circle cx="247.30" cy="466.31" r="1.80" fill="#f7871f"/>
<line x1="254.75" y1="477.10" x2="254.75" y2="480.10" stroke="#444" stroke-width="0.9"/>
<text x="257.35" y="484.30" font-size="7.6" text-anchor="end" fill="#333" stroke="#333" stroke-width="0.12" transform="rotate(-45 257.35 484.30)">0.001% mNBA</text>
<line x1="251.15" y1="450.24" x2="258.35" y2="450.24" stroke="#111111" stroke-width="0.9"/>
<circle cx="252.85" cy="448.23" r="1.80" fill="#111111"/>
<circle cx="256.65" cy="450.24" r="1.80" fill="#111111"/>
<circle cx="254.75" cy="454.26" r="1.80" fill="#111111"/>
<line x1="264.90" y1="477.10" x2="264.90" y2="480.10" stroke="#444" stroke-width="0.9"/>
<text x="267.50" y="484.30" font-size="7.6" text-anchor="end" fill="#333" stroke="#333" stroke-width="0.12" transform="rotate(-45 267.50 484.30)">0.01% mNBA</text>
<line x1="261.30" y1="435.94" x2="268.50" y2="435.94" stroke="#a8742a" stroke-width="0.9"/>
<circle cx="264.90" cy="429.91" r="1.80" fill="#a8742a"/>
<circle cx="263.00" cy="435.94" r="1.80" fill="#a8742a"/>
<circle cx="266.80" cy="438.95" r="1.80" fill="#a8742a"/>
<line x1="275.05" y1="477.10" x2="275.05" y2="480.10" stroke="#444" stroke-width="0.9"/>
<text x="277.65" y="484.30" font-size="7.6" text-anchor="end" fill="#333" stroke="#333" stroke-width="0.12" transform="rotate(-45 277.65 484.30)">0.1% mNBA</text>
<line x1="271.45" y1="411.09" x2="278.65" y2="411.09" stroke="#262c8c" stroke-width="0.9"/>
<circle cx="275.05" cy="407.32" r="1.80" fill="#262c8c"/>
<circle cx="275.05" cy="411.09" r="1.80" fill="#262c8c"/>
<circle cx="275.05" cy="419.12" r="1.80" fill="#262c8c"/>
<line x1="285.20" y1="477.10" x2="285.20" y2="480.10" stroke="#444" stroke-width="0.9"/>
<text x="287.80" y="484.30" font-size="7.6" text-anchor="end" fill="#333" stroke="#333" stroke-width="0.12" transform="rotate(-45 287.80 484.30)">3% DMSO + 0.001% mNBA</text>
<line x1="281.60" y1="467.06" x2="288.80" y2="467.06" stroke="#6e1a62" stroke-width="0.9"/>
<circle cx="282.50" cy="466.93" r="1.80" fill="#6e1a62"/>
<circle cx="285.20" cy="467.06" r="1.80" fill="#6e1a62"/>
<circle cx="287.90" cy="467.56" r="1.80" fill="#6e1a62"/>
<line x1="295.35" y1="477.10" x2="295.35" y2="480.10" stroke="#444" stroke-width="0.9"/>
<text x="297.95" y="484.30" font-size="7.6" text-anchor="end" fill="#333" stroke="#333" stroke-width="0.12" transform="rotate(-45 297.95 484.30)">3% DMSO + 0.01% mNBA</text>
<line x1="291.75" y1="462.04" x2="298.95" y2="462.04" stroke="#b01c2e" stroke-width="0.9"/>
<circle cx="293.45" cy="459.53" r="1.80" fill="#b01c2e"/>
<circle cx="297.25" cy="462.04" r="1.80" fill="#b01c2e"/>
<circle cx="295.35" cy="465.30" r="1.80" fill="#b01c2e"/>
<line x1="305.50" y1="477.10" x2="305.50" y2="480.10" stroke="#444" stroke-width="0.9"/>
<text x="308.10" y="484.30" font-size="7.6" text-anchor="end" fill="#333" stroke="#333" stroke-width="0.12" transform="rotate(-45 308.10 484.30)">3% DMSO + 0.1% mNBA</text>
<line x1="301.90" y1="433.93" x2="309.10" y2="433.93" stroke="#1e6e35" stroke-width="0.9"/>
<circle cx="303.60" cy="432.67" r="1.80" fill="#1e6e35"/>
<circle cx="303.60" cy="433.93" r="1.80" fill="#1e6e35"/>
<circle cx="307.40" cy="435.94" r="1.80" fill="#1e6e35"/>
<text x="337.80" y="390.00" font-size="14" text-anchor="start" fill="#111" font-weight="bold">E</text>
<text x="421.40" y="390.00" font-size="7.3" text-anchor="middle" fill="#333" stroke="#333" stroke-width="0.12">Average.Peptide.Length</text>
<line x1="366.80" y1="399.70" x2="366.80" y2="476.40" stroke="#444" stroke-width="0.9"/>
<line x1="366.80" y1="476.40" x2="481.90" y2="476.40" stroke="#444" stroke-width="0.9"/>
<line x1="363.60" y1="476.40" x2="366.80" y2="476.40" stroke="#444" stroke-width="0.9"/>
<text x="362.20" y="479.00" font-size="7.6" text-anchor="end" fill="#333" stroke="#333" stroke-width="0.12">12.0</text>
<line x1="363.60" y1="451.00" x2="366.80" y2="451.00" stroke="#444" stroke-width="0.9"/>
<text x="362.20" y="453.60" font-size="7.6" text-anchor="end" fill="#333" stroke="#333" stroke-width="0.12">12.5</text>
<line x1="363.60" y1="425.60" x2="366.80" y2="425.60" stroke="#444" stroke-width="0.9"/>
<text x="362.20" y="428.20" font-size="7.6" text-anchor="end" fill="#333" stroke="#333" stroke-width="0.12">13.0</text>
<line x1="363.60" y1="400.20" x2="366.80" y2="400.20" stroke="#444" stroke-width="0.9"/>
<text x="362.20" y="402.80" font-size="7.6" text-anchor="end" fill="#333" stroke="#333" stroke-width="0.12">13.5</text>
<text x="342.70" y="435.80" font-size="7.3" text-anchor="middle" fill="#333" stroke="#333" stroke-width="0.12" transform="rotate(-90 342.70 435.80)">Number of Amino Acids</text>
<line x1="373.30" y1="476.40" x2="373.30" y2="479.40" stroke="#444" stroke-width="0.9"/>
<text x="375.90" y="483.60" font-size="7.6" text-anchor="end" fill="#333" stroke="#333" stroke-width="0.12" transform="rotate(-45 375.90 483.60)">FA</text>
<line x1="369.70" y1="460.14" x2="376.90" y2="460.14" stroke="#2f55b4" stroke-width="0.9"/>
<circle cx="371.40" cy="459.13" r="1.80" fill="#2f55b4"/>
<circle cx="371.40" cy="460.14" r="1.80" fill="#2f55b4"/>
<circle cx="375.20" cy="462.68" r="1.80" fill="#2f55b4"/>
<line x1="383.43" y1="476.40" x2="383.43" y2="479.40" stroke="#444" stroke-width="0.9"/>
<text x="386.03" y="483.60" font-size="7.6" text-anchor="end" fill="#333" stroke="#333" stroke-width="0.12" transform="rotate(-45 386.03 483.60)">1% DMSO</text>
<line x1="379.83" y1="456.59" x2="387.03" y2="456.59" stroke="#ee1c25" stroke-width="0.9"/>
<circle cx="380.73" cy="456.08" r="1.80" fill="#ee1c25"/>
<circle cx="383.43" cy="456.59" r="1.80" fill="#ee1c25"/>
<circle cx="386.13" cy="457.10" r="1.80" fill="#ee1c25"/>
<line x1="393.56" y1="476.40" x2="393.56" y2="479.40" stroke="#444" stroke-width="0.9"/>
<text x="396.16" y="483.60" font-size="7.6" text-anchor="end" fill="#333" stroke="#333" stroke-width="0.12" transform="rotate(-45 396.16 483.60)">3% DMSO</text>
<line x1="389.96" y1="455.06" x2="397.16" y2="455.06" stroke="#2bb34b" stroke-width="0.9"/>
<circle cx="390.86" cy="454.56" r="1.80" fill="#2bb34b"/>
<circle cx="393.56" cy="455.06" r="1.80" fill="#2bb34b"/>
<circle cx="396.26" cy="455.57" r="1.80" fill="#2bb34b"/>
<line x1="403.69" y1="476.40" x2="403.69" y2="479.40" stroke="#444" stroke-width="0.9"/>
<text x="406.29" y="483.60" font-size="7.6" text-anchor="end" fill="#333" stroke="#333" stroke-width="0.12" transform="rotate(-45 406.29 483.60)">5% DMSO</text>
<line x1="400.09" y1="455.57" x2="407.29" y2="455.57" stroke="#8e44ad" stroke-width="0.9"/>
<circle cx="400.99" cy="455.06" r="1.80" fill="#8e44ad"/>
<circle cx="403.69" cy="455.57" r="1.80" fill="#8e44ad"/>
<circle cx="406.39" cy="456.08" r="1.80" fill="#8e44ad"/>
<line x1="413.82" y1="476.40" x2="413.82" y2="479.40" stroke="#444" stroke-width="0.9"/>
<text x="416.42" y="483.60" font-size="7.6" text-anchor="end" fill="#333" stroke="#333" stroke-width="0.12" transform="rotate(-45 416.42 483.60)">7% DMSO</text>
<line x1="410.22" y1="456.59" x2="417.42" y2="456.59" stroke="#f7871f" stroke-width="0.9"/>
<circle cx="411.12" cy="455.57" r="1.80" fill="#f7871f"/>
<circle cx="413.82" cy="456.59" r="1.80" fill="#f7871f"/>
<circle cx="416.52" cy="457.10" r="1.80" fill="#f7871f"/>
<line x1="423.95" y1="476.40" x2="423.95" y2="479.40" stroke="#444" stroke-width="0.9"/>
<text x="426.55" y="483.60" font-size="7.6" text-anchor="end" fill="#333" stroke="#333" stroke-width="0.12" transform="rotate(-45 426.55 483.60)">0.001% mNBA</text>
<line x1="420.35" y1="453.54" x2="427.55" y2="453.54" stroke="#111111" stroke-width="0.9"/>
<circle cx="423.95" cy="448.46" r="1.80" fill="#111111"/>
<circle cx="422.05" cy="453.54" r="1.80" fill="#111111"/>
<circle cx="425.85" cy="453.54" r="1.80" fill="#111111"/>
<line x1="434.08" y1="476.40" x2="434.08" y2="479.40" stroke="#444" stroke-width="0.9"/>
<text x="436.68" y="483.60" font-size="7.6" text-anchor="end" fill="#333" stroke="#333" stroke-width="0.12" transform="rotate(-45 436.68 483.60)">0.01% mNBA</text>
<line x1="430.48" y1="439.82" x2="437.68" y2="439.82" stroke="#a8742a" stroke-width="0.9"/>
<circle cx="431.38" cy="439.32" r="1.80" fill="#a8742a"/>
<circle cx="434.08" cy="439.82" r="1.80" fill="#a8742a"/>
<circle cx="436.78" cy="439.82" r="1.80" fill="#a8742a"/>
<line x1="444.21" y1="476.40" x2="444.21" y2="479.40" stroke="#444" stroke-width="0.9"/>
<text x="446.81" y="483.60" font-size="7.6" text-anchor="end" fill="#333" stroke="#333" stroke-width="0.12" transform="rotate(-45 446.81 483.60)">0.1% mNBA</text>
<line x1="440.61" y1="409.34" x2="447.81" y2="409.34" stroke="#262c8c" stroke-width="0.9"/>
<circle cx="442.31" cy="406.30" r="1.80" fill="#262c8c"/>
<circle cx="442.31" cy="409.34" r="1.80" fill="#262c8c"/>
<circle cx="446.11" cy="411.38" r="1.80" fill="#262c8c"/>
<line x1="454.34" y1="476.40" x2="454.34" y2="479.40" stroke="#444" stroke-width="0.9"/>
<text x="456.94" y="483.60" font-size="7.6" text-anchor="end" fill="#333" stroke="#333" stroke-width="0.12" transform="rotate(-45 456.94 483.60)">3% DMSO + 0.001% mNBA</text>
<line x1="450.74" y1="459.13" x2="457.94" y2="459.13" stroke="#6e1a62" stroke-width="0.9"/>
<circle cx="451.64" cy="458.87" r="1.80" fill="#6e1a62"/>
<circle cx="454.34" cy="459.13" r="1.80" fill="#6e1a62"/>
<circle cx="457.04" cy="459.38" r="1.80" fill="#6e1a62"/>
<line x1="464.47" y1="476.40" x2="464.47" y2="479.40" stroke="#444" stroke-width="0.9"/>
<text x="467.07" y="483.60" font-size="7.6" text-anchor="end" fill="#333" stroke="#333" stroke-width="0.12" transform="rotate(-45 467.07 483.60)">3% DMSO + 0.01% mNBA</text>
<line x1="460.87" y1="455.06" x2="468.07" y2="455.06" stroke="#b01c2e" stroke-width="0.9"/>
<circle cx="461.77" cy="454.56" r="1.80" fill="#b01c2e"/>
<circle cx="464.47" cy="455.06" r="1.80" fill="#b01c2e"/>
<circle cx="467.17" cy="456.59" r="1.80" fill="#b01c2e"/>
<line x1="474.60" y1="476.40" x2="474.60" y2="479.40" stroke="#444" stroke-width="0.9"/>
<text x="477.20" y="483.60" font-size="7.6" text-anchor="end" fill="#333" stroke="#333" stroke-width="0.12" transform="rotate(-45 477.20 483.60)">3% DMSO + 0.1% mNBA</text>
<line x1="471.00" y1="422.55" x2="478.20" y2="422.55" stroke="#1e6e35" stroke-width="0.9"/>
<circle cx="471.90" cy="422.04" r="1.80" fill="#1e6e35"/>
<circle cx="474.60" cy="422.55" r="1.80" fill="#1e6e35"/>
<circle cx="477.30" cy="423.57" r="1.80" fill="#1e6e35"/>
<text x="504.80" y="390.00" font-size="14" text-anchor="start" fill="#111" font-weight="bold">F</text>
<text x="584.30" y="389.60" font-size="7.3" text-anchor="middle" fill="#333" stroke="#333" stroke-width="0.12">Average.Peptide.Charge</text>
<line x1="529.50" y1="399.00" x2="529.50" y2="476.50" stroke="#444" stroke-width="0.9"/>
<line x1="529.50" y1="476.50" x2="645.00" y2="476.50" stroke="#444" stroke-width="0.9"/>
<line x1="526.30" y1="476.50" x2="529.50" y2="476.50" stroke="#444" stroke-width="0.9"/>
<text x="524.90" y="479.10" font-size="7.4" text-anchor="end" fill="#333" stroke="#333" stroke-width="0.12">2.25</text>
<line x1="526.30" y1="463.67" x2="529.50" y2="463.67" stroke="#444" stroke-width="0.9"/>
<text x="524.90" y="466.27" font-size="7.4" text-anchor="end" fill="#333" stroke="#333" stroke-width="0.12">2.30</text>
<line x1="526.30" y1="450.83" x2="529.50" y2="450.83" stroke="#444" stroke-width="0.9"/>
<text x="524.90" y="453.43" font-size="7.4" text-anchor="end" fill="#333" stroke="#333" stroke-width="0.12">2.35</text>
<line x1="526.30" y1="438.00" x2="529.50" y2="438.00" stroke="#444" stroke-width="0.9"/>
<text x="524.90" y="440.60" font-size="7.4" text-anchor="end" fill="#333" stroke="#333" stroke-width="0.12">2.40</text>
<line x1="526.30" y1="425.17" x2="529.50" y2="425.17" stroke="#444" stroke-width="0.9"/>
<text x="524.90" y="427.77" font-size="7.4" text-anchor="end" fill="#333" stroke="#333" stroke-width="0.12">2.45</text>
<line x1="526.30" y1="412.33" x2="529.50" y2="412.33" stroke="#444" stroke-width="0.9"/>
<text x="524.90" y="414.93" font-size="7.4" text-anchor="end" fill="#333" stroke="#333" stroke-width="0.12">2.50</text>
<line x1="526.30" y1="399.50" x2="529.50" y2="399.50" stroke="#444" stroke-width="0.9"/>
<text x="524.90" y="402.10" font-size="7.4" text-anchor="end" fill="#333" stroke="#333" stroke-width="0.12">2.55</text>
<text x="506.30" y="436.20" font-size="7.3" text-anchor="middle" fill="#333" stroke="#333" stroke-width="0.12" transform="rotate(-90 506.30 436.20)">Charge (+)</text>
<line x1="535.80" y1="476.50" x2="535.80" y2="479.50" stroke="#444" stroke-width="0.9"/>
<text x="538.40" y="483.70" font-size="7.6" text-anchor="end" fill="#333" stroke="#333" stroke-width="0.12" transform="rotate(-45 538.40 483.70)">FA</text>
<line x1="532.20" y1="462.90" x2="539.40" y2="462.90" stroke="#2f55b4" stroke-width="0.9"/>
<circle cx="533.10" cy="462.13" r="1.80" fill="#2f55b4"/>
<circle cx="535.80" cy="462.90" r="1.80" fill="#2f55b4"/>
<circle cx="538.50" cy="464.44" r="1.80" fill="#2f55b4"/>
<line x1="546.10" y1="476.50" x2="546.10" y2="479.50" stroke="#444" stroke-width="0.9"/>
<text x="548.70" y="483.70" font-size="7.6" text-anchor="end" fill="#333" stroke="#333" stroke-width="0.12" transform="rotate(-45 548.70 483.70)">1% DMSO</text>
<line x1="542.50" y1="458.02" x2="549.70" y2="458.02" stroke="#ee1c25" stroke-width="0.9"/>
<circle cx="543.40" cy="457.51" r="1.80" fill="#ee1c25"/>
<circle cx="546.10" cy="458.02" r="1.80" fill="#ee1c25"/>
<circle cx="548.80" cy="458.53" r="1.80" fill="#ee1c25"/>
<line x1="556.40" y1="476.50" x2="556.40" y2="479.50" stroke="#444" stroke-width="0.9"/>
<text x="559.00" y="483.70" font-size="7.6" text-anchor="end" fill="#333" stroke="#333" stroke-width="0.12" transform="rotate(-45 559.00 483.70)">3% DMSO</text>
<line x1="552.80" y1="456.74" x2="560.00" y2="456.74" stroke="#2bb34b" stroke-width="0.9"/>
<circle cx="553.70" cy="456.48" r="1.80" fill="#2bb34b"/>
<circle cx="556.40" cy="456.74" r="1.80" fill="#2bb34b"/>
<circle cx="559.10" cy="456.99" r="1.80" fill="#2bb34b"/>
<line x1="566.70" y1="476.50" x2="566.70" y2="479.50" stroke="#444" stroke-width="0.9"/>
<text x="569.30" y="483.70" font-size="7.6" text-anchor="end" fill="#333" stroke="#333" stroke-width="0.12" transform="rotate(-45 569.30 483.70)">5% DMSO</text>
<line x1="563.10" y1="456.99" x2="570.30" y2="456.99" stroke="#8e44ad" stroke-width="0.9"/>
<circle cx="564.00" cy="456.74" r="1.80" fill="#8e44ad"/>
<circle cx="566.70" cy="456.99" r="1.80" fill="#8e44ad"/>
<circle cx="569.40" cy="457.25" r="1.80" fill="#8e44ad"/>
<line x1="577.00" y1="476.50" x2="577.00" y2="479.50" stroke="#444" stroke-width="0.9"/>
<text x="579.60" y="483.70" font-size="7.6" text-anchor="end" fill="#333" stroke="#333" stroke-width="0.12" transform="rotate(-45 579.60 483.70)">7% DMSO</text>
<line x1="573.40" y1="458.02" x2="580.60" y2="458.02" stroke="#f7871f" stroke-width="0.9"/>
<circle cx="574.30" cy="457.76" r="1.80" fill="#f7871f"/>
<circle cx="577.00" cy="458.02" r="1.80" fill="#f7871f"/>
<circle cx="579.70" cy="458.28" r="1.80" fill="#f7871f"/>
<line x1="587.30" y1="476.50" x2="587.30" y2="479.50" stroke="#444" stroke-width="0.9"/>
<text x="589.90" y="483.70" font-size="7.6" text-anchor="end" fill="#333" stroke="#333" stroke-width="0.12" transform="rotate(-45 589.90 483.70)">0.001% mNBA</text>
<line x1="583.70" y1="456.74" x2="590.90" y2="456.74" stroke="#111111" stroke-width="0.9"/>
<circle cx="584.60" cy="453.66" r="1.80" fill="#111111"/>
<circle cx="587.30" cy="456.74" r="1.80" fill="#111111"/>
<circle cx="590.00" cy="456.74" r="1.80" fill="#111111"/>
<line x1="597.60" y1="476.50" x2="597.60" y2="479.50" stroke="#444" stroke-width="0.9"/>
<text x="600.20" y="483.70" font-size="7.6" text-anchor="end" fill="#333" stroke="#333" stroke-width="0.12" transform="rotate(-45 600.20 483.70)">0.01% mNBA</text>
<line x1="594.00" y1="444.93" x2="601.20" y2="444.93" stroke="#a8742a" stroke-width="0.9"/>
<circle cx="594.90" cy="444.67" r="1.80" fill="#a8742a"/>
<circle cx="597.60" cy="444.93" r="1.80" fill="#a8742a"/>
<circle cx="600.30" cy="445.19" r="1.80" fill="#a8742a"/>
<line x1="607.90" y1="476.50" x2="607.90" y2="479.50" stroke="#444" stroke-width="0.9"/>
<text x="610.50" y="483.70" font-size="7.6" text-anchor="end" fill="#333" stroke="#333" stroke-width="0.12" transform="rotate(-45 610.50 483.70)">0.1% mNBA</text>
<line x1="604.30" y1="415.67" x2="611.50" y2="415.67" stroke="#262c8c" stroke-width="0.9"/>
<circle cx="606.00" cy="413.10" r="1.80" fill="#262c8c"/>
<circle cx="606.00" cy="415.67" r="1.80" fill="#262c8c"/>
<circle cx="609.80" cy="418.49" r="1.80" fill="#262c8c"/>
<line x1="618.20" y1="476.50" x2="618.20" y2="479.50" stroke="#444" stroke-width="0.9"/>
<text x="620.80" y="483.70" font-size="7.6" text-anchor="end" fill="#333" stroke="#333" stroke-width="0.12" transform="rotate(-45 620.80 483.70)">3% DMSO + 0.001% mNBA</text>
<line x1="614.60" y1="461.61" x2="621.80" y2="461.61" stroke="#6e1a62" stroke-width="0.9"/>
<circle cx="615.50" cy="461.36" r="1.80" fill="#6e1a62"/>
<circle cx="618.20" cy="461.61" r="1.80" fill="#6e1a62"/>
<circle cx="620.90" cy="461.87" r="1.80" fill="#6e1a62"/>
<line x1="628.50" y1="476.50" x2="628.50" y2="479.50" stroke="#444" stroke-width="0.9"/>
<text x="631.10" y="483.70" font-size="7.6" text-anchor="end" fill="#333" stroke="#333" stroke-width="0.12" transform="rotate(-45 631.10 483.70)">3% DMSO + 0.01% mNBA</text>
<line x1="624.90" y1="458.79" x2="632.10" y2="458.79" stroke="#b01c2e" stroke-width="0.9"/>
<circle cx="625.80" cy="458.02" r="1.80" fill="#b01c2e"/>
<circle cx="628.50" cy="458.79" r="1.80" fill="#b01c2e"/>
<circle cx="631.20" cy="460.33" r="1.80" fill="#b01c2e"/>
<line x1="638.80" y1="476.50" x2="638.80" y2="479.50" stroke="#444" stroke-width="0.9"/>
<text x="641.40" y="483.70" font-size="7.6" text-anchor="end" fill="#333" stroke="#333" stroke-width="0.12" transform="rotate(-45 641.40 483.70)">3% DMSO + 0.1% mNBA</text>
<line x1="635.20" y1="428.76" x2="642.40" y2="428.76" stroke="#1e6e35" stroke-width="0.9"/>
<circle cx="636.10" cy="428.50" r="1.80" fill="#1e6e35"/>
<circle cx="638.80" cy="428.76" r="1.80" fill="#1e6e35"/>
<circle cx="641.50" cy="429.02" r="1.80" fill="#1e6e35"/>
<text x="0.30" y="562.60" font-size="14" text-anchor="start" fill="#111" font-weight="bold">G</text>
<text x="91.60" y="562.50" font-size="7.3" text-anchor="middle" fill="#333" stroke="#333" stroke-width="0.12">Precursors.Charge2+</text>
<line x1="34.30" y1="572.00" x2="34.30" y2="648.70" stroke="#444" stroke-width="0.9"/>
<line x1="34.30" y1="648.70" x2="149.30" y2="648.70" stroke="#444" stroke-width="0.9"/>
<line x1="31.10" y1="648.70" x2="34.30" y2="648.70" stroke="#444" stroke-width="0.9"/>
<text x="29.70" y="651.30" font-size="7.2" text-anchor="end" fill="#333" stroke="#333" stroke-width="0.12">54000</text>
<line x1="31.10" y1="633.46" x2="34.30" y2="633.46" stroke="#444" stroke-width="0.9"/>
<text x="29.70" y="636.06" font-size="7.2" text-anchor="end" fill="#333" stroke="#333" stroke-width="0.12">56000</text>
<line x1="31.10" y1="618.22" x2="34.30" y2="618.22" stroke="#444" stroke-width="0.9"/>
<text x="29.70" y="620.82" font-size="7.2" text-anchor="end" fill="#333" stroke="#333" stroke-width="0.12">58000</text>
<line x1="31.10" y1="602.98" x2="34.30" y2="602.98" stroke="#444" stroke-width="0.9"/>
<text x="29.70" y="605.58" font-size="7.2" text-anchor="end" fill="#333" stroke="#333" stroke-width="0.12">60000</text>
<line x1="31.10" y1="587.74" x2="34.30" y2="587.74" stroke="#444" stroke-width="0.9"/>
<text x="29.70" y="590.34" font-size="7.2" text-anchor="end" fill="#333" stroke="#333" stroke-width="0.12">62000</text>
<line x1="31.10" y1="572.50" x2="34.30" y2="572.50" stroke="#444" stroke-width="0.9"/>
<text x="29.70" y="575.10" font-size="7.2" text-anchor="end" fill="#333" stroke="#333" stroke-width="0.12">64000</text>
<text x="6.40" y="609.70" font-size="7.3" text-anchor="middle" fill="#333" stroke="#333" stroke-width="0.12" transform="rotate(-90 6.40 609.70)">Intensity</text>
<line x1="40.80" y1="648.70" x2="40.80" y2="651.70" stroke="#444" stroke-width="0.9"/>
<text x="43.40" y="655.90" font-size="7.6" text-anchor="end" fill="#333" stroke="#333" stroke-width="0.12" transform="rotate(-45 43.40 655.90)">FA</text>
<line x1="37.20" y1="602.19" x2="44.40" y2="602.19" stroke="#2f55b4" stroke-width="0.9"/>
<circle cx="38.90" cy="602.19" r="1.80" fill="#2f55b4"/>
<circle cx="42.70" cy="602.19" r="1.80" fill="#2f55b4"/>
<circle cx="40.80" cy="608.87" r="1.80" fill="#2f55b4"/>
<line x1="50.99" y1="648.70" x2="50.99" y2="651.70" stroke="#444" stroke-width="0.9"/>
<text x="53.59" y="655.90" font-size="7.6" text-anchor="end" fill="#333" stroke="#333" stroke-width="0.12" transform="rotate(-45 53.59 655.90)">1% DMSO</text>
<line x1="47.39" y1="591.05" x2="54.59" y2="591.05" stroke="#ee1c25" stroke-width="0.9"/>
<circle cx="50.99" cy="584.87" r="1.80" fill="#ee1c25"/>
<circle cx="50.99" cy="591.05" r="1.80" fill="#ee1c25"/>
<circle cx="50.99" cy="594.77" r="1.80" fill="#ee1c25"/>
<line x1="61.18" y1="648.70" x2="61.18" y2="651.70" stroke="#444" stroke-width="0.9"/>
<text x="63.78" y="655.90" font-size="7.6" text-anchor="end" fill="#333" stroke="#333" stroke-width="0.12" transform="rotate(-45 63.78 655.90)">3% DMSO</text>
<line x1="57.58" y1="595.26" x2="64.78" y2="595.26" stroke="#2bb34b" stroke-width="0.9"/>
<circle cx="58.48" cy="594.03" r="1.80" fill="#2bb34b"/>
<circle cx="61.18" cy="595.26" r="1.80" fill="#2bb34b"/>
<circle cx="63.88" cy="596.50" r="1.80" fill="#2bb34b"/>
<line x1="71.37" y1="648.70" x2="71.37" y2="651.70" stroke="#444" stroke-width="0.9"/>
<text x="73.97" y="655.90" font-size="7.6" text-anchor="end" fill="#333" stroke="#333" stroke-width="0.12" transform="rotate(-45 73.97 655.90)">5% DMSO</text>
<line x1="67.77" y1="598.48" x2="74.97" y2="598.48" stroke="#8e44ad" stroke-width="0.9"/>
<circle cx="68.67" cy="597.74" r="1.80" fill="#8e44ad"/>
<circle cx="71.37" cy="598.48" r="1.80" fill="#8e44ad"/>
<circle cx="74.07" cy="598.98" r="1.80" fill="#8e44ad"/>
<line x1="81.56" y1="648.70" x2="81.56" y2="651.70" stroke="#444" stroke-width="0.9"/>
<text x="84.16" y="655.90" font-size="7.6" text-anchor="end" fill="#333" stroke="#333" stroke-width="0.12" transform="rotate(-45 84.16 655.90)">7% DMSO</text>
<line x1="77.96" y1="607.63" x2="85.16" y2="607.63" stroke="#f7871f" stroke-width="0.9"/>
<circle cx="78.86" cy="607.17" r="1.80" fill="#f7871f"/>
<circle cx="81.56" cy="607.63" r="1.80" fill="#f7871f"/>
<circle cx="84.26" cy="609.61" r="1.80" fill="#f7871f"/>
<line x1="91.75" y1="648.70" x2="91.75" y2="651.70" stroke="#444" stroke-width="0.9"/>
<text x="94.35" y="655.90" font-size="7.6" text-anchor="end" fill="#333" stroke="#333" stroke-width="0.12" transform="rotate(-45 94.35 655.90)">0.001% mNBA</text>
<line x1="88.15" y1="594.27" x2="95.35" y2="594.27" stroke="#111111" stroke-width="0.9"/>
<circle cx="89.85" cy="591.55" r="1.80" fill="#111111"/>
<circle cx="93.65" cy="594.27" r="1.80" fill="#111111"/>
<circle cx="91.75" cy="608.37" r="1.80" fill="#111111"/>
<line x1="101.94" y1="648.70" x2="101.94" y2="651.70" stroke="#444" stroke-width="0.9"/>
<text x="104.54" y="655.90" font-size="7.6" text-anchor="end" fill="#333" stroke="#333" stroke-width="0.12" transform="rotate(-45 104.54 655.90)">0.01% mNBA</text>
<line x1="98.34" y1="600.95" x2="105.54" y2="600.95" stroke="#a8742a" stroke-width="0.9"/>
<circle cx="101.94" cy="596.50" r="1.80" fill="#a8742a"/>
<circle cx="101.94" cy="600.95" r="1.80" fill="#a8742a"/>
<circle cx="101.94" cy="604.66" r="1.80" fill="#a8742a"/>
<line x1="112.13" y1="648.70" x2="112.13" y2="651.70" stroke="#444" stroke-width="0.9"/>
<text x="114.73" y="655.90" font-size="7.6" text-anchor="end" fill="#333" stroke="#333" stroke-width="0.12" transform="rotate(-45 114.73 655.90)">0.1% mNBA</text>
<line x1="108.53" y1="628.16" x2="115.73" y2="628.16" stroke="#262c8c" stroke-width="0.9"/>
<circle cx="112.13" cy="611.59" r="1.80" fill="#262c8c"/>
<circle cx="112.13" cy="628.16" r="1.80" fill="#262c8c"/>
<circle cx="112.13" cy="631.88" r="1.80" fill="#262c8c"/>
<line x1="122.32" y1="648.70" x2="122.32" y2="651.70" stroke="#444" stroke-width="0.9"/>
<text x="124.92" y="655.90" font-size="7.6" text-anchor="end" fill="#333" stroke="#333" stroke-width="0.12" transform="rotate(-45 124.92 655.90)">3% DMSO + 0.001% mNBA</text>
<line x1="118.72" y1="606.33" x2="125.92" y2="606.33" stroke="#6e1a62" stroke-width="0.9"/>
<circle cx="120.42" cy="605.90" r="1.80" fill="#6e1a62"/>
<circle cx="120.42" cy="606.33" r="1.80" fill="#6e1a62"/>
<circle cx="124.22" cy="609.11" r="1.80" fill="#6e1a62"/>
<line x1="132.51" y1="648.70" x2="132.51" y2="651.70" stroke="#444" stroke-width="0.9"/>
<text x="135.11" y="655.90" font-size="7.6" text-anchor="end" fill="#333" stroke="#333" stroke-width="0.12" transform="rotate(-45 135.11 655.90)">3% DMSO + 0.01% mNBA</text>
<line x1="128.91" y1="607.63" x2="136.11" y2="607.63" stroke="#b01c2e" stroke-width="0.9"/>
<circle cx="130.61" cy="604.66" r="1.80" fill="#b01c2e"/>
<circle cx="130.61" cy="607.63" r="1.80" fill="#b01c2e"/>
<circle cx="134.41" cy="609.61" r="1.80" fill="#b01c2e"/>
<line x1="142.70" y1="648.70" x2="142.70" y2="651.70" stroke="#444" stroke-width="0.9"/>
<text x="145.30" y="655.90" font-size="7.6" text-anchor="end" fill="#333" stroke="#333" stroke-width="0.12" transform="rotate(-45 145.30 655.90)">3% DMSO + 0.1% mNBA</text>
<line x1="139.10" y1="623.10" x2="146.30" y2="623.10" stroke="#1e6e35" stroke-width="0.9"/>
<circle cx="140.00" cy="622.47" r="1.80" fill="#1e6e35"/>
<circle cx="142.70" cy="623.10" r="1.80" fill="#1e6e35"/>
<circle cx="145.40" cy="623.71" r="1.80" fill="#1e6e35"/>
<text x="164.60" y="563.00" font-size="14" text-anchor="start" fill="#111" font-weight="bold">H</text>
<text x="253.80" y="562.50" font-size="7.3" text-anchor="middle" fill="#333" stroke="#333" stroke-width="0.12">Precursors.Charge3+</text>
<line x1="196.80" y1="571.90" x2="196.80" y2="648.60" stroke="#444" stroke-width="0.9"/>
<line x1="196.80" y1="648.60" x2="311.50" y2="648.60" stroke="#444" stroke-width="0.9"/>
<line x1="193.60" y1="648.60" x2="196.80" y2="648.60" stroke="#444" stroke-width="0.9"/>
<text x="192.20" y="651.20" font-size="7.2" text-anchor="end" fill="#333" stroke="#333" stroke-width="0.12">15000</text>
<line x1="193.60" y1="629.55" x2="196.80" y2="629.55" stroke="#444" stroke-width="0.9"/>
<text x="192.20" y="632.15" font-size="7.2" text-anchor="end" fill="#333" stroke="#333" stroke-width="0.12">20000</text>
<line x1="193.60" y1="610.50" x2="196.80" y2="610.50" stroke="#444" stroke-width="0.9"/>
<text x="192.20" y="613.10" font-size="7.2" text-anchor="end" fill="#333" stroke="#333" stroke-width="0.12">25000</text>
<line x1="193.60" y1="591.45" x2="196.80" y2="591.45" stroke="#444" stroke-width="0.9"/>
<text x="192.20" y="594.05" font-size="7.2" text-anchor="end" fill="#333" stroke="#333" stroke-width="0.12">30000</text>
<line x1="193.60" y1="572.40" x2="196.80" y2="572.40" stroke="#444" stroke-width="0.9"/>
<text x="192.20" y="575.00" font-size="7.2" text-anchor="end" fill="#333" stroke="#333" stroke-width="0.12">35000</text>
<text x="169.30" y="609.70" font-size="7.3" text-anchor="middle" fill="#333" stroke="#333" stroke-width="0.12" transform="rotate(-90 169.30 609.70)">Intensity</text>
<line x1="203.30" y1="648.60" x2="203.30" y2="651.60" stroke="#444" stroke-width="0.9"/>
<text x="205.90" y="655.80" font-size="7.6" text-anchor="end" fill="#333" stroke="#333" stroke-width="0.12" transform="rotate(-45 205.90 655.80)">FA</text>
<line x1="199.70" y1="626.86" x2="206.90" y2="626.86" stroke="#2f55b4" stroke-width="0.9"/>
<circle cx="201.40" cy="626.86" r="1.80" fill="#2f55b4"/>
<circle cx="205.20" cy="626.86" r="1.80" fill="#2f55b4"/>
<circle cx="203.30" cy="632.49" r="1.80" fill="#2f55b4"/>
<line x1="213.45" y1="648.60" x2="213.45" y2="651.60" stroke="#444" stroke-width="0.9"/>
<text x="216.05" y="655.80" font-size="7.6" text-anchor="end" fill="#333" stroke="#333" stroke-width="0.12" transform="rotate(-45 216.05 655.80)">1% DMSO</text>
<line x1="209.85" y1="624.31" x2="217.05" y2="624.31" stroke="#ee1c25" stroke-width="0.9"/>
<circle cx="210.75" cy="624.03" r="1.80" fill="#ee1c25"/>
<circle cx="213.45" cy="624.31" r="1.80" fill="#ee1c25"/>
<circle cx="216.15" cy="624.60" r="1.80" fill="#ee1c25"/>
<line x1="223.60" y1="648.60" x2="223.60" y2="651.60" stroke="#444" stroke-width="0.9"/>
<text x="226.20" y="655.80" font-size="7.6" text-anchor="end" fill="#333" stroke="#333" stroke-width="0.12" transform="rotate(-45 226.20 655.80)">3% DMSO</text>
<line x1="220.00" y1="623.80" x2="227.20" y2="623.80" stroke="#2bb34b" stroke-width="0.9"/>
<circle cx="220.90" cy="623.61" r="1.80" fill="#2bb34b"/>
<circle cx="223.60" cy="623.80" r="1.80" fill="#2bb34b"/>
<circle cx="226.30" cy="623.99" r="1.80" fill="#2bb34b"/>
<line x1="233.75" y1="648.60" x2="233.75" y2="651.60" stroke="#444" stroke-width="0.9"/>
<text x="236.35" y="655.80" font-size="7.6" text-anchor="end" fill="#333" stroke="#333" stroke-width="0.12" transform="rotate(-45 236.35 655.80)">5% DMSO</text>
<line x1="230.15" y1="625.59" x2="237.35" y2="625.59" stroke="#8e44ad" stroke-width="0.9"/>
<circle cx="231.05" cy="625.44" r="1.80" fill="#8e44ad"/>
<circle cx="233.75" cy="625.59" r="1.80" fill="#8e44ad"/>
<circle cx="236.45" cy="625.74" r="1.80" fill="#8e44ad"/>
<line x1="243.90" y1="648.60" x2="243.90" y2="651.60" stroke="#444" stroke-width="0.9"/>
<text x="246.50" y="655.80" font-size="7.6" text-anchor="end" fill="#333" stroke="#333" stroke-width="0.12" transform="rotate(-45 246.50 655.80)">7% DMSO</text>
<line x1="240.30" y1="628.14" x2="247.50" y2="628.14" stroke="#f7871f" stroke-width="0.9"/>
<circle cx="241.20" cy="627.84" r="1.80" fill="#f7871f"/>
<circle cx="243.90" cy="628.14" r="1.80" fill="#f7871f"/>
<circle cx="246.60" cy="628.48" r="1.80" fill="#f7871f"/>
<line x1="254.05" y1="648.60" x2="254.05" y2="651.60" stroke="#444" stroke-width="0.9"/>
<text x="256.65" y="655.80" font-size="7.6" text-anchor="end" fill="#333" stroke="#333" stroke-width="0.12" transform="rotate(-45 256.65 655.80)">0.001% mNBA</text>
<line x1="250.45" y1="619.19" x2="257.65" y2="619.19" stroke="#111111" stroke-width="0.9"/>
<circle cx="252.15" cy="617.15" r="1.80" fill="#111111"/>
<circle cx="252.15" cy="619.19" r="1.80" fill="#111111"/>
<circle cx="255.95" cy="620.47" r="1.80" fill="#111111"/>
<line x1="264.20" y1="648.60" x2="264.20" y2="651.60" stroke="#444" stroke-width="0.9"/>
<text x="266.80" y="655.80" font-size="7.6" text-anchor="end" fill="#333" stroke="#333" stroke-width="0.12" transform="rotate(-45 266.80 655.80)">0.01% mNBA</text>
<line x1="260.60" y1="605.13" x2="267.80" y2="605.13" stroke="#a8742a" stroke-width="0.9"/>
<circle cx="264.20" cy="601.30" r="1.80" fill="#a8742a"/>
<circle cx="262.30" cy="605.13" r="1.80" fill="#a8742a"/>
<circle cx="266.10" cy="605.24" r="1.80" fill="#a8742a"/>
<line x1="274.35" y1="648.60" x2="274.35" y2="651.60" stroke="#444" stroke-width="0.9"/>
<text x="276.95" y="655.80" font-size="7.6" text-anchor="end" fill="#333" stroke="#333" stroke-width="0.12" transform="rotate(-45 276.95 655.80)">0.1% mNBA</text>
<line x1="270.75" y1="586.46" x2="277.95" y2="586.46" stroke="#262c8c" stroke-width="0.9"/>
<circle cx="274.35" cy="582.89" r="1.80" fill="#262c8c"/>
<circle cx="272.45" cy="586.46" r="1.80" fill="#262c8c"/>
<circle cx="276.25" cy="586.69" r="1.80" fill="#262c8c"/>
<line x1="284.50" y1="648.60" x2="284.50" y2="651.60" stroke="#444" stroke-width="0.9"/>
<text x="287.10" y="655.80" font-size="7.6" text-anchor="end" fill="#333" stroke="#333" stroke-width="0.12" transform="rotate(-45 287.10 655.80)">3% DMSO + 0.001% mNBA</text>
<line x1="280.90" y1="629.93" x2="288.10" y2="629.93" stroke="#6e1a62" stroke-width="0.9"/>
<circle cx="281.80" cy="629.82" r="1.80" fill="#6e1a62"/>
<circle cx="284.50" cy="629.93" r="1.80" fill="#6e1a62"/>
<circle cx="287.20" cy="630.05" r="1.80" fill="#6e1a62"/>
<line x1="294.65" y1="648.60" x2="294.65" y2="651.60" stroke="#444" stroke-width="0.9"/>
<text x="297.25" y="655.80" font-size="7.6" text-anchor="end" fill="#333" stroke="#333" stroke-width="0.12" transform="rotate(-45 297.25 655.80)">3% DMSO + 0.01% mNBA</text>
<line x1="291.05" y1="624.60" x2="298.25" y2="624.60" stroke="#b01c2e" stroke-width="0.9"/>
<circle cx="292.75" cy="623.03" r="1.80" fill="#b01c2e"/>
<circle cx="292.75" cy="624.60" r="1.80" fill="#b01c2e"/>
<circle cx="296.55" cy="626.35" r="1.80" fill="#b01c2e"/>
<line x1="304.80" y1="648.60" x2="304.80" y2="651.60" stroke="#444" stroke-width="0.9"/>
<text x="307.40" y="655.80" font-size="7.6" text-anchor="end" fill="#333" stroke="#333" stroke-width="0.12" transform="rotate(-45 307.40 655.80)">3% DMSO + 0.1% mNBA</text>
<line x1="301.20" y1="601.55" x2="308.40" y2="601.55" stroke="#1e6e35" stroke-width="0.9"/>
<circle cx="302.10" cy="600.78" r="1.80" fill="#1e6e35"/>
<circle cx="304.80" cy="601.55" r="1.80" fill="#1e6e35"/>
<circle cx="307.50" cy="602.57" r="1.80" fill="#1e6e35"/>
<text x="343.20" y="562.30" font-size="14" text-anchor="start" fill="#111" font-weight="bold">I</text>
<text x="423.90" y="562.50" font-size="7.3" text-anchor="middle" fill="#333" stroke="#333" stroke-width="0.12">Precursors.Charge4+</text>
<line x1="367.30" y1="571.20" x2="367.30" y2="647.20" stroke="#444" stroke-width="0.9"/>
<line x1="367.30" y1="647.20" x2="480.50" y2="647.20" stroke="#444" stroke-width="0.9"/>
<line x1="364.10" y1="647.20" x2="367.30" y2="647.20" stroke="#444" stroke-width="0.9"/>
<text x="362.70" y="649.80" font-size="7.2" text-anchor="end" fill="#333" stroke="#333" stroke-width="0.12">0</text>
<line x1="364.10" y1="632.10" x2="367.30" y2="632.10" stroke="#444" stroke-width="0.9"/>
<text x="362.70" y="634.70" font-size="7.2" text-anchor="end" fill="#333" stroke="#333" stroke-width="0.12">2000</text>
<line x1="364.10" y1="617.00" x2="367.30" y2="617.00" stroke="#444" stroke-width="0.9"/>
<text x="362.70" y="619.60" font-size="7.2" text-anchor="end" fill="#333" stroke="#333" stroke-width="0.12">4000</text>
<line x1="364.10" y1="601.90" x2="367.30" y2="601.90" stroke="#444" stroke-width="0.9"/>
<text x="362.70" y="604.50" font-size="7.2" text-anchor="end" fill="#333" stroke="#333" stroke-width="0.12">6000</text>
<line x1="364.10" y1="586.80" x2="367.30" y2="586.80" stroke="#444" stroke-width="0.9"/>
<text x="362.70" y="589.40" font-size="7.2" text-anchor="end" fill="#333" stroke="#333" stroke-width="0.12">8000</text>
<line x1="364.10" y1="571.70" x2="367.30" y2="571.70" stroke="#444" stroke-width="0.9"/>
<text x="362.70" y="574.30" font-size="7.2" text-anchor="end" fill="#333" stroke="#333" stroke-width="0.12">10000</text>
<text x="339.80" y="608.50" font-size="7.3" text-anchor="middle" fill="#333" stroke="#333" stroke-width="0.12" transform="rotate(-90 339.80 608.50)">Intensity</text>
<line x1="373.70" y1="647.20" x2="373.70" y2="650.20" stroke="#444" stroke-width="0.9"/>
<text x="376.30" y="654.40" font-size="7.6" text-anchor="end" fill="#333" stroke="#333" stroke-width="0.12" transform="rotate(-45 376.30 654.40)">FA</text>
<line x1="370.10" y1="628.92" x2="377.30" y2="628.92" stroke="#2f55b4" stroke-width="0.9"/>
<circle cx="371.00" cy="628.78" r="1.80" fill="#2f55b4"/>
<circle cx="373.70" cy="628.92" r="1.80" fill="#2f55b4"/>
<circle cx="376.40" cy="629.08" r="1.80" fill="#2f55b4"/>
<line x1="383.68" y1="647.20" x2="383.68" y2="650.20" stroke="#444" stroke-width="0.9"/>
<text x="386.28" y="654.40" font-size="7.6" text-anchor="end" fill="#333" stroke="#333" stroke-width="0.12" transform="rotate(-45 386.28 654.40)">1% DMSO</text>
<line x1="380.08" y1="622.96" x2="387.28" y2="622.96" stroke="#ee1c25" stroke-width="0.9"/>
<circle cx="380.98" cy="622.30" r="1.80" fill="#ee1c25"/>
<circle cx="383.68" cy="622.96" r="1.80" fill="#ee1c25"/>
<circle cx="386.38" cy="623.42" r="1.80" fill="#ee1c25"/>
<line x1="393.66" y1="647.20" x2="393.66" y2="650.20" stroke="#444" stroke-width="0.9"/>
<text x="396.26" y="654.40" font-size="7.6" text-anchor="end" fill="#333" stroke="#333" stroke-width="0.12" transform="rotate(-45 396.26 654.40)">3% DMSO</text>
<line x1="390.06" y1="622.04" x2="397.26" y2="622.04" stroke="#2bb34b" stroke-width="0.9"/>
<circle cx="390.96" cy="621.91" r="1.80" fill="#2bb34b"/>
<circle cx="393.66" cy="622.04" r="1.80" fill="#2bb34b"/>
<circle cx="396.36" cy="622.21" r="1.80" fill="#2bb34b"/>
<line x1="403.64" y1="647.20" x2="403.64" y2="650.20" stroke="#444" stroke-width="0.9"/>
<text x="406.24" y="654.40" font-size="7.6" text-anchor="end" fill="#333" stroke="#333" stroke-width="0.12" transform="rotate(-45 406.24 654.40)">5% DMSO</text>
<line x1="400.04" y1="622.30" x2="407.24" y2="622.30" stroke="#8e44ad" stroke-width="0.9"/>
<circle cx="400.94" cy="622.21" r="1.80" fill="#8e44ad"/>
<circle cx="403.64" cy="622.30" r="1.80" fill="#8e44ad"/>
<circle cx="406.34" cy="622.40" r="1.80" fill="#8e44ad"/>
<line x1="413.62" y1="647.20" x2="413.62" y2="650.20" stroke="#444" stroke-width="0.9"/>
<text x="416.22" y="654.40" font-size="7.6" text-anchor="end" fill="#333" stroke="#333" stroke-width="0.12" transform="rotate(-45 416.22 654.40)">7% DMSO</text>
<line x1="410.02" y1="623.62" x2="417.22" y2="623.62" stroke="#f7871f" stroke-width="0.9"/>
<circle cx="410.92" cy="623.42" r="1.80" fill="#f7871f"/>
<circle cx="413.62" cy="623.62" r="1.80" fill="#f7871f"/>
<circle cx="416.32" cy="623.95" r="1.80" fill="#f7871f"/>
<line x1="423.60" y1="647.20" x2="423.60" y2="650.20" stroke="#444" stroke-width="0.9"/>
<text x="426.20" y="654.40" font-size="7.6" text-anchor="end" fill="#333" stroke="#333" stroke-width="0.12" transform="rotate(-45 426.20 654.40)">0.001% mNBA</text>
<line x1="420.00" y1="624.95" x2="427.20" y2="624.95" stroke="#111111" stroke-width="0.9"/>
<circle cx="420.90" cy="624.85" r="1.80" fill="#111111"/>
<circle cx="423.60" cy="624.95" r="1.80" fill="#111111"/>
<circle cx="426.30" cy="625.04" r="1.80" fill="#111111"/>
<line x1="433.58" y1="647.20" x2="433.58" y2="650.20" stroke="#444" stroke-width="0.9"/>
<text x="436.18" y="654.40" font-size="7.6" text-anchor="end" fill="#333" stroke="#333" stroke-width="0.12" transform="rotate(-45 436.18 654.40)">0.01% mNBA</text>
<line x1="429.98" y1="619.65" x2="437.18" y2="619.65" stroke="#a8742a" stroke-width="0.9"/>
<circle cx="430.88" cy="619.57" r="1.80" fill="#a8742a"/>
<circle cx="433.58" cy="619.65" r="1.80" fill="#a8742a"/>
<circle cx="436.28" cy="619.79" r="1.80" fill="#a8742a"/>
<line x1="443.56" y1="647.20" x2="443.56" y2="650.20" stroke="#444" stroke-width="0.9"/>
<text x="446.16" y="654.40" font-size="7.6" text-anchor="end" fill="#333" stroke="#333" stroke-width="0.12" transform="rotate(-45 446.16 654.40)">0.1% mNBA</text>
<line x1="439.96" y1="588.92" x2="447.16" y2="588.92" stroke="#262c8c" stroke-width="0.9"/>
<circle cx="441.66" cy="586.54" r="1.80" fill="#262c8c"/>
<circle cx="441.66" cy="588.92" r="1.80" fill="#262c8c"/>
<circle cx="445.46" cy="591.04" r="1.80" fill="#262c8c"/>
<line x1="453.54" y1="647.20" x2="453.54" y2="650.20" stroke="#444" stroke-width="0.9"/>
<text x="456.14" y="654.40" font-size="7.6" text-anchor="end" fill="#333" stroke="#333" stroke-width="0.12" transform="rotate(-45 456.14 654.40)">3% DMSO + 0.001% mNBA</text>
<line x1="449.94" y1="626.27" x2="457.14" y2="626.27" stroke="#6e1a62" stroke-width="0.9"/>
<circle cx="450.84" cy="626.14" r="1.80" fill="#6e1a62"/>
<circle cx="453.54" cy="626.27" r="1.80" fill="#6e1a62"/>
<circle cx="456.24" cy="626.40" r="1.80" fill="#6e1a62"/>
<line x1="463.52" y1="647.20" x2="463.52" y2="650.20" stroke="#444" stroke-width="0.9"/>
<text x="466.12" y="654.40" font-size="7.6" text-anchor="end" fill="#333" stroke="#333" stroke-width="0.12" transform="rotate(-45 466.12 654.40)">3% DMSO + 0.01% mNBA</text>
<line x1="459.92" y1="627.19" x2="467.12" y2="627.19" stroke="#b01c2e" stroke-width="0.9"/>
<circle cx="460.82" cy="626.27" r="1.80" fill="#b01c2e"/>
<circle cx="463.52" cy="627.19" r="1.80" fill="#b01c2e"/>
<circle cx="466.22" cy="628.13" r="1.80" fill="#b01c2e"/>
<line x1="473.50" y1="647.20" x2="473.50" y2="650.20" stroke="#444" stroke-width="0.9"/>
<text x="476.10" y="654.40" font-size="7.6" text-anchor="end" fill="#333" stroke="#333" stroke-width="0.12" transform="rotate(-45 476.10 654.40)">3% DMSO + 0.1% mNBA</text>
<line x1="469.90" y1="601.64" x2="477.10" y2="601.64" stroke="#1e6e35" stroke-width="0.9"/>
<circle cx="470.80" cy="600.84" r="1.80" fill="#1e6e35"/>
<circle cx="473.50" cy="601.64" r="1.80" fill="#1e6e35"/>
<circle cx="476.20" cy="601.90" r="1.80" fill="#1e6e35"/>
<text x="-0.30" y="738.60" font-size="14" text-anchor="start" fill="#111" font-weight="bold">J</text>
<rect x="123.90" y="741.35" width="81.05" height="10.00" fill="#3a4ea3"/>
<rect x="204.95" y="741.35" width="28.30" height="10.00" fill="#ec1c24"/>
<rect x="233.25" y="741.35" width="3.85" height="10.00" fill="#2db04b"/>
<line x1="204.95" y1="741.35" x2="204.95" y2="751.35" stroke="#e8e8f0" stroke-width="0.6"/>
<line x1="233.25" y1="741.35" x2="233.25" y2="751.35" stroke="#f0d0d0" stroke-width="0.5"/>
<line x1="118.40" y1="746.35" x2="123.90" y2="746.35" stroke="#444" stroke-width="0.9"/>
<text x="113.90" y="749.35" font-size="8.6" text-anchor="end" fill="#222" stroke="#222" stroke-width="0.12">FA</text>
<rect x="123.90" y="753.15" width="80.15" height="10.00" fill="#3a4ea3"/>
<rect x="204.05" y="753.15" width="28.19" height="10.00" fill="#ec1c24"/>
<rect x="232.23" y="753.15" width="3.85" height="10.00" fill="#2db04b"/>
<line x1="204.05" y1="753.15" x2="204.05" y2="763.15" stroke="#e8e8f0" stroke-width="0.6"/>
<line x1="232.23" y1="753.15" x2="232.23" y2="763.15" stroke="#f0d0d0" stroke-width="0.5"/>
<line x1="118.40" y1="758.15" x2="123.90" y2="758.15" stroke="#444" stroke-width="0.9"/>
<text x="113.90" y="761.15" font-size="8.6" text-anchor="end" fill="#222" stroke="#222" stroke-width="0.12">1% DMSO</text>
<rect x="123.90" y="764.95" width="79.47" height="10.00" fill="#3a4ea3"/>
<rect x="203.37" y="764.95" width="28.87" height="10.00" fill="#ec1c24"/>
<rect x="232.23" y="764.95" width="4.87" height="10.00" fill="#2db04b"/>
<line x1="203.37" y1="764.95" x2="203.37" y2="774.95" stroke="#e8e8f0" stroke-width="0.6"/>
<line x1="232.23" y1="764.95" x2="232.23" y2="774.95" stroke="#f0d0d0" stroke-width="0.5"/>
<line x1="118.40" y1="769.95" x2="123.90" y2="769.95" stroke="#444" stroke-width="0.9"/>
<text x="113.90" y="772.95" font-size="8.6" text-anchor="end" fill="#222" stroke="#222" stroke-width="0.12">3% DMSO</text>
<rect x="123.90" y="776.75" width="79.69" height="10.00" fill="#3a4ea3"/>
<rect x="203.59" y="776.75" width="28.19" height="10.00" fill="#ec1c24"/>
<rect x="231.78" y="776.75" width="5.32" height="10.00" fill="#2db04b"/>
<line x1="203.59" y1="776.75" x2="203.59" y2="786.75" stroke="#e8e8f0" stroke-width="0.6"/>
<line x1="231.78" y1="776.75" x2="231.78" y2="786.75" stroke="#f0d0d0" stroke-width="0.5"/>
<line x1="118.40" y1="781.75" x2="123.90" y2="781.75" stroke="#444" stroke-width="0.9"/>
<text x="113.90" y="784.75" font-size="8.6" text-anchor="end" fill="#222" stroke="#222" stroke-width="0.12">5% DMSO</text>
<rect x="123.90" y="788.55" width="80.15" height="10.00" fill="#3a4ea3"/>
<rect x="204.05" y="788.55" width="28.19" height="10.00" fill="#ec1c24"/>
<rect x="232.23" y="788.55" width="3.85" height="10.00" fill="#2db04b"/>
<line x1="204.05" y1="788.55" x2="204.05" y2="798.55" stroke="#e8e8f0" stroke-width="0.6"/>
<line x1="232.23" y1="788.55" x2="232.23" y2="798.55" stroke="#f0d0d0" stroke-width="0.5"/>
<line x1="118.40" y1="793.55" x2="123.90" y2="793.55" stroke="#444" stroke-width="0.9"/>
<text x="113.90" y="796.55" font-size="8.6" text-anchor="end" fill="#222" stroke="#222" stroke-width="0.12">7% DMSO</text>
<rect x="123.90" y="800.35" width="78.67" height="10.00" fill="#3a4ea3"/>
<rect x="202.57" y="800.35" width="30.00" height="10.00" fill="#ec1c24"/>
<rect x="232.57" y="800.35" width="4.53" height="10.00" fill="#2db04b"/>
<line x1="202.57" y1="800.35" x2="202.57" y2="810.35" stroke="#e8e8f0" stroke-width="0.6"/>
<line x1="232.57" y1="800.35" x2="232.57" y2="810.35" stroke="#f0d0d0" stroke-width="0.5"/>
<line x1="118.40" y1="805.35" x2="123.90" y2="805.35" stroke="#444" stroke-width="0.9"/>
<text x="113.90" y="808.35" font-size="8.6" text-anchor="end" fill="#222" stroke="#222" stroke-width="0.12">0.001% mNBA</text>
<rect x="123.90" y="812.15" width="74.60" height="10.00" fill="#3a4ea3"/>
<rect x="198.50" y="812.15" width="33.51" height="10.00" fill="#ec1c24"/>
<rect x="232.01" y="812.15" width="5.09" height="10.00" fill="#2db04b"/>
<line x1="198.50" y1="812.15" x2="198.50" y2="822.15" stroke="#e8e8f0" stroke-width="0.6"/>
<line x1="232.01" y1="812.15" x2="232.01" y2="822.15" stroke="#f0d0d0" stroke-width="0.5"/>
<line x1="118.40" y1="817.15" x2="123.90" y2="817.15" stroke="#444" stroke-width="0.9"/>
<text x="113.90" y="820.15" font-size="8.6" text-anchor="end" fill="#222" stroke="#222" stroke-width="0.12">0.01% mNBA</text>
<rect x="123.90" y="823.95" width="66.34" height="10.00" fill="#3a4ea3"/>
<rect x="190.24" y="823.95" width="37.70" height="10.00" fill="#ec1c24"/>
<rect x="227.93" y="823.95" width="9.17" height="10.00" fill="#2db04b"/>
<line x1="190.24" y1="823.95" x2="190.24" y2="833.95" stroke="#e8e8f0" stroke-width="0.6"/>
<line x1="227.93" y1="823.95" x2="227.93" y2="833.95" stroke="#f0d0d0" stroke-width="0.5"/>
<line x1="118.40" y1="828.95" x2="123.90" y2="828.95" stroke="#444" stroke-width="0.9"/>
<text x="113.90" y="831.95" font-size="8.6" text-anchor="end" fill="#222" stroke="#222" stroke-width="0.12">0.1% mNBA</text>
<rect x="123.90" y="835.75" width="81.50" height="10.00" fill="#3a4ea3"/>
<rect x="205.40" y="835.75" width="27.17" height="10.00" fill="#ec1c24"/>
<rect x="232.57" y="835.75" width="3.51" height="10.00" fill="#2db04b"/>
<line x1="205.40" y1="835.75" x2="205.40" y2="845.75" stroke="#e8e8f0" stroke-width="0.6"/>
<line x1="232.57" y1="835.75" x2="232.57" y2="845.75" stroke="#f0d0d0" stroke-width="0.5"/>
<line x1="118.40" y1="840.75" x2="123.90" y2="840.75" stroke="#444" stroke-width="0.9"/>
<text x="113.90" y="843.75" font-size="8.6" text-anchor="end" fill="#222" stroke="#222" stroke-width="0.12">3% DMSO_0.001% mNBA</text>
<rect x="123.90" y="847.55" width="79.69" height="10.00" fill="#3a4ea3"/>
<rect x="203.59" y="847.55" width="28.98" height="10.00" fill="#ec1c24"/>
<rect x="232.57" y="847.55" width="3.51" height="10.00" fill="#2db04b"/>
<line x1="203.59" y1="847.55" x2="203.59" y2="857.55" stroke="#e8e8f0" stroke-width="0.6"/>
<line x1="232.57" y1="847.55" x2="232.57" y2="857.55" stroke="#f0d0d0" stroke-width="0.5"/>
<line x1="118.40" y1="852.55" x2="123.90" y2="852.55" stroke="#444" stroke-width="0.9"/>
<text x="113.90" y="855.55" font-size="8.6" text-anchor="end" fill="#222" stroke="#222" stroke-width="0.12">3% DMSO_0.01% mNBA</text>
<rect x="123.90" y="859.35" width="70.52" height="10.00" fill="#3a4ea3"/>
<rect x="194.42" y="859.35" width="34.64" height="10.00" fill="#ec1c24"/>
<rect x="229.06" y="859.35" width="8.04" height="10.00" fill="#2db04b"/>
<line x1="194.42" y1="859.35" x2="194.42" y2="869.35" stroke="#e8e8f0" stroke-width="0.6"/>
<line x1="229.06" y1="859.35" x2="229.06" y2="869.35" stroke="#f0d0d0" stroke-width="0.5"/>
<line x1="118.40" y1="864.35" x2="123.90" y2="864.35" stroke="#444" stroke-width="0.9"/>
<text x="113.90" y="867.35" font-size="8.6" text-anchor="end" fill="#222" stroke="#222" stroke-width="0.12">3% DMSO_0.1% mNBA</text>
<line x1="123.90" y1="734.10" x2="123.90" y2="875.70" stroke="#444" stroke-width="0.9"/>
<line x1="123.90" y1="875.70" x2="237.60" y2="875.70" stroke="#444" stroke-width="0.9"/>
<line x1="123.90" y1="875.70" x2="123.90" y2="879.70" stroke="#444" stroke-width="0.9"/>
<text x="123.90" y="891.50" font-size="8.5" text-anchor="middle" fill="#222" stroke="#222" stroke-width="0.12">0</text>
<line x1="180.50" y1="875.70" x2="180.50" y2="879.70" stroke="#444" stroke-width="0.9"/>
<text x="180.50" y="891.50" font-size="8.5" text-anchor="middle" fill="#222" stroke="#222" stroke-width="0.12">50</text>
<line x1="237.10" y1="875.70" x2="237.10" y2="879.70" stroke="#444" stroke-width="0.9"/>
<text x="237.10" y="891.50" font-size="8.5" text-anchor="middle" fill="#222" stroke="#222" stroke-width="0.12">100</text>
<text x="180.20" y="907.00" font-size="8.6" text-anchor="middle" fill="#222" stroke="#222" stroke-width="0.12">Percentage (%)</text>
<rect x="256.20" y="742.90" width="14.00" height="5.60" fill="#3a4ea3"/>
<text x="280.00" y="749.50" font-size="8.6" text-anchor="start" fill="#222" stroke="#222" stroke-width="0.12">Charge 2+</text>
<rect x="256.20" y="762.00" width="14.00" height="5.60" fill="#ec1c24"/>
<text x="280.00" y="768.60" font-size="8.6" text-anchor="start" fill="#222" stroke="#222" stroke-width="0.12">Charge 3+</text>
<rect x="256.20" y="781.10" width="14.00" height="5.60" fill="#2db04b"/>
<text x="280.00" y="787.70" font-size="8.6" text-anchor="start" fill="#222" stroke="#222" stroke-width="0.12">Charge 4+</text>
<text x="344.60" y="738.70" font-size="14" text-anchor="start" fill="#111" font-weight="bold">K</text>
<text x="438.00" y="747.00" font-size="8.5" text-anchor="middle" fill="#222" stroke="#222" stroke-width="0.12">Proteins_groups</text>
<line x1="384.20" y1="760.20" x2="384.20" y2="874.50" stroke="#333" stroke-width="0.9"/>
<line x1="384.20" y1="874.50" x2="497.60" y2="874.50" stroke="#333" stroke-width="0.9"/>
<line x1="380.20" y1="874.50" x2="384.20" y2="874.50" stroke="#333" stroke-width="0.9"/>
<text x="376.70" y="877.30" font-size="8.0" text-anchor="end" fill="#333" stroke="#333" stroke-width="0.12">9300</text>
<line x1="380.20" y1="845.92" x2="384.20" y2="845.92" stroke="#333" stroke-width="0.9"/>
<text x="376.70" y="848.72" font-size="8.0" text-anchor="end" fill="#333" stroke="#333" stroke-width="0.12">9400</text>
<line x1="380.20" y1="817.35" x2="384.20" y2="817.35" stroke="#333" stroke-width="0.9"/>
<text x="376.70" y="820.15" font-size="8.0" text-anchor="end" fill="#333" stroke="#333" stroke-width="0.12">9500</text>
<line x1="380.20" y1="788.78" x2="384.20" y2="788.78" stroke="#333" stroke-width="0.9"/>
<text x="376.70" y="791.58" font-size="8.0" text-anchor="end" fill="#333" stroke="#333" stroke-width="0.12">9600</text>
<line x1="380.20" y1="760.20" x2="384.20" y2="760.20" stroke="#333" stroke-width="0.9"/>
<text x="376.70" y="763.00" font-size="8.0" text-anchor="end" fill="#333" stroke="#333" stroke-width="0.12">9700</text>
<text x="350.80" y="821.50" font-size="8.5" text-anchor="middle" fill="#333" stroke="#333" stroke-width="0.12" transform="rotate(-90 350.80 821.50)">Number (n)</text>
<line x1="416.90" y1="874.50" x2="416.90" y2="879.50" stroke="#333" stroke-width="0.9"/>
<text x="379.80" y="930.90" font-size="8.6" text-anchor="middle" fill="#222" stroke="#222" stroke-width="0.12" transform="rotate(-45 379.80 930.90)">Predicted library (1 µg HeLa)</text>
<line x1="465.50" y1="874.50" x2="465.50" y2="879.50" stroke="#333" stroke-width="0.9"/>
<text x="428.40" y="930.90" font-size="8.6" text-anchor="middle" fill="#222" stroke="#222" stroke-width="0.12" transform="rotate(-45 428.40 930.90)">Experimental library (1 µg HeLa)</text>
<path d="M416.80,837.50 L417.15,837.50 L417.15,837.77 L417.15,838.03 L417.15,838.30 L417.24,838.57 L417.41,838.84 L417.63,839.11 L417.92,839.37 L418.27,839.64 L418.71,839.91 L419.24,840.17 L419.86,840.44 L420.57,840.71 L421.37,840.98 L422.26,841.25 L423.21,841.51 L424.22,841.78 L425.26,842.05 L426.30,842.31 L427.33,842.58 L428.31,842.85 L429.23,843.12 L430.06,843.38 L430.79,843.65 L431.41,843.92 L431.90,844.19 L432.26,844.46 L432.50,844.72 L432.60,844.99 L432.57,845.26 L432.41,845.52 L432.13,845.79 L431.72,846.06 L431.20,846.33 L430.58,846.60 L429.87,846.86 L429.10,847.13 L428.29,847.40 L427.47,847.66 L426.67,847.93 L425.94,848.20 L425.30,848.47 L424.78,848.74 L424.40,849.00 L424.18,849.27 L424.12,849.54 L424.22,849.80 L424.46,850.07 L424.81,850.34 L425.25,850.61 L425.72,850.88 L426.19,851.14 L426.61,851.41 L426.95,851.68 L427.16,851.94 L427.23,852.21 L427.14,852.48 L426.89,852.75 L426.48,853.01 L425.93,853.28 L425.27,853.55 L424.51,853.82 L423.70,854.09 L422.87,854.35 L422.04,854.62 L421.25,854.89 L420.51,855.15 L419.84,855.42 L419.24,855.69 L418.73,855.96 L418.30,856.23 L417.94,856.49 L417.65,856.76 L417.43,857.03 L417.25,857.29 L417.15,857.56 L417.15,857.83 L417.15,858.10 L417.15,858.37 L417.15,858.63 L417.15,858.90 L416.80,858.90 L416.45,858.90 L416.45,858.63 L416.45,858.37 L416.45,858.10 L416.45,857.83 L416.45,857.56 L416.35,857.29 L416.17,857.03 L415.95,856.76 L415.66,856.49 L415.30,856.23 L414.87,855.96 L414.36,855.69 L413.76,855.42 L413.09,855.15 L412.35,854.89 L411.56,854.62 L410.73,854.35 L409.90,854.09 L409.09,853.82 L408.33,853.55 L407.67,853.28 L407.12,853.01 L406.71,852.75 L406.46,852.48 L406.37,852.21 L406.44,851.94 L406.65,851.68 L406.99,851.41 L407.41,851.14 L407.88,850.88 L408.35,850.61 L408.79,850.34 L409.14,850.07 L409.38,849.80 L409.48,849.54 L409.42,849.27 L409.20,849.00 L408.82,848.74 L408.30,848.47 L407.66,848.20 L406.93,847.93 L406.13,847.66 L405.31,847.40 L404.50,847.13 L403.73,846.86 L403.02,846.60 L402.40,846.33 L401.88,846.06 L401.47,845.79 L401.19,845.52 L401.03,845.26 L401.00,844.99 L401.10,844.72 L401.34,844.46 L401.70,844.19 L402.19,843.92 L402.81,843.65 L403.54,843.38 L404.37,843.12 L405.29,842.85 L406.27,842.58 L407.30,842.31 L408.34,842.05 L409.38,841.78 L410.39,841.51 L411.34,841.25 L412.23,840.98 L413.03,840.71 L413.74,840.44 L414.36,840.17 L414.89,839.91 L415.33,839.64 L415.68,839.37 L415.97,839.11 L416.19,838.84 L416.36,838.57 L416.45,838.30 L416.45,838.03 L416.45,837.77 L416.45,837.50 Z" fill="#8e9bd6" stroke="#3f56b5" stroke-width="0.8" stroke-linejoin="round"/>
<line x1="406.43" y1="847.50" x2="427.17" y2="847.50" stroke="#3f56b5" stroke-width="0.7" stroke-dasharray="1.6,1.2"/>
<circle cx="412.20" cy="843.60" r="2.00" fill="#3f56b5"/>
<circle cx="421.60" cy="847.50" r="2.00" fill="#3f56b5"/>
<circle cx="417.00" cy="852.30" r="2.00" fill="#3f56b5"/>
<path d="M465.50,772.50 L465.85,772.50 L465.85,772.86 L465.85,773.21 L465.85,773.57 L465.85,773.92 L465.85,774.28 L465.85,774.64 L465.98,774.99 L466.18,775.35 L466.45,775.71 L466.80,776.06 L467.23,776.42 L467.75,776.77 L468.36,777.13 L469.04,777.49 L469.79,777.84 L470.57,778.20 L471.34,778.56 L472.08,778.91 L472.74,779.27 L473.27,779.62 L473.64,779.98 L473.83,780.34 L473.83,780.69 L473.63,781.05 L473.25,781.41 L472.71,781.76 L472.07,782.12 L471.36,782.48 L470.63,782.83 L469.93,783.19 L469.30,783.54 L468.79,783.90 L468.41,784.26 L468.20,784.61 L468.18,784.97 L468.35,785.33 L468.73,785.68 L469.32,786.04 L470.11,786.39 L471.08,786.75 L472.21,787.11 L473.46,787.46 L474.78,787.82 L476.12,788.17 L477.42,788.53 L478.61,788.89 L479.62,789.24 L480.40,789.60 L480.91,789.96 L481.10,790.31 L480.97,790.67 L480.53,791.02 L479.80,791.38 L478.83,791.74 L477.67,792.09 L476.37,792.45 L475.02,792.81 L473.65,793.16 L472.34,793.52 L471.11,793.88 L470.01,794.23 L469.05,794.59 L468.23,794.94 L467.55,795.30 L467.01,795.66 L466.59,796.01 L466.27,796.37 L466.03,796.73 L465.85,797.08 L465.85,797.44 L465.85,797.79 L465.85,798.15 L465.85,798.51 L465.85,798.86 L465.85,799.22 L465.85,799.58 L465.85,799.93 L465.85,800.29 L465.85,800.64 L465.85,801.00 L465.50,801.00 L465.15,801.00 L465.15,800.64 L465.15,800.29 L465.15,799.93 L465.15,799.58 L465.15,799.22 L465.15,798.86 L465.15,798.51 L465.15,798.15 L465.15,797.79 L465.15,797.44 L465.15,797.08 L464.97,796.73 L464.73,796.37 L464.41,796.01 L463.99,795.66 L463.45,795.30 L462.77,794.94 L461.95,794.59 L460.99,794.23 L459.89,793.88 L458.66,793.52 L457.35,793.16 L455.98,792.81 L454.63,792.45 L453.33,792.09 L452.17,791.74 L451.20,791.38 L450.47,791.02 L450.03,790.67 L449.90,790.31 L450.09,789.96 L450.60,789.60 L451.38,789.24 L452.39,788.89 L453.58,788.53 L454.88,788.17 L456.22,787.82 L457.54,787.46 L458.79,787.11 L459.92,786.75 L460.89,786.39 L461.68,786.04 L462.27,785.68 L462.65,785.33 L462.82,784.97 L462.80,784.61 L462.59,784.26 L462.21,783.90 L461.70,783.54 L461.07,783.19 L460.37,782.83 L459.64,782.48 L458.93,782.12 L458.29,781.76 L457.75,781.41 L457.37,781.05 L457.17,780.69 L457.17,780.34 L457.36,779.98 L457.73,779.62 L458.26,779.27 L458.92,778.91 L459.66,778.56 L460.43,778.20 L461.21,777.84 L461.96,777.49 L462.64,777.13 L463.25,776.77 L463.77,776.42 L464.20,776.06 L464.55,775.71 L464.82,775.35 L465.02,774.99 L465.15,774.64 L465.15,774.28 L465.15,773.92 L465.15,773.57 L465.15,773.21 L465.15,772.86 L465.15,772.50 Z" fill="#f59a80" stroke="#ee3b2b" stroke-width="0.8" stroke-linejoin="round"/>
<line x1="453.15" y1="788.90" x2="477.85" y2="788.90" stroke="#ee3b2b" stroke-width="0.7" stroke-dasharray="1.6,1.2"/>
<circle cx="465.80" cy="780.50" r="2.00" fill="#ee3b2b"/>
<circle cx="470.30" cy="788.90" r="2.00" fill="#ee3b2b"/>
<circle cx="461.00" cy="792.10" r="2.00" fill="#ee3b2b"/>
<text x="417.50" y="828.80" font-size="8.6" text-anchor="middle" fill="#333" stroke="#333" stroke-width="0.12">9,392</text>
<text x="465.80" y="767.00" font-size="8.6" text-anchor="middle" fill="#333" stroke="#333" stroke-width="0.12">9,606</text>
<text x="523.50" y="738.50" font-size="14" text-anchor="start" fill="#111" font-weight="bold">L</text>
<text x="626.30" y="746.70" font-size="8.5" text-anchor="middle" fill="#222" stroke="#222" stroke-width="0.12">Peptides</text>
<line x1="572.10" y1="761.00" x2="572.10" y2="873.20" stroke="#333" stroke-width="0.9"/>
<line x1="572.10" y1="873.20" x2="685.00" y2="873.20" stroke="#333" stroke-width="0.9"/>
<line x1="568.10" y1="873.20" x2="572.10" y2="873.20" stroke="#333" stroke-width="0.9"/>
<text x="565.60" y="876.00" font-size="8.0" text-anchor="end" fill="#333" stroke="#333" stroke-width="0.12">85000</text>
<line x1="569.50" y1="861.98" x2="572.10" y2="861.98" stroke="#333" stroke-width="0.7"/>
<line x1="569.50" y1="850.76" x2="572.10" y2="850.76" stroke="#333" stroke-width="0.7"/>
<line x1="569.50" y1="839.54" x2="572.10" y2="839.54" stroke="#333" stroke-width="0.7"/>
<line x1="569.50" y1="828.32" x2="572.10" y2="828.32" stroke="#333" stroke-width="0.7"/>
<line x1="568.10" y1="817.10" x2="572.10" y2="817.10" stroke="#333" stroke-width="0.9"/>
<text x="565.60" y="819.90" font-size="8.0" text-anchor="end" fill="#333" stroke="#333" stroke-width="0.12">90000</text>
<line x1="569.50" y1="805.88" x2="572.10" y2="805.88" stroke="#333" stroke-width="0.7"/>
<line x1="569.50" y1="794.66" x2="572.10" y2="794.66" stroke="#333" stroke-width="0.7"/>
<line x1="569.50" y1="783.44" x2="572.10" y2="783.44" stroke="#333" stroke-width="0.7"/>
<line x1="569.50" y1="772.22" x2="572.10" y2="772.22" stroke="#333" stroke-width="0.7"/>
<line x1="568.10" y1="761.00" x2="572.10" y2="761.00" stroke="#333" stroke-width="0.9"/>
<text x="565.60" y="763.80" font-size="8.0" text-anchor="end" fill="#333" stroke="#333" stroke-width="0.12">95000</text>
<text x="535.60" y="820.30" font-size="8.5" text-anchor="middle" fill="#333" stroke="#333" stroke-width="0.12" transform="rotate(-90 535.60 820.30)">Number (n)</text>
<line x1="604.60" y1="873.20" x2="604.60" y2="878.20" stroke="#333" stroke-width="0.9"/>
<text x="569.40" y="926.90" font-size="8.6" text-anchor="middle" fill="#222" stroke="#222" stroke-width="0.12" transform="rotate(-45 569.40 926.90)">Predicted library (1 µg HeLa)</text>
<line x1="652.70" y1="873.20" x2="652.70" y2="878.20" stroke="#333" stroke-width="0.9"/>
<text x="617.50" y="926.90" font-size="8.6" text-anchor="middle" fill="#222" stroke="#222" stroke-width="0.12" transform="rotate(-45 617.50 926.90)">Experimental library (1 µg HeLa)</text>
<path d="M604.40,786.50 L604.75,786.50 L604.75,786.99 L604.75,787.48 L604.75,787.97 L604.75,788.46 L604.75,788.94 L604.75,789.43 L604.82,789.92 L605.01,790.41 L605.25,790.90 L605.57,791.39 L605.97,791.88 L606.46,792.37 L607.05,792.85 L607.74,793.34 L608.50,793.83 L609.34,794.32 L610.21,794.81 L611.10,795.30 L611.95,795.79 L612.72,796.27 L613.37,796.76 L613.87,797.25 L614.19,797.74 L614.30,798.23 L614.21,798.72 L613.92,799.21 L613.46,799.70 L612.88,800.19 L612.22,800.67 L611.54,801.16 L610.89,801.65 L610.32,802.14 L609.88,802.63 L609.61,803.12 L609.52,803.61 L609.65,804.10 L609.98,804.58 L610.51,805.07 L611.20,805.56 L612.04,806.05 L612.97,806.54 L613.97,807.03 L614.98,807.52 L615.96,808.00 L616.87,808.49 L617.69,808.98 L618.39,809.47 L618.95,809.96 L619.36,810.45 L619.61,810.94 L619.70,811.43 L619.62,811.91 L619.38,812.40 L618.98,812.89 L618.43,813.38 L617.72,813.87 L616.88,814.36 L615.93,814.85 L614.90,815.34 L613.80,815.83 L612.68,816.31 L611.56,816.80 L610.48,817.29 L609.47,817.78 L608.55,818.27 L607.72,818.76 L607.01,819.25 L606.41,819.74 L605.92,820.22 L605.52,820.71 L605.21,821.20 L604.97,821.69 L604.80,822.18 L604.75,822.67 L604.75,823.16 L604.75,823.64 L604.75,824.13 L604.75,824.62 L604.75,825.11 L604.75,825.60 L604.40,825.60 L604.05,825.60 L604.05,825.11 L604.05,824.62 L604.05,824.13 L604.05,823.64 L604.05,823.16 L604.05,822.67 L604.00,822.18 L603.83,821.69 L603.59,821.20 L603.28,820.71 L602.88,820.22 L602.39,819.74 L601.79,819.25 L601.08,818.76 L600.25,818.27 L599.33,817.78 L598.32,817.29 L597.24,816.80 L596.12,816.31 L595.00,815.83 L593.90,815.34 L592.87,814.85 L591.92,814.36 L591.08,813.87 L590.37,813.38 L589.82,812.89 L589.42,812.40 L589.18,811.91 L589.10,811.43 L589.19,810.94 L589.44,810.45 L589.85,809.96 L590.41,809.47 L591.11,808.98 L591.93,808.49 L592.84,808.00 L593.82,807.52 L594.83,807.03 L595.83,806.54 L596.76,806.05 L597.60,805.56 L598.29,805.07 L598.82,804.58 L599.15,804.10 L599.28,803.61 L599.19,803.12 L598.92,802.63 L598.48,802.14 L597.91,801.65 L597.26,801.16 L596.58,800.67 L595.92,800.19 L595.34,799.70 L594.88,799.21 L594.59,798.72 L594.50,798.23 L594.61,797.74 L594.93,797.25 L595.43,796.76 L596.08,796.27 L596.85,795.79 L597.70,795.30 L598.59,794.81 L599.46,794.32 L600.30,793.83 L601.06,793.34 L601.75,792.85 L602.34,792.37 L602.83,791.88 L603.23,791.39 L603.55,790.90 L603.79,790.41 L603.98,789.92 L604.05,789.43 L604.05,788.94 L604.05,788.46 L604.05,787.97 L604.05,787.48 L604.05,786.99 L604.05,786.50 Z" fill="#8e9bd6" stroke="#3f56b5" stroke-width="0.8" stroke-linejoin="round"/>
<line x1="595.30" y1="798.20" x2="613.50" y2="798.20" stroke="#3f56b5" stroke-width="0.7" stroke-dasharray="1.6,1.2"/>
<line x1="591.73" y1="809.10" x2="617.07" y2="809.10" stroke="#3f56b5" stroke-width="0.7" stroke-dasharray="1.6,1.2"/>
<line x1="591.77" y1="813.80" x2="617.03" y2="813.80" stroke="#3f56b5" stroke-width="0.7" stroke-dasharray="1.6,1.2"/>
<circle cx="604.40" cy="798.20" r="2.00" fill="#3f56b5"/>
<circle cx="604.40" cy="809.10" r="2.00" fill="#3f56b5"/>
<circle cx="604.40" cy="813.80" r="2.00" fill="#3f56b5"/>
<path d="M652.30,776.30 L652.65,776.30 L652.73,776.67 L652.87,777.05 L653.04,777.42 L653.26,777.79 L653.52,778.17 L653.83,778.54 L654.20,778.92 L654.62,779.29 L655.11,779.66 L655.65,780.04 L656.25,780.41 L656.90,780.78 L657.59,781.16 L658.31,781.53 L659.05,781.91 L659.78,782.28 L660.49,782.65 L661.16,783.03 L661.78,783.40 L662.34,783.77 L662.81,784.15 L663.20,784.52 L663.50,784.90 L663.71,785.27 L663.83,785.64 L663.89,786.02 L663.90,786.39 L663.87,786.76 L663.83,787.14 L663.78,787.51 L663.76,787.89 L663.78,788.26 L663.84,788.63 L663.96,789.01 L664.14,789.38 L664.37,789.75 L664.65,790.13 L664.97,790.50 L665.33,790.88 L665.69,791.25 L666.06,791.62 L666.42,792.00 L666.75,792.37 L667.05,792.75 L667.31,793.12 L667.52,793.49 L667.67,793.87 L667.77,794.24 L667.80,794.61 L667.77,794.99 L667.67,795.36 L667.50,795.74 L667.25,796.11 L666.93,796.48 L666.53,796.86 L666.05,797.23 L665.49,797.60 L664.86,797.98 L664.17,798.35 L663.41,798.73 L662.61,799.10 L661.78,799.47 L660.93,799.85 L660.07,800.22 L659.22,800.59 L658.40,800.97 L657.62,801.34 L656.88,801.72 L656.20,802.09 L655.58,802.46 L655.03,802.84 L654.54,803.21 L654.12,803.58 L653.76,803.96 L653.45,804.33 L653.20,804.71 L653.00,805.08 L652.83,805.45 L652.70,805.83 L652.65,806.20 L652.30,806.20 L651.95,806.20 L651.90,805.83 L651.77,805.45 L651.60,805.08 L651.40,804.71 L651.15,804.33 L650.84,803.96 L650.48,803.58 L650.06,803.21 L649.57,802.84 L649.02,802.46 L648.40,802.09 L647.72,801.72 L646.98,801.34 L646.20,800.97 L645.38,800.59 L644.53,800.22 L643.67,799.85 L642.82,799.47 L641.99,799.10 L641.19,798.73 L640.43,798.35 L639.74,797.98 L639.11,797.60 L638.55,797.23 L638.07,796.86 L637.67,796.48 L637.35,796.11 L637.10,795.74 L636.93,795.36 L636.83,794.99 L636.80,794.61 L636.83,794.24 L636.93,793.87 L637.08,793.49 L637.29,793.12 L637.55,792.75 L637.85,792.37 L638.18,792.00 L638.54,791.62 L638.91,791.25 L639.27,790.88 L639.63,790.50 L639.95,790.13 L640.23,789.75 L640.46,789.38 L640.64,789.01 L640.76,788.63 L640.82,788.26 L640.84,787.89 L640.82,787.51 L640.77,787.14 L640.73,786.76 L640.70,786.39 L640.71,786.02 L640.77,785.64 L640.89,785.27 L641.10,784.90 L641.40,784.52 L641.79,784.15 L642.26,783.77 L642.82,783.40 L643.44,783.03 L644.11,782.65 L644.82,782.28 L645.55,781.91 L646.29,781.53 L647.01,781.16 L647.70,780.78 L648.35,780.41 L648.95,780.04 L649.49,779.66 L649.98,779.29 L650.40,778.92 L650.77,778.54 L651.08,778.17 L651.34,777.79 L651.56,777.42 L651.73,777.05 L651.87,776.67 L651.95,776.30 Z" fill="#f59a80" stroke="#ee3b2b" stroke-width="0.8" stroke-linejoin="round"/>
<line x1="641.84" y1="785.00" x2="662.76" y2="785.00" stroke="#ee3b2b" stroke-width="0.7" stroke-dasharray="1.6,1.2"/>
<line x1="638.71" y1="792.30" x2="665.89" y2="792.30" stroke="#ee3b2b" stroke-width="0.7" stroke-dasharray="1.6,1.2"/>
<line x1="639.60" y1="797.40" x2="665.00" y2="797.40" stroke="#ee3b2b" stroke-width="0.7" stroke-dasharray="1.6,1.2"/>
<circle cx="652.30" cy="785.00" r="2.00" fill="#ee3b2b"/>
<circle cx="652.30" cy="792.30" r="2.00" fill="#ee3b2b"/>
<circle cx="652.30" cy="797.40" r="2.00" fill="#ee3b2b"/>
<text x="602.00" y="780.00" font-size="8.6" text-anchor="middle" fill="#333" stroke="#333" stroke-width="0.12">90,885</text>
<text x="650.20" y="766.80" font-size="8.6" text-anchor="middle" fill="#333" stroke="#333" stroke-width="0.12">92,276</text>
</svg>
</body></html>
